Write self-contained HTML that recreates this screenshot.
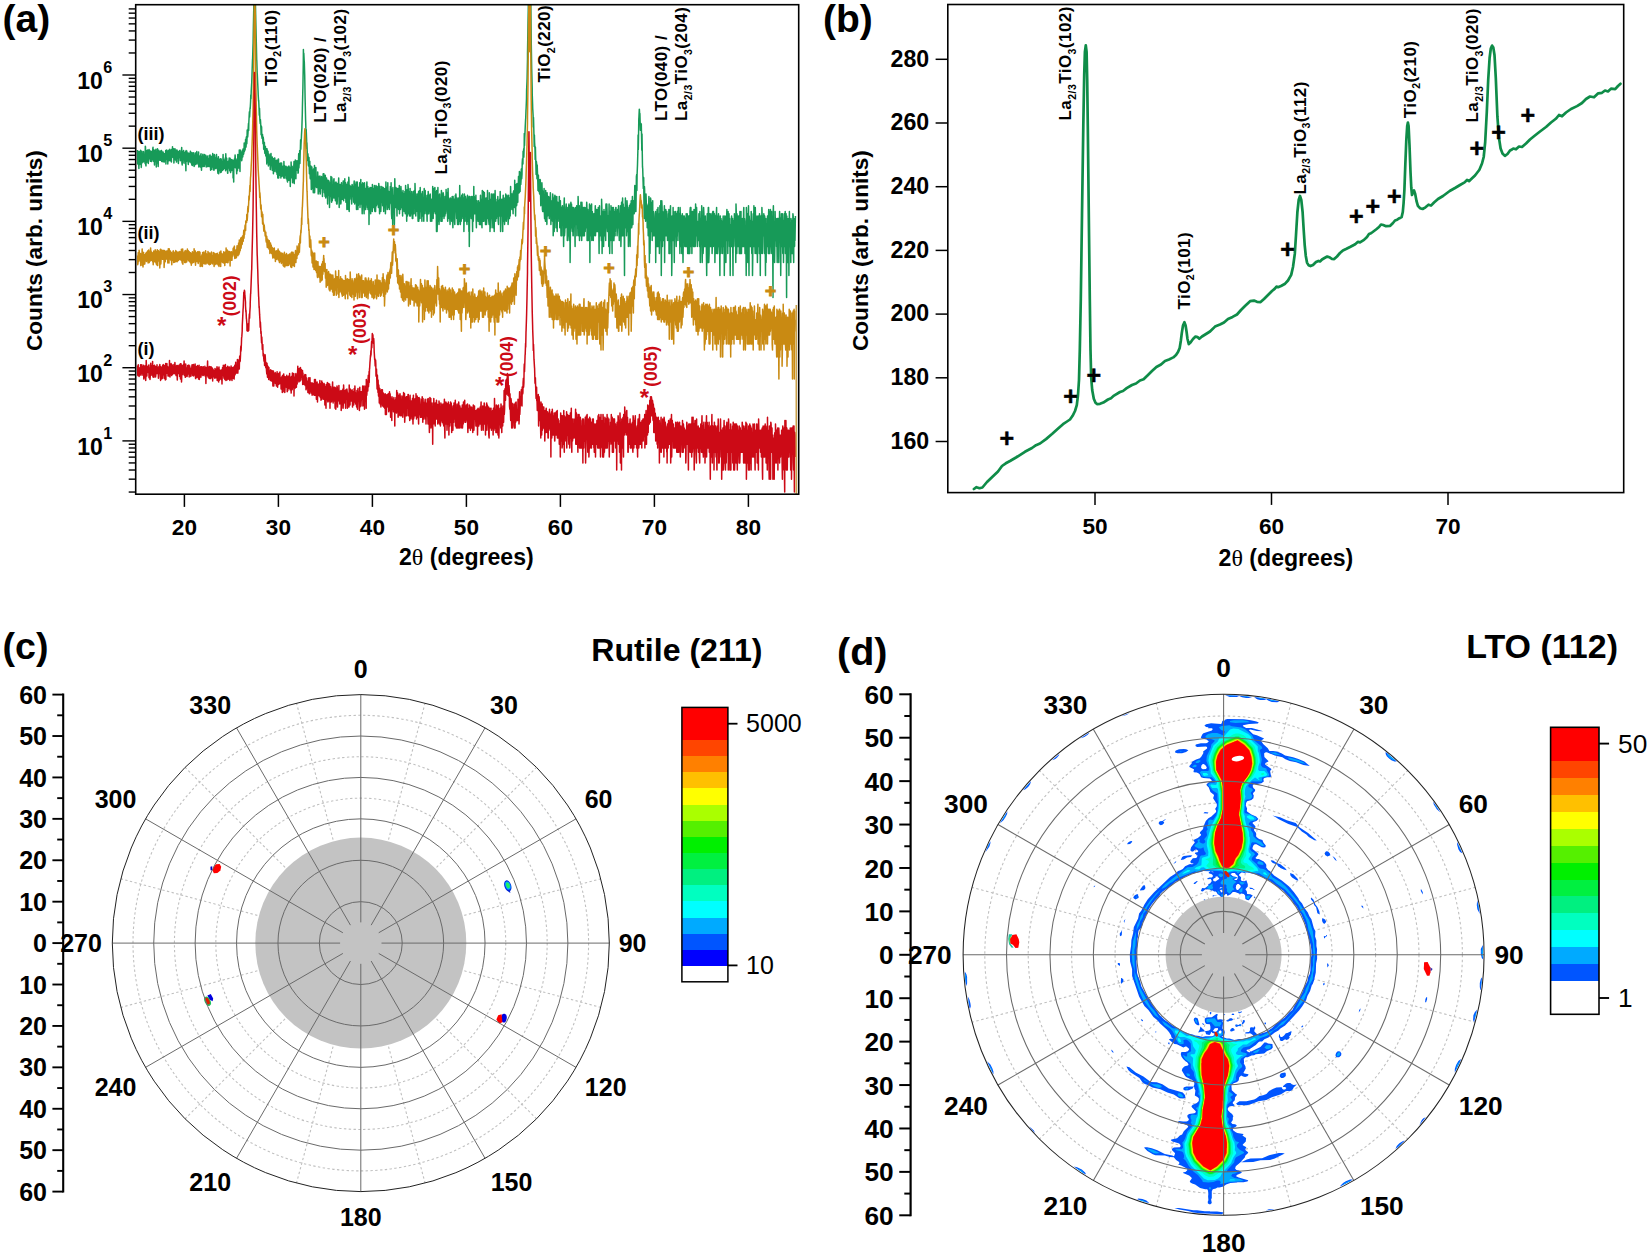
<!DOCTYPE html>
<html lang="en"><head><meta charset="utf-8"><title>XRD figure</title>
<style>
html,body{margin:0;padding:0;background:#fff;}
svg{display:block;font-family:"Liberation Sans", Arial, Helvetica, sans-serif;}
</style></head><body>
<svg width="1650" height="1256" viewBox="0 0 1650 1256">
<rect width="1650" height="1256" fill="#fff"/>
<clipPath id="clipA"><rect x="135.7" y="4.7" width="663.0" height="489.5"/></clipPath>
<g clip-path="url(#clipA)" fill="none" stroke-width="1.5" stroke-linejoin="round">
<path d="M137.5,149.9 137.7,163.9 138,161.6 138.2,153.5 138.5,151.8 138.7,163 138.9,168.5 139.1,151.5 139.3,152.8 139.7,164.4 139.8,151.8 140.2,159.9 140.4,163.9 140.6,150.2 140.8,153.8 141,161.2 141.3,167.4 141.5,155.2 141.8,151.2 142,163 142.2,161.2 142.4,153.5 142.7,154.5 142.9,159.5 143.2,162.1 143.4,151.5 143.6,152.1 143.8,157.9 144.1,161.6 144.3,154.2 144.6,156 144.8,160.7 145.1,163.4 145.3,146.2 145.5,147 145.7,164.9 146,165.9 146.2,150.2 146.5,151.2 146.7,162.5 146.8,153.8 147.2,159.9 147.4,158.7 147.6,149.9 147.9,154.5 148.1,156.7 148.3,163.4 148.6,157.1 148.7,157.1 149.1,149.6 149.2,150.5 149.6,158.7 149.8,158.7 150,152.5 150.2,150.9 150.4,161.2 150.7,159.5 150.9,151.2 151.2,151.8 151.4,157.1 151.6,161.6 151.8,151.5 152.1,154.5 152.3,159.5 152.6,158.3 152.8,148.4 153,147.3 153.2,159.5 153.5,161.2 153.7,149.6 154,151.5 154.2,158.7 154.5,164.9 154.7,150.5 154.9,153.8 155.1,159.9 155.4,161.6 155.6,151.8 155.9,149.3 156.1,160.7 156.3,166.9 156.5,151.5 156.8,154.2 157,163 157.3,162.1 157.5,148.7 157.7,153.8 157.9,162.1 158.2,166.4 158.4,153.1 158.7,150.2 158.9,159.9 159.2,159.5 159.4,151.2 159.6,154.9 159.8,160.3 160,156.3 160.4,150.9 160.6,155.6 160.8,160.3 161,157.5 161.2,151.2 161.5,150.5 161.7,161.6 162,158.3 162.2,151.8 162.4,153.5 162.6,161.2 162.9,161.6 163.1,152.1 163.4,154.2 163.6,157.9 163.8,153.5 164.1,159.5 164.2,162.1 164.6,156.3 164.8,153.8 165,157.5 165.3,160.7 165.5,153.5 165.7,150.5 165.9,163.9 166.2,156.7 166.4,152.5 166.7,149.9 166.9,158.7 167.1,159.1 167.3,151.5 167.6,152.1 167.8,163.9 168.1,156 168.3,150.5 168.6,155.2 168.8,159.5 169,160.7 169.2,149.9 169.4,156.3 169.8,149.3 170,152.1 170.2,154.5 170.4,160.7 170.6,151.5 170.9,150.2 171.1,152.8 171.4,162.1 171.6,149.6 171.8,152.8 172,155.6 172.3,157.1 172.5,146.7 172.8,154.2 173,157.5 173.3,156.3 173.5,150.9 173.7,148.7 173.9,163 174.2,158.3 174.4,153.5 174.6,157.5 175,148.7 175.1,149.9 175.3,159.1 175.6,159.9 175.8,150.9 176.1,150.2 176.3,159.5 176.5,162.1 176.7,153.1 177,149.9 177.2,157.5 177.5,158.3 177.7,153.5 178,151.2 178.2,161.2 178.4,163.4 178.6,153.1 178.9,152.1 179.1,157.5 179.3,156.3 179.7,150.5 179.8,150.9 180,156.3 180.3,160.7 180.5,155.2 180.8,153.8 181,159.1 181.2,160.3 181.4,151.5 181.7,147.6 181.9,163 182.2,164.9 182.4,151.2 182.7,151.5 182.9,161.6 183.1,163 183.3,153.1 183.6,150.5 183.8,157.9 184.1,157.9 184.3,152.5 184.5,155.6 184.7,160.7 185,163.4 185.2,154.5 185.5,151.5 185.7,163.9 185.9,170.8 186.1,150.5 186.4,151.5 186.6,161.2 186.8,150.9 187.2,160.7 187.4,160.7 187.6,153.5 187.8,153.1 188,161.6 188.3,164.4 188.5,153.5 188.8,153.1 189,158.7 189.2,161.6 189.4,153.8 189.7,156 189.9,162.1 190.2,158.7 190.4,151.2 190.6,154.5 190.8,161.2 191.1,163 191.3,152.5 191.6,154.5 191.8,164.9 192.1,159.9 192.3,154.9 192.4,165.4 192.8,152.8 193,156.3 193.2,164.4 193.5,162.5 193.7,152.8 193.9,154.9 194.1,166.4 194.4,165.9 194.6,155.6 194.9,155.2 195.1,160.3 195.3,164.4 195.5,153.1 195.8,153.1 196,162.1 196.3,163.9 196.5,153.5 196.8,151.5 197,158.3 197.2,163 197.4,156.7 197.7,155.2 197.9,162.5 198.2,164.4 198.4,154.9 198.6,152.1 198.8,166.9 199.1,159.9 199.3,156 199.5,163.4 199.9,156 200,158.7 200.3,166.9 200.5,163.9 200.7,155.2 201,153.8 201.2,164.9 201.5,170.2 201.7,157.9 201.9,157.5 202.1,163.4 202.4,166.4 202.6,156 202.9,154.2 203.1,166.4 203.3,166.4 203.5,156 203.8,156.7 204,165.9 204.3,166.4 204.5,154.5 204.7,157.5 204.9,163.4 205.2,163.9 205.4,158.3 205.7,155.2 205.9,164.4 206.2,166.9 206.4,158.3 206.6,158.7 206.8,163 207.1,166.4 207.3,156 207.6,159.9 207.8,166.4 208,165.9 208.2,159.9 208.4,159.1 208.8,165.9 209,166.4 209.2,155.6 209.4,157.9 209.6,166.4 209.9,165.9 210.1,154.9 210.4,158.7 210.6,170.2 210.8,156.7 211.1,164.4 211.3,169.6 211.5,157.9 211.8,156.3 212,166.9 212.3,163 212.5,159.5 212.7,153.5 212.9,165.4 213.2,169.6 213.4,156.3 213.7,156.3 213.9,170.2 214.1,169.6 214.3,154.5 214.6,159.9 214.8,167.9 215.1,168.5 215.3,158.3 215.6,160.7 215.8,168.5 216,167.4 216.2,155.2 216.5,154.5 216.7,167.9 217,167.9 217.2,159.5 217.4,158.7 217.6,169.6 217.9,173.2 218.1,158.7 218.4,156.7 218.6,173.8 218.8,173.2 219,159.5 219.2,159.5 219.6,169 219.8,170.2 220,161.2 220.3,158.7 220.5,172 220.7,172.6 220.9,161.6 221.2,159.1 221.4,172 221.7,169.6 221.9,161.2 222.1,161.6 222.3,167.9 222.6,170.2 222.8,163 223.1,154.5 223.3,168.5 223.5,169.6 223.7,162.5 224,159.9 224.2,168.5 224.5,167.9 224.7,162.5 224.9,167.9 225.2,157.9 225.4,159.9 225.6,170.8 225.8,153.8 226.2,169.6 226.3,163.9 226.7,158.3 226.8,164.4 227,169.6 227.2,163.4 227.6,173.2 227.8,173.2 228,161.6 228.2,161.6 228.4,166.9 228.7,167.9 228.9,162.1 229.2,157.9 229.4,165.4 229.7,170.8 229.9,163.4 230.1,158.3 230.3,169.6 230.6,172.6 230.8,159.5 231.1,159.5 231.3,170.8 231.5,164.4 231.7,160.3 232,159.9 232.2,167.4 232.5,170.2 232.7,163.4 232.9,160.3 233.1,178 233.3,163.9 233.7,181.9 233.8,167.9 234.2,163 234.4,159.1 234.6,167.4 234.7,162.5 235.1,154.9 235.3,157.5 235.5,167.4 235.8,167.9 236,159.9 236.2,160.3 236.4,166.9 236.7,173.8 236.9,160.3 237.2,158.7 237.4,170.8 237.6,166.4 237.8,154.5 238.1,154.9 238.3,165.4 238.6,167.9 238.8,154.5 239,165.4 239.3,149.9 239.5,156.3 239.7,163.4 240,171.4 240.2,149.9 240.5,154.5 240.7,158.7 240.9,157.1 241.1,152.1 241.3,153.8 241.7,160.7 241.9,159.5 242.1,153.5 242.3,150.2 242.5,157.1 242.8,156.7 243,149 243.3,149 243.5,154.2 243.8,153.1 244,149.9 244.2,143.1 244.4,151.5 244.6,149.3 245,143.8 245.1,149.9 245.5,142.1 245.6,139.2 245.8,147.3 246.1,146.2 246.3,137.2 246.6,136.4 246.8,143.8 247,139.4 247.2,130 247.5,131.3 247.7,137 248,133 248.2,128.2 248.5,123.4 248.7,130.6 248.8,123.2 249.2,115.2 249.4,111.8 249.6,116.9 249.9,111 250.1,107.6 250.2,108.7 250.6,101.5 250.8,95 251,98.8 251.2,91.9 251.6,84.5 251.7,83.3 252,74.7 252.1,71.4 252.5,59.7 252.6,59 253,45.4 253.1,43.2 253.4,25.5 253.5,21.2 253.9,1.7 255.4,1.7 255.8,21.4 255.9,25.8 256.3,42.1 256.4,46.3 256.7,59.7 256.8,60.8 257.2,73.2 257.3,74.2 257.7,83.2 257.8,85.3 258.1,91.8 258.2,94.7 258.6,101.3 258.7,100.2 259.1,109.3 259.3,115.1 259.5,108.3 259.7,114.3 259.9,120 260.2,123.5 260.4,119.6 260.6,122.2 261,130.6 261.1,134.7 261.3,126 261.6,127.1 261.8,136.4 262.1,138.3 262.3,135.3 262.5,134.5 262.8,140.5 263,143.8 263.2,137 263.5,139.6 263.7,149.3 264,147.3 264.2,143.1 264.4,142.4 264.6,150.5 264.9,153.5 265.1,147 265.4,146.5 265.6,151.2 265.8,156 266,148.4 266.3,151.2 266.5,156.3 266.8,163.9 267,148.7 267.3,152.5 267.5,160.7 267.6,158.7 268,151.2 268.2,155.6 268.4,165.9 268.7,164.9 268.9,159.9 269.1,154.2 269.3,163 269.6,162.1 269.8,156 270.1,159.5 270.3,169.6 270.5,165.9 270.7,155.2 271,153.5 271.2,163.9 271.5,165.4 271.7,160.7 272,164.9 272.2,170.2 272.3,157.1 272.7,163.9 272.8,159.1 273.2,165.4 273.4,173.8 273.6,158.7 273.8,159.5 274,167.4 274.3,171.4 274.5,157.9 274.8,157.9 275,168.5 275.2,166.9 275.4,160.7 275.7,160.7 275.9,171.4 276.2,172 276.4,160.3 276.7,163.4 276.9,172 277.1,174.5 277.3,160.3 277.6,163 277.8,178 278.1,172 278.3,159.1 278.5,159.1 278.7,178 279,169 279.2,163.4 279.5,165.4 279.7,171.4 279.9,175.2 280.1,163.4 280.4,163 280.6,172.6 280.9,178 281.1,164.4 281.3,176.6 281.6,163 281.8,169 282,175.9 282.3,175.9 282.5,167.9 282.7,173.2 283.1,166.9 283.2,165.9 283.4,175.9 283.7,178 283.9,161.6 284.1,167.9 284.5,175.2 284.6,178 284.8,165.9 285.1,168.5 285.3,174.5 285.6,175.2 285.8,166.9 286.1,166.4 286.3,178.7 286.5,174.5 286.7,169 287,167.4 287.2,180.3 287.5,181.9 287.7,170.2 287.9,166.9 288.1,176.6 288.4,180.3 288.6,172.6 288.9,165.9 289.1,180.3 289.3,173.2 289.6,166.9 289.7,170.8 290.1,179.5 290.3,186.4 290.5,167.9 290.8,167.4 291,178 291.1,162.1 291.5,171.4 291.7,172 291.9,166.9 292.2,166.4 292.4,175.2 292.6,182.8 292.8,168.5 293.1,169 293.3,181.1 293.6,180.3 293.8,165.9 294,161.6 294.2,183.6 294.5,175.9 294.7,169.6 294.9,173.8 295.3,159.9 295.5,163.4 295.7,173.8 295.9,178.7 296.1,167.9 296.4,163.4 296.6,169 296.8,160.7 297.2,170.2 297.2,169 297.6,163 297.8,160.7 298,173.2 298.3,172.6 298.5,160.3 298.7,153.8 298.9,167.9 299.1,164.4 299.5,156 299.7,150.5 299.9,163.4 300.2,153.1 300.4,148.4 300.6,139.8 300.8,149.3 301,144.1 301.4,137.2 301.5,134.9 301.9,127.9 301.9,127 302.3,114.1 302.4,107.9 302.8,91 302.9,87.9 303.3,62.6 303.4,49.6 303.6,59.4 303.8,53.2 304.2,61 304.3,61.8 304.7,74.8 304.8,80.2 305.1,98.4 305.2,102.1 305.6,119.7 305.7,122.2 306.1,136.2 306.2,129.6 306.6,139.6 306.7,148.7 306.9,142.8 307.2,150.5 307.4,155.6 307.7,160.7 307.9,153.8 308.1,157.1 308.3,164.9 308.5,165.9 308.9,159.5 309,157.5 309.4,173.8 309.6,172.6 309.8,161.2 310,168.5 310.2,178 310.4,178.7 310.8,169 310.9,165.9 311.3,189.4 311.4,179.5 311.6,170.8 311.9,166.9 312.1,188.4 312.4,183.6 312.6,173.8 312.8,170.2 313,187.4 313.3,192.8 313.5,169 313.8,174.5 314,186.4 314.3,179.5 314.5,165.4 314.6,192.8 315,182.8 315.2,174.5 315.4,178.7 315.7,186.4 315.9,167.4 316.1,176.6 316.3,184.5 316.5,187.4 316.9,179.5 317.1,177.3 317.3,187.4 317.5,184.5 317.7,172 318,181.9 318.2,194 318.5,187.4 318.7,176.6 319,178 319.2,191.6 319.4,186.4 319.6,177.3 319.9,175.9 320.1,194 320.4,192.8 320.6,178 320.8,179.5 321,188.4 321.3,186.4 321.5,176.6 321.8,179.5 322,183.6 322.2,181.9 322.5,196.5 322.7,185.5 322.9,180.3 323.2,173.8 323.4,189.4 323.7,189.4 323.9,173.8 324.1,181.9 324.3,192.8 324.5,183.6 324.9,192.8 325.1,196.5 325.3,175.2 325.4,179.5 325.8,197.9 326,194 326.2,179.5 326.5,178 326.7,196.5 326.9,191.6 327.1,181.9 327.4,180.3 327.6,204 327.9,190.5 328.1,180.3 328.4,182.8 328.6,195.2 328.8,194 329,181.1 329.3,185.5 329.5,207.5 329.8,191.6 330,183.6 330.2,182.8 330.4,196.5 330.7,194 330.9,176.6 331.2,187.4 331.4,199.3 331.6,202.3 331.8,177.3 332.1,181.1 332.3,200.8 332.6,195.2 332.8,187.4 333.1,185.5 333.3,197.9 333.5,196.5 333.7,180.3 334,178.7 334.2,192.8 334.5,197.9 334.7,184.5 334.9,183.6 335.1,195.2 335.4,200.8 335.6,182.8 335.9,181.9 336.1,194 336.3,182.8 336.6,204 336.7,190.5 337.1,204 337.3,200.8 337.5,183.6 337.8,186.4 338,192.8 338.2,196.5 338.4,186.4 338.7,178 338.9,194 339.2,207.5 339.4,185.5 339.6,184.5 339.8,200.8 340.1,195.2 340.3,185.5 340.6,184.5 340.8,204 341,202.3 341.2,187.4 341.5,182.8 341.7,199.3 342,194 342.2,186.4 342.5,185.5 342.7,199.3 342.8,197.9 343.2,181.1 343.4,181.1 343.6,200.8 343.8,186.4 344.2,195.2 344.3,197.9 344.5,184.5 344.8,178.7 345,195.2 345.2,197.9 345.6,182.8 345.7,184.5 345.9,202.3 346.1,192.8 346.5,184.5 346.7,186.4 346.9,209.4 347.1,205.7 347.4,187.4 347.5,195.2 347.9,181.9 348.1,189.4 348.3,209.4 348.6,200.8 348.8,177.3 349,180.3 349.2,211.5 349.4,202.3 349.8,187.4 350,185.5 350.2,195.2 350.4,195.2 350.6,188.4 350.9,187.4 351.1,199.3 351.3,186.4 351.7,204 351.9,199.3 352.1,184.5 352.3,185.5 352.5,196.5 352.8,196.5 353,186.4 353.2,189.4 353.6,199.3 353.7,202.3 353.9,185.5 354.2,181.1 354.4,200.8 354.7,204 354.9,192.8 355.1,184.5 355.3,197.9 355.6,202.3 355.8,189.4 356.1,181.9 356.3,202.3 356.5,209.4 356.8,189.4 356.9,199.3 357.3,181.9 357.5,191.6 357.7,202.3 357.9,209.4 358.3,187.4 358.3,205.7 358.7,187.4 358.9,187.4 359.1,204 359.3,195.2 359.7,182.8 359.8,184.5 360,207.5 360.3,197.9 360.5,186.4 360.8,179.5 361,204 361.3,197.9 361.5,187.4 361.7,184.5 361.9,202.3 362.2,213.7 362.4,191.6 362.7,182.8 362.9,205.7 363.1,196.5 363.3,183.6 363.6,191.6 363.8,207.5 364.1,213.7 364.3,189.4 364.5,182.8 364.7,192.8 365,209.4 365.2,188.4 365.5,188.4 365.7,209.4 365.9,190.5 366.2,199.3 366.3,195.2 366.7,185.5 366.9,181.9 367.1,202.3 367.4,207.5 367.6,186.4 367.8,186.4 368,209.4 368.3,205.7 368.5,191.6 368.8,188.4 369,224.4 369.2,205.7 369.4,188.4 369.6,207.5 370,187.4 370.2,188.4 370.4,200.8 370.7,213.7 370.9,187.4 371.1,189.4 371.3,196.5 371.6,197.9 371.8,190.5 372.1,191.6 372.3,211.5 372.4,184.5 372.8,207.5 373,207.5 373.2,188.4 373.5,191.6 373.7,207.5 373.9,207.5 374.1,194 374.4,185.5 374.6,209.4 374.9,211.5 375.1,187.4 375.4,187.4 375.6,211.5 375.8,202.3 376,185.5 376.3,195.2 376.5,205.7 376.8,202.3 377,194 377.2,186.4 377.4,202.3 377.7,204 377.9,189.4 378.2,192.8 378.4,207.5 378.6,199.3 378.8,183.6 379,188.4 379.4,205.7 379.6,213.7 379.8,186.4 380.1,186.4 380.3,207.5 380.4,194 380.8,211.5 381,205.7 381.2,191.6 381.5,189.4 381.7,195.2 381.8,186.4 382.2,202.3 382.3,191.6 382.7,205.7 382.8,200.8 383.2,187.4 383.3,189.4 383.5,202.3 383.7,211.5 384.1,196.5 384.3,188.4 384.5,207.5 384.8,205.7 385,192.8 385.2,188.4 385.4,213.7 385.7,205.7 385.9,181.9 386.2,195.2 386.4,204 386.6,202.3 386.8,187.4 387.1,192.8 387.3,209.4 387.6,204 387.8,182.8 388,192.8 388.2,207.5 388.4,205.7 388.8,191.6 388.9,192.8 389.3,209.4 389.5,204 389.7,194 389.8,204 390.2,190.5 390.4,186.4 390.6,196.5 390.9,200.8 391.1,182.8 391.3,199.3 391.5,213.7 391.8,218.6 392,189.4 392.3,195.2 392.5,213.7 392.7,224.4 392.9,187.4 393.1,195.2 393.5,205.7 393.7,205.7 393.9,199.3 394.1,195.2 394.4,224.4 394.6,205.7 394.8,178.7 395,192.8 395.4,207.5 395.6,207.5 395.8,194 396,187.4 396.2,204 396.4,192.8 396.8,205.7 397,216 397.2,188.4 397.4,194 397.6,204 397.9,200.8 398.1,188.4 398.4,199.3 398.6,209.4 398.9,207.5 399.1,195.2 399.3,185.5 399.5,213.7 399.8,195.2 400,188.4 400.3,196.5 400.5,209.4 400.7,207.5 400.9,186.4 401.2,191.6 401.4,207.5 401.6,194 402,205.7 402.1,192.8 402.4,205.7 402.6,216 402.8,192.8 403,190.5 403.4,205.7 403.5,209.4 403.8,197.9 404,194 404.2,211.5 404.4,194 404.8,200.8 404.9,191.6 405.3,213.7 405.4,207.5 405.6,185.5 405.9,192.8 406.1,200.8 406.3,191.6 406.7,221.3 406.8,209.4 407,192.8 407.3,189.4 407.5,216 407.8,204 408,184.5 408.3,189.4 408.5,213.7 408.7,207.5 408.9,191.6 409.2,195.2 409.4,209.4 409.7,216 409.9,194 410.1,188.4 410.3,207.5 410.5,216 410.9,199.3 411.1,194 411.3,207.5 411.5,213.7 411.7,191.6 411.9,196.5 412.3,218.6 412.4,195.2 412.8,218.6 413,207.5 413.2,196.5 413.4,191.6 413.6,207.5 413.9,213.7 414.1,192.8 414.4,190.5 414.6,207.5 414.8,207.5 415,183.6 415.3,194 415.5,213.7 415.8,216 416,196.5 416.2,200.8 416.5,211.5 416.7,202.3 416.9,194 417.1,205.7 417.5,195.2 417.7,194 417.9,213.7 418.1,221.3 418.3,196.5 418.6,191.6 418.8,221.3 419.1,211.5 419.3,192.8 419.5,190.5 419.7,218.6 420,218.6 420.2,187.4 420.4,197.9 420.8,209.4 420.9,211.5 421.1,194 421.3,197.9 421.7,213.7 421.9,221.3 422.1,194 422.4,191.6 422.6,216 422.7,205.7 423.1,197.9 423.3,200.8 423.5,209.4 423.8,221.3 424,196.5 424.2,188.4 424.4,213.7 424.7,205.7 424.9,194 425.2,190.5 425.4,209.4 425.6,195.2 425.9,204 426.1,213.7 426.3,197.9 426.6,199.3 426.8,209.4 427.1,221.3 427.3,195.2 427.5,196.5 427.7,211.5 428,213.7 428.2,191.6 428.5,200.8 428.7,209.4 428.8,213.7 429.2,196.5 429.4,195.2 429.6,209.4 429.8,211.5 430.2,194 430.3,195.2 430.5,221.3 430.7,213.7 431.1,199.3 431.3,199.3 431.5,213.7 431.8,221.3 432,199.3 432.1,211.5 432.5,205.7 432.7,186.4 432.9,204 433.2,218.6 433.4,189.4 433.5,213.7 433.9,188.4 434.1,199.3 434.3,211.5 434.5,207.5 434.9,187.4 435,202.3 435.2,211.5 435.5,213.7 435.7,199.3 436,191.6 436.2,207.5 436.5,231.4 436.7,190.5 436.9,194 437.1,231.4 437.4,218.6 437.6,199.3 437.9,187.4 438.1,213.7 438.3,221.3 438.5,196.5 438.8,195.2 439,224.4 439.3,218.6 439.5,195.2 439.7,194 440,209.4 440.2,216 440.4,197.9 440.7,202.3 440.9,221.3 441.2,218.6 441.4,190.5 441.6,192.8 441.8,218.6 442.1,221.3 442.3,196.5 442.6,194 442.8,207.5 443,216 443.2,192.8 443.5,195.2 443.7,209.4 444,218.6 444.2,199.3 444.4,200.8 444.6,207.5 444.9,216 445.1,196.5 445.4,199.3 445.6,213.7 445.9,211.5 446.1,189.4 446.3,196.5 446.5,207.5 446.8,209.4 447,192.8 447.3,197.9 447.5,216 447.7,221.3 447.9,192.8 448.1,188.4 448.5,213.7 448.7,205.7 448.9,197.9 449.1,218.6 449.4,199.3 449.6,199.3 449.8,218.6 450.1,224.4 450.3,204 450.6,197.9 450.8,213.7 451,216 451.2,199.3 451.5,199.3 451.7,221.3 452,218.6 452.2,196.5 452.4,200.8 452.6,221.3 452.9,227.7 453.1,196.5 453.4,205.7 453.6,218.6 453.8,211.5 454,202.3 454.3,199.3 454.5,221.3 454.8,224.4 455,209.4 455.3,195.2 455.5,211.5 455.7,209.4 455.9,194 456.2,199.3 456.4,209.4 456.7,218.6 456.9,204 457.1,197.9 457.3,218.6 457.6,224.4 457.8,202.3 458.1,199.3 458.3,218.6 458.5,224.4 458.7,197.9 459,209.4 459.2,221.3 459.5,213.7 459.7,185.5 460,202.3 460.2,221.3 460.4,224.4 460.6,197.9 460.9,197.9 461.1,221.3 461.4,218.6 461.6,196.5 461.8,195.2 462,216 462.2,216 462.6,194 462.8,202.3 463,218.6 463.2,211.5 463.4,197.9 463.7,197.9 463.9,231.4 464.2,213.7 464.4,194 464.6,197.9 464.9,213.7 465.1,221.3 465.3,197.9 465.5,196.5 465.9,202.3 466.1,213.7 466.3,199.3 466.5,202.3 466.7,221.3 467,224.4 467.2,199.3 467.5,195.2 467.7,218.6 467.9,221.3 468.1,204 468.3,197.9 468.7,209.4 468.9,231.4 469.1,196.5 469.3,246.4 469.6,216 469.8,196.5 470,216 470.2,209.4 470.6,202.3 470.8,199.3 471,209.4 471.2,218.6 471.4,196.5 471.6,213.7 472,204 472.2,197.9 472.4,218.6 472.6,231.4 472.8,196.5 473.1,200.8 473.3,221.3 473.6,209.4 473.8,186.4 474,213.7 474.3,196.5 474.4,197.9 474.8,213.7 474.9,204 475.3,213.7 475.5,209.4 475.7,202.3 475.9,195.2 476.1,218.6 476.4,227.7 476.6,200.8 476.9,200.8 477.1,218.6 477.3,213.7 477.6,204 477.8,207.5 478,221.3 478.3,221.3 478.5,200.8 478.7,213.7 479,205.7 479.2,202.3 479.4,224.4 479.7,224.4 479.9,202.3 480.1,221.3 480.5,195.2 480.6,199.3 480.8,224.4 481.1,211.5 481.3,200.8 481.6,199.3 481.8,224.4 482,227.7 482.3,190.5 482.4,205.7 482.8,221.3 482.9,209.4 483.3,195.2 483.5,191.6 483.7,213.7 483.9,221.3 484.1,195.2 484.4,192.8 484.6,213.7 484.9,216 485.1,197.9 485.3,207.5 485.5,224.4 485.8,218.6 486,200.8 486.3,197.9 486.5,224.4 486.7,221.3 486.9,200.8 487.1,213.7 487.5,190.5 487.6,218.6 488,204 488.1,211.5 488.4,200.8 488.6,202.3 488.8,221.3 489.1,224.4 489.3,192.8 489.6,200.8 489.8,209.4 490,231.4 490.2,199.3 490.5,202.3 490.7,218.6 490.9,227.7 491.3,202.3 491.4,194 491.6,211.5 491.9,218.6 492.1,194 492.4,196.5 492.6,218.6 492.9,227.7 493.1,197.9 493.3,196.5 493.5,218.6 493.7,194 494.1,213.7 494.2,231.4 494.6,200.8 494.7,200.8 494.9,213.7 495.1,190.5 495.5,211.5 495.7,221.3 495.9,199.3 496.1,204 496.3,213.7 496.5,218.6 496.9,202.3 497,202.3 497.4,216 497.6,213.7 497.8,196.5 498,204 498.2,221.3 498.5,224.4 498.7,200.8 499,209.4 499.2,216 499.4,213.7 499.6,199.3 499.8,216 500.2,191.6 500.4,207.5 500.6,231.4 500.8,216 501,199.3 501.3,200.8 501.5,211.5 501.8,216 502,199.3 502.3,202.3 502.5,224.4 502.7,231.4 502.9,205.7 503.2,195.2 503.4,221.3 503.6,209.4 504,197.9 504.1,197.9 504.3,218.6 504.6,224.4 504.8,204 505,200.8 505.4,218.6 505.5,213.7 505.7,194 506,205.7 506.2,221.3 506.5,218.6 506.7,202.3 507,195.2 507.2,213.7 507.4,209.4 507.6,196.5 507.9,197.9 508.1,224.4 508.4,218.6 508.6,195.2 508.7,218.6 509.1,197.9 509.3,200.8 509.5,218.6 509.7,197.9 510.1,216 510.2,216 510.4,204 510.6,186.4 511,204 511.2,207.5 511.4,196.5 511.7,194 511.9,209.4 512.1,207.5 512.3,194 512.6,197.9 512.8,202.3 513.1,213.7 513.3,192.8 513.5,191.6 513.7,204 513.9,190.5 514.3,204 514.5,207.5 514.7,180.3 514.9,204 515.2,195.2 515.4,191.6 515.6,216 515.9,197.9 516.1,184.5 516.4,192.8 516.6,205.7 516.8,204 517,183.6 517.3,185.5 517.5,202.3 517.8,202.3 518,183.6 518.1,194 518.5,176.6 518.7,178 518.9,191.6 519.2,192.8 519.4,171.4 519.6,176.6 519.8,189.4 520.1,191.6 520.3,172.6 520.6,178 520.8,184.5 521.1,179.5 521.3,169 521.5,172 521.7,178.7 522,174.5 522.2,163.4 522.5,158.7 522.7,163.4 522.9,163.9 523.1,151.2 523.3,155.6 523.7,148.7 523.8,157.1 524.2,145.9 524.3,133.6 524.5,145.6 524.7,138.5 525.1,130.1 525.2,127.6 525.6,119.3 525.7,118.7 526,110.1 526.1,108.7 526.5,98.5 526.6,90.3 527,81.3 527.1,78.3 527.5,59.1 527.5,53.9 527.9,30.2 528,23.6 528.4,1.7 530.8,1.7 531.2,39.1 531.3,45.6 531.7,69.1 531.8,73 532.2,88.3 532.2,93 532.6,104.5 532.7,108.2 533.1,115.3 533.3,127.1 533.5,117.4 533.7,125.3 534,136.4 534.2,146.5 534.4,134.9 534.6,142.6 535,149 535.2,159.5 535.4,147 535.6,155.6 535.8,161.6 536.1,174.5 536.3,161.2 536.6,163.4 536.8,173.2 537,178.7 537.2,164.9 537.4,170.8 537.8,181.1 538,190.5 538.2,176.6 538.4,175.2 538.6,183.6 538.9,191.6 539.1,179.5 539.4,181.9 539.6,194 539.9,189.4 540.1,179.5 540.3,180.3 540.5,191.6 540.8,205.7 541,189.4 541.3,186.4 541.5,194 541.7,200.8 541.9,182.8 542.2,190.5 542.4,209.4 542.7,211.5 542.9,192.8 543.1,191.6 543.3,199.3 543.6,211.5 543.8,196.5 544.1,188.4 544.3,211.5 544.6,218.6 544.8,195.2 544.9,195.2 545.3,218.6 545.5,221.3 545.7,190.5 545.9,216 546.3,192.8 546.4,197.9 546.6,216 546.9,224.4 547.1,192.8 547.4,199.3 547.6,216 547.8,213.7 548,197.9 548.2,202.3 548.6,213.7 548.7,196.5 549.1,216 549.3,218.6 549.5,197.9 549.7,199.3 549.9,213.7 550.2,213.7 550.4,192.8 550.7,202.3 550.9,224.4 551.1,213.7 551.3,204 551.6,202.3 551.8,216 552,200.8 552.4,213.7 552.5,221.3 552.7,194 553,197.9 553.2,235.7 553.5,224.4 553.7,207.5 554,197.9 554.2,231.4 554.4,221.3 554.6,197.9 554.9,195.2 555.1,218.6 555.4,218.6 555.6,196.5 555.8,196.5 556,227.7 556.3,221.3 556.5,205.7 556.8,196.5 557,224.4 557.2,231.4 557.4,207.5 557.7,202.3 557.9,218.6 558.2,218.6 558.4,207.5 558.7,202.3 558.9,221.3 559.1,218.6 559.3,196.5 559.6,209.4 559.8,227.7 560,224.4 560.4,200.8 560.5,211.5 560.7,218.6 561,235.7 561.2,209.4 561.5,207.5 561.7,227.7 561.9,235.7 562.1,207.5 562.4,205.7 562.6,218.6 562.9,221.3 563.1,207.5 563.4,209.4 563.6,246.4 563.8,224.4 564,205.7 564.3,197.9 564.5,235.7 564.8,231.4 565,211.5 565.2,209.4 565.4,224.4 565.7,227.7 565.9,207.5 566.2,204 566.4,218.6 566.6,224.4 566.8,213.7 567.1,209.4 567.3,240.6 567.6,235.7 567.8,207.5 568.1,216 568.3,235.7 568.5,224.4 568.7,205.7 569,204 569.2,240.6 569.5,235.7 569.7,205.7 569.9,205.7 570.1,262.6 570.4,231.4 570.6,205.7 570.9,202.3 571.1,227.7 571.3,216 571.5,204 571.8,211.5 572,227.7 572.3,231.4 572.5,207.5 572.8,218.6 573,235.7 573.2,235.7 573.4,207.5 573.7,209.4 573.9,224.4 574.2,224.4 574.4,209.4 574.6,211.5 574.8,227.7 575.1,246.4 575.3,207.5 575.5,209.4 575.9,221.3 576,213.7 576.3,224.4 576.5,224.4 576.7,205.7 576.9,235.7 577.3,209.4 577.5,213.7 577.7,227.7 577.9,224.4 578.1,196.5 578.4,207.5 578.6,235.7 578.9,231.4 579.1,205.7 579.3,205.7 579.5,240.6 579.8,218.6 580,209.4 580.2,211.5 580.6,235.7 580.7,231.4 580.9,202.3 581.2,207.5 581.4,218.6 581.7,240.6 581.9,202.3 582.2,209.4 582.4,235.7 582.6,235.7 582.8,207.5 583,216 583.4,235.7 583.5,207.5 583.9,231.4 584,224.4 584.2,207.5 584.4,235.7 584.8,207.5 585,209.4 585.2,231.4 585.4,221.3 585.6,211.5 585.8,227.7 586.2,207.5 586.3,218.6 586.7,202.3 586.9,205.7 587.1,240.6 587.3,235.7 587.5,213.7 587.8,209.4 588,231.4 588.3,240.6 588.5,213.7 588.6,216 589,224.4 589.1,221.3 589.5,204 589.7,213.7 589.9,262.6 590.1,221.3 590.3,205.7 590.6,209.4 590.8,227.7 591.1,235.7 591.3,205.7 591.6,204 591.8,240.6 591.9,231.4 592.3,211.5 592.5,213.7 592.7,231.4 593,221.3 593.2,216 593.3,240.6 593.7,216 593.9,213.7 594.1,235.7 594.3,213.7 594.7,224.4 594.8,227.7 595,216 595.3,205.7 595.5,235.7 595.8,227.7 596,213.7 596.2,231.4 596.5,209.4 596.7,209.4 596.9,231.4 597.2,227.7 597.4,213.7 597.7,209.4 597.9,231.4 598.1,227.7 598.3,207.5 598.6,209.4 598.8,227.7 599.1,253.5 599.3,211.5 599.5,205.7 599.7,235.7 600,231.4 600.2,216 600.5,216 600.7,235.7 600.9,216 601.2,235.7 601.4,240.6 601.6,199.3 601.9,209.4 602.1,253.5 602.4,231.4 602.6,213.7 602.7,211.5 603.1,235.7 603.2,216 603.6,246.4 603.8,224.4 604,209.4 604.2,221.3 604.4,235.7 604.7,227.7 604.9,218.6 605.2,211.5 605.4,231.4 605.7,240.6 605.9,205.7 606,204 606.4,227.7 606.6,224.4 606.8,204 607.1,211.5 607.3,227.7 607.5,231.4 607.7,218.6 608,216 608.2,227.7 608.4,221.3 608.8,246.4 608.9,213.7 609.1,204 609.3,224.4 609.7,253.5 609.9,235.7 610.1,211.5 610.4,213.7 610.6,240.6 610.8,227.7 611,205.7 611.3,211.5 611.5,227.7 611.7,207.5 612.1,253.5 612.1,240.6 612.5,216 612.7,207.5 612.9,231.4 613.2,240.6 613.4,207.5 613.6,213.7 613.9,240.6 614.1,235.7 614.3,216 614.6,211.5 614.8,221.3 615.1,235.7 615.3,209.4 615.4,231.4 615.8,207.5 616,207.5 616.2,227.7 616.5,221.3 616.7,211.5 616.9,216 617.1,235.7 617.4,227.7 617.6,209.4 617.9,211.5 618.1,227.7 618.3,224.4 618.5,205.7 618.8,205.7 619,231.4 619.3,240.6 619.5,218.6 619.8,213.7 620,227.7 620.2,227.7 620.4,213.7 620.7,205.7 620.9,246.4 621.2,231.4 621.4,209.4 621.6,202.3 621.8,224.4 622.1,235.7 622.3,209.4 622.6,197.9 622.8,235.7 623,218.6 623.2,204 623.4,235.7 623.8,211.5 624,207.5 624.2,224.4 624.5,275.5 624.7,207.5 624.8,221.3 625.2,209.4 625.4,197.9 625.6,227.7 625.9,227.7 626.1,207.5 626.3,205.7 626.5,235.7 626.8,227.7 627,200.8 627.3,207.5 627.5,231.4 627.7,231.4 627.9,213.7 628.2,209.4 628.4,246.4 628.7,227.7 628.9,207.5 629.1,221.3 629.4,205.7 629.6,213.7 629.8,227.7 630.1,246.4 630.3,204 630.6,204 630.8,227.7 631,224.4 631.2,200.8 631.5,202.3 631.7,227.7 632,224.4 632.2,205.7 632.4,196.5 632.6,213.7 632.9,224.4 633.1,202.3 633.3,213.7 633.7,200.8 633.9,204 634.1,213.7 634.2,213.7 634.6,194 634.8,185.5 635,211.5 635.3,202.3 635.5,189.4 635.7,185.5 635.9,211.5 636.2,191.6 636.4,176.6 636.7,174.5 636.9,190.5 637.1,174.5 637.3,169.6 637.5,164.9 637.9,149.9 638.1,135.1 638.3,149.6 638.5,138.7 638.8,118.7 638.9,117.7 639.3,109.2 639.4,109.5 639.8,118 639.9,113.4 640.3,127.6 640.4,130.3 640.6,125.3 640.9,123.5 641.1,129.3 641.3,124 641.7,143.3 641.8,150.2 642,133.9 642.3,154.5 642.5,166.9 642.7,168.5 643.1,181.9 643.3,188.4 643.5,177.3 643.7,178 643.9,197.9 644.2,218.6 644.4,186.4 644.6,189.4 645,207.5 645,199.3 645.4,209.4 645.6,221.3 645.8,202.3 646,194 646.4,205.7 646.5,218.6 646.7,204 647,205.7 647.2,227.7 647.5,227.7 647.7,209.4 648,205.7 648.2,235.7 648.4,231.4 648.6,209.4 648.9,196.5 649.1,227.7 649.4,262.6 649.6,207.5 649.8,207.5 650,253.5 650.3,235.7 650.5,197.9 650.8,199.3 651,231.4 651.2,231.4 651.4,202.3 651.6,209.4 652,224.4 652.2,240.6 652.4,211.5 652.7,200.8 652.9,235.7 653.1,231.4 653.3,211.5 653.6,216 653.8,235.7 654.1,235.7 654.3,218.6 654.5,218.6 654.7,235.7 655,227.7 655.2,213.7 655.5,211.5 655.7,262.6 655.9,235.7 656.1,216 656.4,213.7 656.6,240.6 656.9,246.4 657.1,209.4 657.4,209.4 657.6,240.6 657.8,246.4 658,207.5 658.3,227.7 658.5,240.6 658.8,246.4 659,221.3 659.2,213.7 659.4,253.5 659.7,231.4 659.9,205.7 660.2,205.7 660.4,240.6 660.6,240.6 660.8,200.8 661.1,218.6 661.3,275.5 661.6,235.7 661.8,200.8 662.1,207.5 662.3,246.4 662.5,246.4 662.7,211.5 663,216 663.2,240.6 663.4,218.6 663.8,240.6 663.9,227.7 664.1,218.6 664.4,205.7 664.6,262.6 664.8,235.7 665.2,224.4 665.3,224.4 665.6,213.7 665.8,209.4 666,235.7 666.3,231.4 666.5,213.7 666.8,211.5 667,235.7 667.1,218.6 667.5,240.6 667.7,231.4 667.9,218.6 668.1,231.4 668.5,213.7 668.5,235.7 668.9,209.4 669,253.5 669.4,221.3 669.6,221.3 669.8,246.4 670,253.5 670.2,213.7 670.5,205.7 670.7,231.4 671,240.6 671.2,216 671.5,218.6 671.7,275.5 671.9,262.6 672.1,216 672.4,216 672.6,240.6 672.9,235.7 673.1,207.5 673.2,240.6 673.6,221.3 673.8,211.5 674,235.7 674.3,262.6 674.5,221.3 674.7,216 674.9,235.7 675.2,231.4 675.4,211.5 675.7,216 675.9,235.7 676.2,246.4 676.4,216 676.6,213.7 676.8,235.7 677,235.7 677.4,211.5 677.5,235.7 677.9,224.4 677.9,240.6 678.3,207.5 678.5,216 678.7,231.4 678.9,231.4 679.3,213.7 679.4,213.7 679.6,231.4 679.9,253.5 680.1,207.5 680.4,218.6 680.6,246.4 680.9,235.7 681.1,221.3 681.3,216 681.5,231.4 681.8,253.5 682,218.6 682.3,213.7 682.5,246.4 682.6,227.7 683,262.6 683.2,246.4 683.4,218.6 683.7,216 683.9,240.6 684.1,235.7 684.3,216 684.6,221.3 684.8,246.4 685.1,246.4 685.3,218.6 685.5,221.3 685.8,246.4 686,231.4 686.2,213.7 686.5,224.4 686.7,246.4 687,246.4 687.2,213.7 687.3,216 687.7,253.5 687.9,240.6 688.1,216 688.4,216 688.6,253.5 688.8,227.7 689.1,216 689.3,235.7 689.5,253.5 689.8,253.5 690,211.5 690.3,207.5 690.5,231.4 690.7,246.4 690.9,207.5 691.1,231.4 691.5,211.5 691.7,216 691.9,253.5 692.1,235.7 692.3,211.5 692.6,211.5 692.8,240.6 693.1,240.6 693.3,216 693.5,246.4 693.8,218.6 694,209.4 694.2,235.7 694.5,246.4 694.7,218.6 695,209.4 695.2,246.4 695.4,240.6 695.6,204 695.9,218.6 696.1,235.7 696.4,227.7 696.6,207.5 696.8,218.6 697,231.4 697.3,246.4 697.5,221.3 697.7,224.4 698.1,240.6 698.2,224.4 698.5,235.7 698.7,240.6 698.9,213.7 699.1,224.4 699.5,246.4 699.7,227.7 699.9,211.5 700.1,218.6 700.3,262.6 700.6,246.4 700.8,224.4 701.1,218.6 701.3,235.7 701.5,240.6 701.7,205.7 702,211.5 702.2,262.6 702.5,246.4 702.7,216 702.9,216 703.1,253.5 703.4,246.4 703.6,207.5 703.9,213.7 704.1,240.6 704.3,231.4 704.6,246.4 704.8,235.7 705,218.6 705.3,216 705.5,246.4 705.8,246.4 706,221.3 706.2,224.4 706.4,253.5 706.7,275.5 706.9,227.7 707.2,213.7 707.4,262.6 707.6,224.4 707.9,262.6 708.1,221.3 708.3,207.5 708.6,207.5 708.8,262.6 709.1,253.5 709.3,224.4 709.5,213.7 709.7,246.4 709.9,221.3 710.3,240.6 710.5,246.4 710.7,218.6 710.9,213.7 711.1,246.4 711.4,240.6 711.6,216 711.9,216 712.1,253.5 712.3,246.4 712.5,213.7 712.8,211.5 713,231.4 713.3,246.4 713.5,211.5 713.8,231.4 714,240.6 714.2,240.6 714.4,213.7 714.7,221.3 714.9,262.6 715.2,235.7 715.4,216 715.6,221.3 715.8,253.5 716.1,224.4 716.3,216 716.6,207.5 716.8,240.6 717,253.5 717.2,216 717.5,224.4 717.7,253.5 718,246.4 718.2,218.6 718.5,213.7 718.7,240.6 718.9,246.4 719.1,224.4 719.3,221.3 719.7,253.5 719.9,275.5 720.1,216 720.3,216 720.5,240.6 720.8,253.5 721,218.6 721.3,224.4 721.5,240.6 721.7,246.4 721.9,221.3 722.1,224.4 722.5,253.5 722.7,231.4 722.9,221.3 723.2,216 723.4,246.4 723.6,246.4 723.8,224.4 724.1,224.4 724.3,275.5 724.6,240.6 724.8,216 724.9,216 725.3,246.4 725.4,221.3 725.8,231.4 725.9,262.6 726.3,216 726.4,227.7 726.7,216 726.9,209.4 727.1,240.6 727.3,231.4 727.7,213.7 727.8,253.5 728.1,211.5 728.3,224.4 728.5,231.4 728.8,240.6 729,213.7 729.3,224.4 729.5,246.4 729.6,218.6 730,246.4 730.2,275.5 730.4,224.4 730.7,227.7 730.9,246.4 731.1,246.4 731.4,218.6 731.6,216 731.8,246.4 732.1,246.4 732.3,224.4 732.6,218.6 732.8,253.5 733,275.5 733.2,224.4 733.5,221.3 733.7,240.6 733.9,246.4 734.3,224.4 734.4,213.7 734.6,235.7 734.9,235.7 735.1,216 735.4,221.3 735.6,240.6 735.8,262.6 736,204 736.3,213.7 736.5,240.6 736.8,253.5 737,213.7 737.3,224.4 737.5,246.4 737.7,240.6 737.9,224.4 738.2,216 738.4,246.4 738.7,240.6 738.9,224.4 739.1,216 739.3,253.5 739.5,246.4 739.9,211.5 740,218.6 740.4,253.5 740.5,240.6 740.7,218.6 741,211.5 741.2,246.4 741.5,253.5 741.7,218.6 742,227.7 742.2,246.4 742.4,235.7 742.6,218.6 742.9,218.6 743.1,246.4 743.4,231.4 743.6,211.5 743.8,207.5 744,246.4 744.3,235.7 744.5,218.6 744.8,221.3 745,253.5 745.2,246.4 745.4,231.4 745.7,227.7 745.9,240.6 746.2,275.5 746.4,207.5 746.7,218.6 746.9,253.5 747.1,235.7 747.3,213.7 747.6,221.3 747.8,262.6 748.1,253.5 748.3,218.6 748.5,205.7 748.7,235.7 749,275.5 749.2,216 749.5,221.3 749.7,235.7 749.9,246.4 750.1,235.7 750.3,221.3 750.7,246.4 750.8,240.6 751.2,211.5 751.3,216 751.6,246.4 751.8,253.5 752,221.3 752.3,227.7 752.5,275.5 752.8,253.5 753,224.4 753.2,213.7 753.4,246.4 753.7,235.7 753.9,205.7 754.1,246.4 754.5,221.3 754.6,216 754.8,240.6 755.1,253.5 755.3,207.5 755.6,224.4 755.8,246.4 756,227.7 756.3,253.5 756.5,253.5 756.7,224.4 757,216 757.2,240.6 757.4,262.6 757.8,218.6 757.8,246.4 758.2,227.7 758.4,216 758.6,246.4 758.8,216 759.2,240.6 759.3,253.5 759.5,213.7 759.7,221.3 760.1,240.6 760.3,275.5 760.5,224.4 760.8,216 761,253.5 761.1,221.3 761.5,235.7 761.7,246.4 761.9,207.5 762.2,216 762.4,253.5 762.6,235.7 762.8,218.6 763.1,216 763.3,235.7 763.6,235.7 763.8,213.7 764,216 764.3,246.4 764.5,253.5 764.7,216 764.9,224.4 765.3,253.5 765.5,275.5 765.7,221.3 765.9,218.6 766.1,262.6 766.4,240.6 766.6,224.4 766.9,224.4 767.1,246.4 767.3,246.4 767.5,216 767.8,216 768,240.6 768.3,253.5 768.5,218.6 768.7,209.4 769,253.5 769.2,246.4 769.4,211.5 769.7,221.3 769.9,253.5 770.2,246.4 770.4,209.4 770.6,218.6 770.8,246.4 771.1,246.4 771.3,216 771.6,211.5 771.8,253.5 772,240.6 772.2,221.3 772.5,216 772.7,246.4 773,297.5 773.2,211.5 773.4,205.7 773.6,246.4 773.8,240.6 774.2,221.3 774.4,224.4 774.6,262.6 774.9,240.6 775.1,211.5 775.3,221.3 775.5,240.6 775.8,235.7 776,218.6 776.3,224.4 776.5,246.4 776.6,224.4 777,246.4 777.2,262.6 777.4,218.6 777.7,218.6 777.9,240.6 778.1,253.5 778.3,227.7 778.6,218.6 778.8,262.6 779.1,240.6 779.3,227.7 779.6,211.5 779.8,240.6 780,235.7 780.2,218.6 780.5,218.6 780.7,275.5 781,246.4 781.2,221.3 781.4,213.7 781.6,246.4 781.9,240.6 782.1,224.4 782.4,213.7 782.6,235.7 782.8,253.5 783,224.4 783.3,221.3 783.5,262.6 783.8,231.4 784,221.3 784.3,213.7 784.5,240.6 784.7,246.4 784.9,227.7 785.2,211.5 785.4,253.5 785.7,246.4 785.9,227.7 786.1,213.7 786.3,240.6 786.6,297.5 786.8,216 787,246.4 787.4,218.6 787.5,262.6 787.8,231.4 788,221.3 788.2,262.6 788.5,235.7 788.7,218.6 788.9,275.5 789.2,224.4 789.4,211.5 789.6,246.4 789.9,240.6 790.1,224.4 790.4,227.7 790.6,246.4 790.8,262.6 791,218.6 791.3,221.3 791.5,253.5 791.8,253.5 792,221.3 792.2,224.4 792.4,253.5 792.7,240.6 792.9,213.7 793.2,216 793.4,253.5 793.7,262.6 793.9,218.6 794.1,224.4 794.3,240.6 794.6,246.4 794.8,224.4 795,240.6 795.4,216" stroke="#179a58"/>
<path d="M137.5,255.4 137.7,264.7 138,263.4 138.2,252.9 138.5,252.6 138.7,261.4 138.9,259.5 139.1,250.3 139.4,253.2 139.6,259.9 139.9,258.1 140.1,253.5 140.4,253.5 140.6,261.4 140.8,265.6 141,256 141.3,254.1 141.5,257.7 141.8,260.3 142,253.2 142.2,248.9 142.4,265.6 142.6,252 143,267 143.2,262.6 143.4,254.4 143.6,252.6 143.8,264.3 144.1,263.4 144.3,254.4 144.6,256.4 144.8,263.9 145.1,258.1 145.3,255.7 145.4,260.6 145.8,253.5 146,252.9 146.2,259.2 146.5,261.4 146.7,252.3 146.9,252.6 147.1,258.1 147.4,259.9 147.6,251.7 147.9,250.8 148.1,263 148.3,259.5 148.5,254.4 148.7,250 149.1,256.7 149.2,262.6 149.6,252.6 149.8,252.6 150,259.5 150.2,261 150.4,250.8 150.6,247.9 151,258.1 151.1,251.1 151.5,260.3 151.6,259.2 151.8,252.3 152.1,253.8 152.3,258.8 152.6,261.8 152.8,252.9 153,255.7 153.2,264.7 153.5,257.4 153.7,251.1 154,251.4 154.2,261.8 154.5,261.8 154.7,252.9 154.8,261 155.2,249.7 155.4,252.9 155.6,257.7 155.9,263 156.1,252.3 156.3,251.7 156.5,264.7 156.8,257.7 157,251.4 157.3,249.7 157.5,262.2 157.7,265.6 157.9,250.8 158.1,261.8 158.5,250.8 158.7,254.1 158.9,259.9 159.2,259.5 159.4,252.3 159.6,254.7 159.8,267.9 160.1,261 160.3,249.7 160.6,249.2 160.8,263.9 161,261.4 161.2,253.5 161.5,252.3 161.7,258.8 161.9,250 162.3,256 162.4,259.2 162.6,253.8 162.9,250.8 163.1,259.2 163.4,258.1 163.6,253.8 163.9,250.3 164.1,267.5 164.3,263.4 164.5,253.2 164.7,250.8 165.1,258.8 165.3,261.8 165.5,251.4 165.7,252.9 165.9,258.4 166.2,258.1 166.4,252.6 166.7,251.1 166.9,259.2 167.1,259.2 167.4,252.6 167.6,250.8 167.8,263 168.1,261 168.3,248.7 168.6,254.4 168.8,261 169,263 169.2,248.7 169.5,252.9 169.7,255 170,257.7 170.2,253.5 170.4,251.1 170.6,259.9 170.8,258.8 171.2,252.6 171.4,252.6 171.6,261.8 171.8,264.7 172,253.5 172.3,254.7 172.5,260.3 172.8,258.4 173,251.4 173.3,250.8 173.5,255.4 173.7,262.6 173.9,254.4 174.2,252.3 174.4,262.2 174.7,259.2 174.9,252.9 175.1,255.4 175.3,261.8 175.6,259.9 175.8,250.6 176.1,252 176.3,261.4 176.5,256.4 176.8,251.7 177,253.2 177.2,261.8 177.5,255.7 177.7,252.6 178,252.6 178.2,259.5 178.4,260.6 178.6,253.5 178.8,257 179.2,251.4 179.4,254.4 179.6,259.5 179.7,252.6 180.1,259.2 180.3,258.8 180.5,252.9 180.8,251.4 181,260.3 181.2,257.7 181.4,249.2 181.7,249.7 181.9,261 182.2,263 182.4,254.4 182.7,248.9 182.9,264.3 183.1,257.4 183.3,254.4 183.5,253.5 183.9,260.3 184.1,259.9 184.3,252 184.5,255.7 184.7,262.6 185,257.7 185.2,250.6 185.5,254.1 185.7,258.1 185.9,262.6 186.1,253.5 186.3,251.1 186.7,261.8 186.9,260.6 187.1,257 187.4,248.9 187.6,258.4 187.8,258.4 188,254.4 188.3,250.8 188.5,260.3 188.8,260.6 189,251.4 189.2,253.2 189.4,261.4 189.7,261.4 189.9,252.6 190.2,252.9 190.4,262.6 190.6,263 190.8,252.9 191.1,253.8 191.3,265.2 191.6,261 191.8,254.4 192.1,253.5 192.3,263 192.4,251.7 192.8,259.2 193,257.7 193.2,253.5 193.5,252.9 193.7,262.6 193.9,258.4 194.1,248.7 194.4,252.6 194.6,258.1 194.9,261 195.1,252.6 195.3,251.1 195.5,265.2 195.8,259.2 196,254.1 196.3,252.9 196.5,258.4 196.8,261.4 197,256 197.2,252.3 197.4,261.8 197.6,251.7 198,257.7 198.2,263.4 198.4,252.3 198.6,252.9 198.8,261.8 199,251.4 199.4,261 199.5,261.4 199.9,254.7 200,252.3 200.2,266.5 200.4,265.2 200.8,257 201,256.4 201.2,266.1 201.4,263.9 201.7,257 201.9,254.7 202.1,258.8 202.4,266.5 202.6,252.6 202.9,254.4 203.1,263.4 203.3,261 203.5,254.1 203.8,252 204,263.4 204.3,260.3 204.5,254.1 204.7,253.8 204.9,263.9 205.2,261 205.4,252.6 205.6,250.8 206,263.9 206.2,260.6 206.4,253.8 206.5,255 206.9,261.4 207,254.7 207.4,263 207.6,259.5 207.8,256.4 208,251.4 208.2,263 208.5,263.9 208.7,252.9 209,253.2 209.2,263.4 209.4,264.7 209.6,255.4 209.9,252.9 210.1,263.9 210.4,264.3 210.6,255 210.9,254.1 211.1,261 211.3,262.2 211.5,252 211.8,256.7 212,263.4 212.3,263.9 212.5,255.7 212.7,257 212.9,262.6 213.2,262.2 213.4,252.6 213.7,253.2 213.9,263.9 214.1,266.5 214.3,253.2 214.6,253.5 214.8,264.7 215.1,264.3 215.3,254.1 215.6,258.1 215.8,263.9 216,259.9 216.2,253.8 216.5,255.4 216.7,261 217,263.9 217.2,256 217.3,253.2 217.7,260.6 217.9,263.9 218.1,254.7 218.3,265.2 218.7,255.4 218.8,258.4 219,266.5 219.3,261.4 219.5,252.6 219.7,262.2 220.1,252.6 220.3,251.7 220.5,261 220.7,266.5 220.9,251.1 221.1,255 221.5,261.8 221.7,258.4 221.9,253.8 222.1,257.4 222.3,261.8 222.6,262.2 222.8,256.7 223.1,254.1 223.3,263 223.5,259.2 223.7,251.7 224,253.5 224.2,260.6 224.4,255.4 224.8,265.6 224.9,259.2 225.2,252.3 225.4,253.5 225.6,262.6 225.9,262.6 226.1,248.1 226.3,260.3 226.7,249.7 226.8,256.7 227,262.2 227.3,262.6 227.5,250.3 227.8,252.6 228,262.6 228.2,260.6 228.4,251.4 228.7,254.4 228.9,259.2 229.2,259.9 229.4,251.4 229.7,252.6 229.9,258.8 230.1,266.1 230.3,253.8 230.6,252 230.8,258.1 231.1,260.3 231.3,255.4 231.5,251.7 231.7,257 232,260.3 232.2,253.2 232.5,252.6 232.7,255.7 232.9,256 233.1,248.7 233.4,247.9 233.6,254.1 233.9,253.8 234.1,247.1 234.4,246.1 234.6,254.1 234.8,258.4 235,250.6 235.3,250 235.5,258.1 235.8,255.7 236,250.6 236.2,250.8 236.4,257.7 236.7,252.9 236.9,247.6 237.1,245.7 237.5,251.7 237.6,251.7 237.8,246.4 238,255.7 238.4,248.1 238.6,243.1 238.8,254.4 239.1,253.5 239.3,240 239.4,252.9 239.8,246.1 240,242.7 240.2,250.8 240.4,244.5 240.8,237.9 240.9,239.4 241.1,248.1 241.4,242.7 241.6,238.2 241.9,237.3 242.1,244.5 242.3,242.9 242.6,236 242.8,236.2 243,241 243.2,241.2 243.6,233 243.8,230.2 244,238.2 244.2,235.2 244.4,232.9 244.6,234.5 245,226.1 245.2,225 245.4,230.2 245.6,230.4 245.8,221.1 246.1,222 246.3,222.6 246.6,222.6 246.8,214.4 247,217.2 247.2,220.5 247.5,216.3 247.7,209.3 248,206.2 248.2,212 248.5,206.2 248.7,202.9 248.9,195.9 249.1,200.1 249.4,196.3 249.6,191.6 249.9,185.4 250.1,191.6 250.3,182.6 250.5,177.7 250.7,176 251.1,169.3 251.2,166.1 251.6,159.4 251.7,156.5 252,146.6 252.1,144.1 252.5,131.8 252.6,128.6 253,112.6 253.1,109.3 253.4,87.2 253.5,81.6 253.9,42.5 254,31.1 254.4,1.7 254.6,1.7 254.8,2.2 254.9,1.7 255.3,15.2 255.4,30.8 255.8,79.4 255.9,85.5 256.3,109.2 256.4,113.2 256.7,129.9 256.8,132.9 257.2,144.7 257.3,146.9 257.7,156.7 257.8,159.3 258.1,166.8 258.2,169.5 258.6,176.3 258.7,177.4 259.1,184.6 259.2,185.5 259.6,192.7 259.7,197.4 259.9,192.7 260.2,197 260.4,201.8 260.7,208.9 260.9,205.9 261.1,205.1 261.4,212 261.6,216.8 261.8,211.9 262,212 262.4,218.6 262.6,223.9 262.8,214.3 263,221.3 263.2,224.5 263.4,222.9 263.8,231.1 264,228.8 264.2,225 264.4,227 264.6,231.8 264.8,230.2 265.2,236 265.4,235.5 265.6,232.9 265.8,232.2 266,240.4 266.3,242.1 266.5,236 266.8,236.8 267,244.5 267.3,247.4 267.5,239 267.7,240.8 267.9,245 268.2,247.4 268.4,240.2 268.7,242.7 268.9,248.9 269.1,248.1 269.3,240.8 269.5,245.7 269.9,253.5 270.1,251.4 270.3,245.2 270.5,242.9 270.7,250.8 271,252.6 271.2,245 271.5,247.9 271.7,253.5 272,253.8 272.2,247.6 272.4,248.4 272.6,256 272.9,258.1 273.1,248.4 273.4,248.9 273.6,257 273.8,254.7 274,249.7 274.3,248.1 274.5,258.1 274.8,257.7 275,252.6 275.2,251.4 275.4,261.4 275.7,259.2 275.9,252.9 276.2,250.8 276.4,257.4 276.7,259.2 276.9,251.4 277.1,251.1 277.3,258.4 277.6,258.1 277.8,252.9 278.1,248.9 278.3,259.9 278.5,258.8 278.7,250.6 279,255.7 279.2,261.4 279.5,262.6 279.7,251.7 279.9,255 280.1,261.4 280.3,260.3 280.7,252.9 280.9,253.5 281.1,259.2 281.4,263.4 281.6,253.5 281.8,252.9 282,260.3 282.3,262.2 282.5,255 282.8,253.8 283,262.6 283.2,265.6 283.4,257 283.7,256.4 283.9,266.5 284.2,262.2 284.4,252.3 284.6,256.4 284.8,267 285,261.8 285.4,255 285.5,255 285.9,261.4 286.1,265.6 286.3,256 286.5,253.5 286.7,263.4 287,265.6 287.2,257 287.4,256 287.8,265.6 287.9,262.6 288.1,254.7 288.4,255.7 288.6,265.2 288.8,255 289.2,263.9 289.3,262.2 289.5,254.1 289.7,261.8 290.1,254.7 290.3,254.7 290.5,264.3 290.8,267 291,252.9 291.2,259.5 291.4,265.2 291.7,267.5 291.9,252 292.2,255 292.4,265.6 292.6,258.1 292.8,252.9 293.1,252.3 293.3,265.6 293.5,261.8 293.9,255 294,254.4 294.2,263.4 294.4,266.5 294.8,255.4 294.9,259.9 295.3,252.6 295.5,250.6 295.7,261.8 295.9,262.6 296.1,253.5 296.4,254.7 296.6,258.4 296.9,258.4 297.1,246.1 297.3,248.4 297.5,255.4 297.8,254.4 298,250.8 298.3,249.5 298.5,254.1 298.7,250.6 298.9,243.8 299.2,245 299.4,252.3 299.7,244.7 299.9,239.2 300.2,235.7 300.4,242.9 300.5,236.6 300.9,230.1 301,232.9 301.4,225.4 301.6,217.9 301.8,224.4 301.9,217.4 302.3,207.1 302.4,207.1 302.8,197.1 302.9,194.6 303.3,182.8 303.4,181.5 303.7,162.9 303.8,159.8 304.2,143.5 304.3,141.5 304.7,131.3 304.9,128.7 305.1,132.3 305.2,132.6 305.6,141 305.7,143 306.1,156.7 306.2,159.6 306.6,176.9 306.6,177.4 307,191.2 307.1,192 307.5,205.9 307.6,207.9 308,219.2 308.1,223.8 308.3,218.7 308.6,223.9 308.8,230.4 309,229.4 309.4,238.8 309.6,246.9 309.8,235.9 310,239 310.2,244.7 310.5,247.6 310.7,239.8 311,246.1 311.2,254.4 311.4,256 311.6,250 311.9,253.8 312.1,263 312.4,261.8 312.6,252.3 312.8,254.7 313,267 313.3,266.5 313.5,253.5 313.8,257.7 314,269.4 314.2,269.4 314.5,260.6 314.7,252.9 314.9,264.3 315.1,262.2 315.5,268.4 315.7,270.4 315.9,263.4 316.1,261 316.3,270.4 316.6,272.6 316.8,261.4 317.1,264.7 317.3,276.1 317.5,277.4 317.7,265.2 318,261.8 318.2,276.1 318.5,275.5 318.7,269.4 319,266.5 319.2,277.4 319.4,273.7 319.6,266.5 319.9,267 320.1,282.3 320.4,274.3 320.6,267 320.8,266.5 321,280.1 321.3,280.8 321.5,268.9 321.8,263.9 322,276.8 322.2,280.1 322.4,266.1 322.7,261.4 322.9,274.3 323.2,266.5 323.4,261 323.7,255.4 323.9,268.4 324,258.4 324.4,270.4 324.6,271.5 324.8,265.2 325.1,263.4 325.3,272.6 325.5,278.1 325.7,269.4 326,272 326.2,287.2 326.5,278.1 326.7,275.5 326.9,269.4 327.1,285.5 327.4,285.5 327.6,276.1 327.9,272.6 328.1,284.7 328.4,284.7 328.6,271.5 328.8,273.2 329,288.1 329.3,290 329.5,280.1 329.8,274.3 330,290.9 330.2,286.3 330.4,274.3 330.7,278.1 330.9,289 331.2,289 331.4,274.9 331.6,280.1 331.8,286.3 332,280.1 332.4,288.1 332.6,291.9 332.8,274.9 333.1,278.1 333.3,282.3 333.5,295.2 333.7,279.4 334,280.8 334.2,295.2 334.5,290.9 334.7,278.7 334.9,282.3 335.1,290 335.4,284.7 335.6,271 335.9,278.7 336.1,285.5 336.3,295.2 336.5,277.4 336.7,276.8 337.1,287.2 337.2,285.5 337.6,276.8 337.8,280.8 338,294.1 338.1,289 338.5,280.1 338.7,270.4 338.9,297.5 339.2,287.2 339.4,279.4 339.6,280.1 339.8,291.9 340.1,291.9 340.3,280.8 340.6,276.8 340.8,288.1 341,289 341.2,281.5 341.5,281.5 341.7,294.1 341.9,278.7 342.3,296.3 342.5,288.1 342.7,283.1 342.9,280.1 343.1,287.2 343.4,295.2 343.6,283.8 343.9,280.8 344.1,294.1 344.3,290 344.5,280.8 344.8,281.5 345,295.2 345.3,298.8 345.5,275.5 345.7,280.1 346,294.1 346.2,291.9 346.4,279.4 346.7,283.8 346.9,293 347.2,290 347.4,278.7 347.6,279.4 347.8,298.8 348.1,284.7 348.3,279.4 348.6,280.1 348.8,290 349,290.9 349.2,283.1 349.5,279.4 349.7,294.1 350,295.2 350.2,272 350.4,277.4 350.6,296.3 350.9,291.9 351.1,280.8 351.4,283.8 351.6,296.3 351.9,297.5 352.1,278.7 352.2,280.8 352.6,294.1 352.7,280.8 353.1,290.9 353.2,283.1 353.6,294.1 353.6,283.1 354,300.1 354.2,291.9 354.4,278.7 354.6,296.3 355,281.5 355.1,285.5 355.4,296.3 355.6,291.9 355.8,279.4 356.1,278.1 356.3,290 356.6,291.9 356.8,274.3 357,278.1 357.2,290.9 357.5,298.8 357.7,278.7 358,281.5 358.2,291.9 358.4,291.9 358.6,273.7 358.9,280.8 359.1,290.9 359.4,297.5 359.6,278.1 359.8,276.1 360,287.2 360.3,287.2 360.5,281.5 360.8,277.4 361,290.9 361.3,297.5 361.5,278.1 361.7,274.9 361.9,290.9 362.2,297.5 362.4,286.3 362.6,280.8 363,293 363.1,290.9 363.3,280.8 363.6,280.8 363.8,290 364.1,293 364.3,282.3 364.5,284.7 364.7,296.3 365,294.1 365.2,278.1 365.5,280.1 365.7,294.1 365.9,278.1 366.2,289 366.4,297.5 366.6,280.1 366.9,283.1 367.1,293 367.4,289 367.6,281.5 367.8,284.7 368,298.8 368.3,291.9 368.5,278.1 368.8,283.1 369,289 369.2,281.5 369.5,290 369.6,281.5 370,293 370.2,290.9 370.4,280.8 370.7,280.8 370.9,294.1 371.1,291.9 371.3,278.7 371.6,283.1 371.8,294.1 372.1,297.5 372.3,284.7 372.5,286.3 372.7,294.1 373,295.2 373.2,281.5 373.5,288.1 373.7,298.8 373.9,295.2 374.2,289 374.4,285.5 374.6,297.5 374.8,291.9 375.2,280.1 375.4,280.1 375.6,294.1 375.8,293 376,284.7 376.3,280.1 376.5,298.8 376.8,296.3 377,274.9 377.2,282.3 377.4,293 377.7,295.2 377.9,282.3 378.2,280.8 378.4,296.3 378.6,295.2 378.8,280.1 379.1,284.7 379.3,289 379.5,293 379.9,281.5 380.1,280.8 380.3,288.1 380.5,296.3 380.7,285.5 381,283.1 381.2,295.2 381.4,283.8 381.8,290 381.8,293 382.2,283.8 382.4,277.4 382.6,290 382.9,286.3 383.1,273.7 383.3,279.4 383.5,296.3 383.7,293 384.1,279.4 384.3,283.8 384.5,305.9 384.8,296.3 385,287.2 385.2,283.1 385.4,291.9 385.7,294.1 385.9,282.3 386.2,280.1 386.4,289 386.6,290 386.8,276.8 387.1,274.9 387.3,291.9 387.6,290 387.8,279.4 388,272.6 388.2,283.8 388.5,289 388.7,274.9 389,274.3 389.2,283.8 389.5,276.1 389.7,271 389.8,278.1 390.2,268.9 390.3,278.1 390.7,264.3 390.9,262.6 391.1,272.6 391.2,264.7 391.6,273.2 391.8,265.6 392,259.5 392.3,252 392.5,265.2 392.7,261.8 393,252.3 393.1,253.2 393.5,244 393.7,239 393.9,250 394.1,248.4 394.4,242.1 394.5,241.8 394.9,248.9 395.1,252.9 395.3,244.5 395.6,249.5 395.8,261 395.9,253.8 396.3,261.8 396.4,258.4 396.8,264.7 397,276.8 397.2,258.8 397.4,264.7 397.7,283.1 397.9,280.1 398.1,271.5 398.4,269.9 398.6,280.1 398.9,284.7 399.1,275.5 399.3,275.5 399.5,289 399.8,289 400,277.4 400.3,281.5 400.5,291.9 400.7,290.9 400.9,275.5 401.2,276.8 401.4,297.5 401.6,291.9 402,283.1 402.1,280.8 402.3,295.2 402.6,300.1 402.8,274.3 403.1,282.3 403.3,300.1 403.5,283.8 403.8,291.9 403.9,301.4 404.3,283.8 404.5,285.5 404.7,298.8 405,290 405.2,288.1 405.4,291.9 405.6,300.1 405.9,295.2 406.1,281.5 406.4,283.8 406.6,294.1 406.8,294.1 407,281.5 407.2,297.5 407.6,288.1 407.7,283.8 408.1,297.5 408.2,282.3 408.5,305.9 408.7,301.4 408.9,282.3 409.2,289 409.4,296.3 409.7,298.8 409.9,287.2 410.1,286.3 410.3,304.3 410.6,294.1 410.8,285.5 411.1,278.7 411.3,298.8 411.5,296.3 411.7,285.5 412,290.9 412.2,300.1 412.5,300.1 412.7,288.1 413,290 413.2,300.1 413.4,296.3 413.6,288.1 413.9,288.1 414.1,305.9 414.4,295.2 414.6,290 414.8,288.1 415,301.4 415.3,300.1 415.5,284.7 415.8,284.7 416,302.8 416.2,296.3 416.4,285.5 416.7,290 416.9,300.1 417.2,305.9 417.4,289 417.7,287.2 417.9,298.8 418.1,298.8 418.3,290 418.6,290 418.8,322.1 419.1,304.3 419.3,293 419.5,291.9 419.7,305.9 420,301.4 420.2,291.9 420.5,279.4 420.7,300.1 420.9,298.8 421.2,285.5 421.4,283.8 421.6,302.8 421.8,302.8 422.2,290.9 422.4,285.5 422.6,322.1 422.8,300.1 423,294.1 423.3,288.1 423.5,309.2 423.8,305.9 424,293 424.2,294.1 424.4,319.6 424.7,300.1 424.9,280.1 425.2,290 425.4,304.3 425.6,311 425.8,287.2 426.1,291.9 426.3,307.5 426.5,297.5 426.9,289 427.1,280.8 427.3,297.5 427.4,285.5 427.8,311 428,298.8 428.2,280.8 428.5,288.1 428.7,301.4 428.9,313 429.1,287.2 429.3,294.1 429.7,309.2 429.9,307.5 430.1,285.5 430.3,289 430.5,311 430.8,305.9 431,287.2 431.3,287.2 431.5,317.2 431.8,298.8 432,288.1 432.2,289 432.4,300.1 432.7,309.2 432.9,294.1 433.2,290.9 433.4,315 433.6,301.4 433.8,290 434.1,288.1 434.3,313 434.6,300.1 434.8,285.5 435,287.2 435.2,302.8 435.5,298.8 435.7,290 436,290.9 436.2,302.8 436.5,305.9 436.7,290 436.9,279.4 437.1,294.1 437.4,280.1 437.6,266.5 437.9,278.1 438.1,294.1 438.3,289 438.5,280.8 438.7,278.1 439.1,300.1 439.2,290 439.6,304.3 439.7,289 440,305.9 440.2,322.1 440.4,295.2 440.7,290.9 440.9,305.9 441.1,297.5 441.4,307.5 441.5,286.3 441.9,304.3 442.1,305.9 442.3,290.9 442.6,285.5 442.8,309.2 443,311 443.2,290.9 443.4,288.1 443.8,304.3 444,307.5 444.2,297.5 444.4,290 444.7,300.1 444.9,309.2 445.1,295.2 445.4,287.2 445.6,302.8 445.9,307.5 446.1,291.9 446.3,293 446.5,313 446.7,305.9 447.1,290 447.3,295.2 447.5,305.9 447.7,309.2 447.9,291.9 448.1,298.8 448.5,311 448.7,304.3 448.9,289 449.1,317.2 449.4,288.1 449.6,290.9 449.8,317.2 450.1,300.1 450.3,293 450.6,290 450.8,307.5 450.9,295.2 451.3,319.6 451.5,309.2 451.7,293 452,294.1 452.2,315 452.3,288.1 452.7,304.3 452.9,302.8 453.1,290.9 453.4,290 453.6,319.6 453.8,291.9 454.1,315 454.2,315 454.6,291.9 454.7,298.8 455.1,309.2 455.3,305.9 455.5,296.3 455.6,295.2 456,309.2 456.2,304.3 456.4,294.1 456.7,296.3 456.9,309.2 457.1,307.5 457.3,296.3 457.6,293 457.8,302.8 458.1,311 458.3,294.1 458.5,291.9 458.7,313 458.9,289 459.3,309.2 459.5,313 459.7,297.5 460,289 460.2,319.6 460.4,311 460.6,290.9 460.9,290.9 461.1,315 461.4,331.3 461.6,290.9 461.8,290.9 462,313 462.3,307.5 462.5,298.8 462.7,307.5 463.1,288.1 463.2,291.9 463.5,305.9 463.6,287.2 464,307.5 464.2,302.8 464.4,278.7 464.7,283.1 464.9,295.2 465.1,301.4 465.3,287.2 465.6,286.3 465.8,319.6 466.1,313 466.3,283.1 466.5,293 466.7,301.4 466.9,305.9 467.3,294.1 467.5,295.2 467.7,313 467.9,311 468.1,293 468.4,297.5 468.6,311 468.9,302.8 469.1,291.9 469.4,297.5 469.6,309.2 469.8,317.2 470,298.8 470.3,296.3 470.5,304.3 470.8,327.9 471,300.1 471.2,291.9 471.4,307.5 471.6,322.1 472,304.3 472.2,295.2 472.4,313 472.6,322.1 472.8,289 473.1,298.8 473.3,315 473.6,317.2 473.8,297.5 474.1,296.3 474.3,311 474.5,322.1 474.7,294.1 475,296.3 475.2,313 475.5,309.2 475.7,297.5 475.8,319.6 476.2,302.8 476.4,300.1 476.6,313 476.9,317.2 477.1,297.5 477.3,302.8 477.5,313 477.7,296.3 478.1,304.3 478.3,322.1 478.5,295.2 478.7,290.9 479,309.2 479.2,319.6 479.4,294.1 479.6,311 480,290 480.2,297.5 480.4,304.3 480.6,311 480.8,291.9 481.1,298.8 481.3,311 481.6,311 481.8,297.5 482,290.9 482.3,309.2 482.5,317.2 482.7,294.1 483,297.5 483.2,315 483.5,317.2 483.7,288.1 483.8,296.3 484.2,311 484.4,309.2 484.6,297.5 484.9,291.9 485.1,315 485.3,311 485.5,296.3 485.8,300.1 486,311 486.3,309.2 486.5,302.8 486.7,297.5 487,305.9 487.2,309.2 487.4,293 487.6,298.8 488,305.9 488.2,317.2 488.4,300.1 488.6,296.3 488.8,305.9 489.1,331.3 489.3,296.3 489.6,295.2 489.8,307.5 490,319.6 490.2,297.5 490.5,300.1 490.7,322.1 490.9,313 491.3,297.5 491.4,300.1 491.6,317.2 491.9,317.2 492.1,296.3 492.4,301.4 492.6,315 492.9,307.5 493.1,296.3 493.2,307.5 493.6,297.5 493.8,301.4 494,317.2 494.3,322.1 494.5,295.2 494.7,295.2 494.9,335 495.1,305.9 495.5,295.2 495.7,290 495.9,313 496.1,317.2 496.3,293 496.6,297.5 496.8,317.2 497.1,322.1 497.3,294.1 497.6,298.8 497.8,322.1 498,309.2 498.2,283.1 498.5,295.2 498.7,322.1 498.9,311 499.3,296.3 499.4,293 499.6,315 499.8,307.5 500.2,297.5 500.4,290.9 500.6,309.2 500.8,307.5 501,293 501.3,295.2 501.5,311 501.8,309.2 502,296.3 502.2,313 502.5,297.5 502.6,317.2 503,293 503.1,294.1 503.5,304.3 503.7,309.2 503.9,291.9 504.1,290.9 504.3,307.5 504.6,311 504.8,293 505.1,296.3 505.3,307.5 505.5,289 505.8,311 506,309.2 506.2,290 506.5,291.9 506.7,305.9 507,313 507.2,286.3 507.3,289 507.7,309.2 507.8,309.2 508.2,293 508.3,300.1 508.7,288.1 508.8,288.1 509,300.1 509.2,290.9 509.6,313 509.8,298.8 510,294.1 510.2,288.1 510.4,302.8 510.7,301.4 510.9,293 511.1,286.3 511.5,304.3 511.7,296.3 511.9,284.7 512.1,283.1 512.3,294.1 512.6,301.4 512.8,287.2 513.1,283.1 513.3,296.3 513.5,290.9 513.7,278.1 514,287.2 514.2,295.2 514.4,304.3 514.8,278.7 514.9,273.7 515.2,289 515.4,293 515.6,277.4 515.9,276.8 516.1,295.2 516.4,281.5 516.6,274.3 516.8,271.5 517,278.1 517.3,280.1 517.5,267 517.7,276.8 518.1,265.6 518.2,267.5 518.4,276.8 518.7,271.5 518.9,264.3 519.2,259.5 519.4,267.9 519.6,269.9 519.9,257 520,261.4 520.4,256 520.6,250.6 520.8,259.5 521.1,252.6 521.3,248.9 521.4,248.9 521.8,241.2 522,239.2 522.2,243.8 522.5,242.1 522.7,237.5 522.8,234.5 523.2,226.2 523.4,222.3 523.6,229.2 523.8,222.9 524.2,215.9 524.3,207.1 524.5,213.9 524.7,205.2 525.1,199.1 525.2,197.8 525.6,189.1 525.7,186.7 526,178.8 526.1,174 526.5,162.6 526.6,159.2 527,146 527.1,141.6 527.5,123 527.5,117.6 527.9,90.3 528,83.8 528.4,38.6 528.5,26.5 528.9,1.7 529,1.7 529.3,24.9 529.4,35.8 529.8,51.7 529.9,45.3 530.3,1.7 530.4,1.7 530.7,42.5 530.8,55.1 531.2,99.4 531.3,106.2 531.7,132 531.8,136.8 532.2,153.6 532.2,157.7 532.6,171.5 532.7,174.1 533.1,182.5 533.2,187.1 533.6,194.5 533.7,196.1 534,204.9 534.1,207.9 534.5,215.7 534.7,219.7 534.9,214.9 535.2,221.4 535.4,227.3 535.6,236.2 535.8,227.4 536.1,231.1 536.3,243.4 536.5,237.7 536.9,244 536.9,242.5 537.3,250.6 537.5,255.4 537.7,245.9 537.9,251.4 538.3,258.8 538.4,260.3 538.6,256.4 538.8,256.4 539.2,264.3 539.4,270.4 539.6,258.8 539.8,268.9 540.1,260.6 540.3,267 540.5,274.9 540.8,274.9 541,267 541.3,269.9 541.5,278.7 541.7,283.8 541.9,269.9 542.2,271.5 542.4,286.3 542.7,286.3 542.9,273.7 543.1,271.5 543.3,277.4 543.6,283.8 543.8,272.6 544,273.2 544.4,261.4 544.6,256 544.8,262.2 544.9,263.9 545.3,270.4 545.5,283.1 545.7,269.9 546,269.9 546.2,278.1 546.4,285.5 546.6,276.1 546.8,282.3 547.2,297.5 547.4,293 547.6,281.5 547.8,283.8 548,305.9 548.3,296.3 548.5,280.8 548.8,288.1 549,297.5 549.3,317.2 549.5,294.1 549.7,296.3 549.9,307.5 550.2,307.5 550.4,287.2 550.7,297.5 550.9,317.2 551,294.1 551.4,307.5 551.6,309.2 551.8,293 552.1,290 552.3,319.6 552.5,307.5 552.7,295.2 552.9,294.1 553.3,311 553.5,327.9 553.7,302.8 554,296.3 554.2,319.6 554.4,309.2 554.6,296.3 554.8,319.6 555.2,301.4 555.4,302.8 555.6,313 555.8,305.9 556,294.1 556.3,297.5 556.5,319.6 556.8,307.5 557,296.3 557.2,305.9 557.4,313 557.6,319.6 558,294.1 558.1,319.6 558.5,305.9 558.7,302.8 558.9,315 559.1,313 559.3,296.3 559.6,305.9 559.8,315 560.1,324.9 560.3,300.1 560.5,304.3 560.7,317.2 561,315 561.2,304.3 561.5,301.4 561.7,313 561.9,331.3 562.1,304.3 562.3,327.9 562.7,301.4 562.9,302.8 563.1,324.9 563.4,322.1 563.6,307.5 563.8,302.8 564,327.9 564.3,322.1 564.5,309.2 564.7,309.2 565.1,335 565.1,322.1 565.5,300.1 565.7,302.8 565.9,322.1 566.1,311 566.5,322.1 566.6,315 566.8,302.8 567.1,302.8 567.3,322.1 567.6,331.3 567.8,298.8 568.1,304.3 568.3,319.6 568.5,327.9 568.7,313 569,311 569.2,322.1 569.5,319.6 569.7,301.4 569.9,302.8 570.1,324.9 570.4,319.6 570.6,311 570.9,294.1 571.1,327.9 571.3,322.1 571.5,305.9 571.8,309.2 572,335 572.3,324.9 572.5,309.2 572.8,309.2 573,331.3 573.2,339.2 573.4,313 573.7,304.3 573.9,331.3 574.2,324.9 574.4,311 574.5,313 574.9,327.9 575.1,324.9 575.3,307.5 575.5,305.9 575.9,327.9 576,339.2 576.2,307.5 576.5,313 576.7,324.9 577,344.1 577.2,309.2 577.5,305.9 577.7,322.1 577.9,335 578.1,307.5 578.4,313 578.6,331.3 578.8,335 579.2,304.3 579.3,304.3 579.5,331.3 579.8,335 580,304.3 580.3,311 580.5,331.3 580.7,335 580.9,309.2 581.2,307.5 581.4,319.6 581.7,322.1 581.9,307.5 582.2,315 582.4,331.3 582.6,331.3 582.8,307.5 583.1,317.2 583.3,322.1 583.6,331.3 583.8,302.8 584,298.8 584.2,335 584.5,327.9 584.7,309.2 584.9,311 585.3,327.9 585.4,324.9 585.6,307.5 585.9,309.2 586.1,327.9 586.4,331.3 586.6,309.2 586.9,307.5 587.1,344.1 587.3,317.2 587.5,309.2 587.8,309.2 588,331.3 588.3,335 588.5,301.4 588.7,305.9 588.9,331.3 589.2,335 589.4,317.2 589.6,331.3 590,319.6 590.1,302.8 590.3,327.9 590.6,327.9 590.8,313 591.1,309.2 591.3,322.1 591.6,335 591.8,309.2 592,305.9 592.2,331.3 592.5,339.2 592.7,307.5 593,307.5 593.2,327.9 593.4,339.2 593.6,315 593.9,305.9 594.1,331.3 594.4,335 594.6,309.2 594.8,313 595,322.1 595.3,327.9 595.5,309.2 595.7,339.2 596.1,309.2 596.3,302.8 596.5,339.2 596.7,339.2 596.9,307.5 597.2,305.9 597.4,331.3 597.7,339.2 597.9,313 598.1,309.2 598.3,322.1 598.6,322.1 598.8,313 599,304.3 599.4,322.1 599.5,322.1 599.8,344.1 600,331.3 600.2,302.8 600.5,305.9 600.7,335 601,349.9 601.2,307.5 601.4,301.4 601.6,324.9 601.9,335 602.1,309.2 602.4,311 602.6,327.9 602.7,307.5 603.1,349.9 603.3,339.2 603.5,302.8 603.8,302.8 604,327.9 604.2,327.9 604.4,301.4 604.7,300.1 604.9,327.9 605.2,327.9 605.4,315 605.7,309.2 605.9,331.3 606.1,324.9 606.3,311 606.6,313 606.8,324.9 607.1,335 607.3,302.8 607.5,305.9 607.7,327.9 607.9,322.1 608.3,302.8 608.4,313 608.8,297.5 608.9,296.3 609.2,287.2 609.4,283.1 609.6,293 609.9,295.2 610.1,278.7 610.4,287.2 610.6,294.1 610.8,297.5 611,280.8 611.3,288.1 611.5,298.8 611.8,305.9 612,290.9 612.2,290.9 612.4,304.3 612.7,311 612.9,295.2 613.2,289 613.4,304.3 613.6,296.3 613.9,285.5 614,283.1 614.4,298.8 614.6,301.4 614.8,284.7 615.1,289 615.3,317.2 615.4,295.2 615.8,302.8 616,307.5 616.2,294.1 616.5,297.5 616.7,315 616.9,327.9 617.1,302.8 617.4,305.9 617.6,322.1 617.9,327.9 618.1,301.4 618.3,300.1 618.5,331.3 618.8,331.3 619,305.9 619.2,322.1 619.6,305.9 619.8,307.5 620,315 620.2,324.9 620.4,307.5 620.7,297.5 620.9,317.2 621.2,324.9 621.4,295.2 621.6,294.1 621.8,331.3 622.1,324.9 622.3,300.1 622.6,302.8 622.8,319.6 623,317.2 623.2,296.3 623.5,309.2 623.7,322.1 624,317.2 624.2,298.8 624.5,304.3 624.7,319.6 624.9,324.9 625.1,313 625.3,304.3 625.7,327.9 625.9,315 626.1,301.4 626.3,302.8 626.5,317.2 626.8,317.2 627,296.3 627.3,298.8 627.5,315 627.7,317.2 627.9,302.8 628.2,300.1 628.4,311 628.7,335 628.9,296.3 629.2,296.3 629.4,311 629.6,313 629.8,296.3 630,293 630.4,309.2 630.5,313 630.9,295.2 631,291.9 631.2,331.3 631.5,313 631.7,288.1 632,293 632.2,305.9 632.4,304.3 632.6,289 632.9,286.3 633.1,300.1 633.4,313 633.6,283.1 633.9,280.1 634.1,291.9 634.3,298.8 634.5,283.8 634.8,276.1 635,285.5 635.2,277.4 635.6,271.5 635.7,268.9 635.9,274.9 636.1,276.8 636.5,268.9 636.7,254.7 636.9,264.7 637.1,265.6 637.3,255 637.6,245.9 637.8,257.7 638,243.1 638.4,233.7 638.6,223.6 638.8,234.2 638.9,221.9 639.3,213.7 639.4,214.2 639.8,205 639.9,201.7 640.3,195.2 640.4,194.8 640.6,197.5 640.9,202.6 641.1,200.3 641.4,203.6 641.6,207.9 641.8,207.8 642,204.8 642.3,207.6 642.5,217 642.7,215.5 643.1,222.8 643.2,228.7 643.5,234.2 643.7,245 643.9,240.2 644.2,244 644.4,259.9 644.7,267.5 644.9,255.4 645.1,255.7 645.3,278.1 645.6,275.5 645.8,263.4 646.1,265.2 646.3,281.5 646.5,286.3 646.7,276.1 647,279.4 647.2,284.7 647.5,290.9 647.7,280.8 648,278.1 648.2,296.3 648.4,297.5 648.6,283.8 648.8,286.3 649.2,297.5 649.3,293 649.7,304.3 649.8,305.9 650,291.9 650.2,287.2 650.6,311 650.8,304.3 651,291.9 651.2,285.5 651.4,309.2 651.6,315 652,294.1 652.2,294.1 652.4,309.2 652.7,307.5 652.9,291.9 653.1,294.1 653.3,311 653.6,307.5 653.8,291.9 654.1,298.8 654.3,309.2 654.5,309.2 654.7,297.5 655,301.4 655.2,309.2 655.5,311 655.7,302.8 655.9,301.4 656.1,311 656.4,315 656.6,297.5 656.8,313 657.2,307.5 657.4,293 657.6,319.6 657.8,319.6 658,297.5 658.3,291.9 658.5,309.2 658.8,319.6 659,302.8 659.2,294.1 659.4,319.6 659.7,317.2 659.9,297.5 660.2,301.4 660.4,313 660.6,317.2 660.8,302.8 661.1,309.2 661.3,322.1 661.6,313 661.8,301.4 662,317.2 662.3,301.4 662.5,298.8 662.7,319.6 663,315 663.2,300.1 663.5,298.8 663.7,315 663.9,322.1 664.1,302.8 664.4,302.8 664.6,322.1 664.8,317.2 665.2,300.1 665.3,301.4 665.5,319.6 665.8,313 666,301.4 666.3,301.4 666.5,324.9 666.8,322.1 667,309.2 667.2,295.2 667.4,322.1 667.7,311 667.9,300.1 668.2,304.3 668.4,324.9 668.6,322.1 668.8,302.8 669.1,307.5 669.3,339.2 669.5,315 669.9,301.4 670,300.1 670.2,317.2 670.4,322.1 670.8,309.2 671,305.9 671.2,317.2 671.5,339.2 671.7,304.3 671.9,300.1 672.1,339.2 672.4,319.6 672.6,304.3 672.9,309.2 673.1,319.6 673.2,311 673.6,302.8 673.7,344.1 674.1,305.9 674.3,302.8 674.5,319.6 674.7,311 674.9,298.8 675.2,305.9 675.4,319.6 675.7,324.9 675.9,301.4 676.2,309.2 676.4,327.9 676.6,322.1 676.8,296.3 677.1,304.3 677.3,331.3 677.6,322.1 677.8,302.8 678,304.3 678.2,331.3 678.5,327.9 678.7,304.3 679,300.1 679.2,315 679.4,322.1 679.6,296.3 679.9,309.2 680.1,319.6 680.4,319.6 680.6,305.9 680.9,301.4 681.1,327.9 681.3,324.9 681.5,302.8 681.8,301.4 682,324.9 682.3,313 682.5,298.8 682.7,297.5 682.9,317.2 683.2,311 683.4,294.1 683.7,291.9 683.9,307.5 684.1,302.8 684.4,297.5 684.6,289 684.8,304.3 685,296.3 685.4,282.3 685.6,279.4 685.8,293 686,305.9 686.2,284.7 686.4,285.5 686.8,307.5 687,296.3 687.2,283.8 687.4,285.5 687.6,294.1 687.9,301.4 688.1,290.9 688.4,288.1 688.6,298.8 688.8,304.3 689.1,289 689.3,283.8 689.5,291.9 689.8,302.8 690,279.4 690.3,285.5 690.5,297.5 690.7,302.8 690.9,287.2 691.2,284.7 691.4,298.8 691.7,317.2 691.9,290 692,289 692.4,301.4 692.6,313 692.8,291.9 693,307.5 693.4,324.9 693.5,315 693.7,298.8 693.9,304.3 694.3,319.6 694.5,317.2 694.7,301.4 695,301.4 695.2,317.2 695.3,315 695.7,324.9 695.8,300.1 696.2,331.3 696.4,327.9 696.6,307.5 696.8,301.4 697,324.9 697.3,331.3 697.5,298.8 697.8,302.8 698,335 698.2,324.9 698.4,311 698.7,298.8 698.9,331.3 699.2,324.9 699.4,307.5 699.7,305.9 699.9,327.9 700.1,327.9 700.3,311 700.5,322.1 700.9,313 701.1,311 701.3,324.9 701.5,327.9 701.7,307.5 702,304.3 702.2,331.3 702.5,324.9 702.7,305.9 702.9,307.5 703.1,324.9 703.4,327.9 703.6,302.8 703.9,315 704.1,324.9 704.4,349.9 704.6,305.9 704.8,311 705,344.1 705.3,339.2 705.5,311 705.8,304.3 706,331.3 706.2,339.2 706.4,315 706.6,335 707,311 707.2,304.3 707.4,331.3 707.6,317.2 707.9,331.3 708.1,324.9 708.3,305.9 708.6,309.2 708.8,327.9 709.1,344.1 709.3,309.2 709.4,304.3 709.8,322.1 710,344.1 710.2,322.1 710.5,307.5 710.7,327.9 710.9,331.3 711.1,309.2 711.4,313 711.6,327.9 711.9,331.3 712.1,317.2 712.3,313 712.5,331.3 712.8,349.9 713,309.2 713.3,317.2 713.5,335 713.8,331.3 714,311 714.2,313 714.4,335 714.6,309.2 715,344.1 715.2,344.1 715.4,309.2 715.5,331.3 715.9,313 716.1,297.5 716.3,331.3 716.6,349.9 716.8,309.2 717,311 717.2,327.9 717.5,335 717.7,317.2 718,307.5 718.2,344.1 718.5,339.2 718.7,315 718.9,307.5 719.1,335 719.4,335 719.6,309.2 719.8,339.2 720.2,315 720.3,309.2 720.5,357 720.8,331.3 721,317.2 721.2,305.9 721.6,331.3 721.7,331.3 721.9,313 722.2,317.2 722.4,357 722.7,357 722.9,313 723.2,307.5 723.4,335 723.6,344.1 723.8,311 724,309.2 724.4,339.2 724.6,339.2 724.8,313 725,315 725.2,335 725.5,327.9 725.7,305.9 726,315 726.2,331.3 726.4,344.1 726.6,307.5 726.9,309.2 727.1,327.9 727.4,327.9 727.6,311 727.9,309.2 728.1,344.1 728.3,344.1 728.5,309.2 728.8,319.6 729,324.9 729.3,339.2 729.5,322.1 729.6,344.1 730,317.2 730.2,313 730.4,327.9 730.7,357 730.9,307.5 731.1,322.1 731.3,335 731.6,344.1 731.8,313 732.1,315 732.3,327.9 732.6,339.2 732.8,324.9 733,313 733.2,331.3 733.4,307.5 733.8,327.9 734,344.1 734.2,307.5 734.4,313 734.6,335 734.9,331.3 735.1,313 735.4,305.9 735.6,335 735.8,335 736,311 736.3,313 736.5,339.2 736.8,335 737,322.1 737.3,319.6 737.5,339.2 737.6,315 738,339.2 738.2,339.2 738.4,311 738.7,307.5 738.9,335 739,339.2 739.4,324.9 739.6,311 739.8,324.9 740.1,344.1 740.3,305.9 740.5,317.2 740.7,339.2 741,331.3 741.2,313 741.5,317.2 741.7,335 741.9,335 742.2,322.1 742.4,309.2 742.6,327.9 742.9,339.2 743.1,313 743.4,307.5 743.6,349.9 743.8,344.1 744,317.2 744.2,317.2 744.6,335 744.8,335 745,307.5 745.2,307.5 745.4,349.9 745.7,331.3 745.9,311 746.2,319.6 746.4,335 746.7,335 746.9,309.2 747.1,313 747.3,344.1 747.5,335 747.9,313 748.1,313 748.3,344.1 748.5,344.1 748.7,309.2 749,317.2 749.2,335 749.5,344.1 749.7,315 749.9,324.9 750.2,302.8 750.4,309.2 750.6,331.3 750.9,344.1 751.1,305.9 751.4,315 751.6,327.9 751.8,344.1 752,307.5 752.2,311 752.6,331.3 752.7,311 753.1,339.2 753.2,349.9 753.4,319.6 753.7,319.6 753.9,335 754.2,324.9 754.4,305.9 754.6,317.2 754.8,331.3 755,322.1 755.4,339.2 755.6,339.2 755.8,324.9 756.1,319.6 756.3,335 756.5,339.2 756.7,313 757,317.2 757.2,335 757.5,335 757.7,311 757.9,304.3 758.1,344.1 758.4,339.2 758.6,313 758.9,319.6 759.1,335 759.3,349.9 759.5,322.1 759.7,307.5 760.1,335 760.3,327.9 760.5,315 760.8,317.2 761,349.9 761.2,327.9 761.4,322.1 761.7,319.6 761.9,331.3 762.1,327.9 762.5,315 762.6,309.2 762.8,344.1 763.1,324.9 763.3,311 763.6,315 763.8,331.3 764,349.9 764.2,315 764.5,304.3 764.7,322.1 765,339.2 765.2,311 765.5,305.9 765.7,335 765.9,344.1 766.1,305.9 766.4,309.2 766.6,331.3 766.9,324.9 767.1,304.3 767.3,313 767.5,344.1 767.7,327.9 768.1,309.2 768.2,309.2 768.6,324.9 768.7,335 768.9,313 769.2,309.2 769.4,335 769.7,335 769.9,317.2 770.2,309.2 770.4,331.3 770.6,327.9 770.8,311 771.1,313 771.3,327.9 771.6,324.9 771.8,313 772,317.2 772.2,344.1 772.5,349.9 772.7,319.6 773,309.2 773.2,339.2 773.4,339.2 773.6,307.5 773.8,324.9 774.2,339.2 774.3,305.9 774.7,335 774.9,344.1 775.1,317.2 775.3,324.9 775.5,344.1 775.8,335 776,317.2 776.3,322.1 776.5,349.9 776.7,357 776.9,309.2 777.2,313 777.4,327.9 777.7,349.9 777.9,311 778.1,357 778.4,327.9 778.5,335 778.9,379.1 779.1,344.1 779.3,309.2 779.6,309.2 779.8,357 780,339.2 780.2,313 780.4,349.9 780.8,311 781,315 781.2,344.1 781.4,344.1 781.6,317.2 781.9,322.1 782.1,366.2 782.4,349.9 782.6,313 782.8,317.2 783.1,339.2 783.2,304.3 783.6,339.2 783.8,344.1 784,324.9 784.3,313 784.5,324.9 784.6,344.1 785,324.9 785.2,322.1 785.4,344.1 785.7,349.9 785.9,315 786.1,315 786.3,349.9 786.6,344.1 786.8,317.2 787,366.2 787.4,327.9 787.5,317.2 787.8,349.9 788,357 788.2,319.6 788.5,317.2 788.7,339.2 789,339.2 789.2,309.2 789.4,317.2 789.6,349.9 789.9,339.2 790.1,317.2 790.4,311 790.6,339.2 790.8,344.1 791,322.1 791.3,319.6 791.5,331.3 791.8,349.9 792,313 792.2,331.3 792.5,379.1 792.6,331.3 793,317.2 793.2,311 793.4,344.1 793.7,344.1 793.9,324.9 794.1,309.2 794.3,379.1 794.6,335 794.8,311 795,331.3 795.4,319.6" stroke="#c98a12"/>
<path d="M137.5,365.6 137.7,373.6 137.9,375.6 138.3,364.7 138.4,373.6 138.8,368.4 138.9,367.7 139.1,376.4 139.4,374 139.6,368 139.9,369 140.1,374.8 140.4,373.6 140.6,364.7 140.8,364.7 141,375.2 141.3,372.5 141.5,365.9 141.8,364.7 142,373.6 142.2,372.1 142.4,366.2 142.7,372.1 142.9,375.2 143.2,371.8 143.4,366.8 143.6,365.3 143.8,379.1 144.1,372.5 144.3,366.5 144.6,366.2 144.8,377.7 145.1,374 145.3,365.9 145.5,366.5 145.7,380.4 146,373.3 146.2,360.4 146.5,366.8 146.7,374.4 146.9,376 147.1,368 147.4,366.5 147.6,371.1 147.9,372.1 148.1,366.5 148.3,372.5 148.6,365.6 148.8,365 149,377.7 149.3,374 149.5,367.7 149.8,368.7 150,379.5 150.2,376.9 150.4,368.7 150.7,363.3 150.9,374.8 151.2,375.2 151.4,366.5 151.6,365.9 151.8,373.3 152.1,373.3 152.3,367.1 152.6,361.4 152.8,375.6 153,376.9 153.2,365.6 153.5,366.8 153.7,375.2 154,377.3 154.2,366.8 154.5,365.3 154.7,374 154.9,371.8 155.1,367.4 155.4,366.5 155.6,376.9 155.9,374 156.1,366.8 156.3,367.1 156.5,373.6 156.8,372.5 157,364.7 157.3,369.7 157.5,373.6 157.7,373.3 157.9,368 158.2,368 158.4,378.2 158.7,372.9 158.9,366.5 159.2,367.4 159.4,373.3 159.6,372.5 159.8,364.4 160.1,368 160.3,376.4 160.6,380.4 160.8,366.8 161,371.8 161.2,379.1 161.5,372.1 161.7,367.4 162,370.4 162.2,378.6 162.4,373.6 162.6,365.6 162.8,374.8 163.2,364.4 163.4,365 163.6,372.9 163.8,368.7 164.1,378.2 164.3,371.4 164.5,365.6 164.8,367.1 165,376.9 165.3,380 165.5,368.4 165.7,363.6 165.9,379.5 166.1,364.4 166.5,371.8 166.7,373.3 166.9,363.6 167.1,368.4 167.3,371.1 167.6,372.5 167.8,366.8 168,376 168.4,368.7 168.6,368 168.8,376 168.9,373.6 169.3,367.7 169.5,360.6 169.7,371.8 170,376.9 170.2,366.8 170.4,365.6 170.6,372.9 170.9,373.6 171.1,363.6 171.4,365 171.6,375.6 171.8,372.9 172,365 172.3,365 172.5,374.4 172.8,371.4 173,366.5 173.3,367.4 173.5,372.5 173.7,373.6 173.9,364.4 174.2,368.7 174.4,372.1 174.7,373.6 174.9,362.5 175.1,365 175.3,374 175.5,365.9 175.9,373.3 176.1,375.6 176.3,366.8 176.5,375.2 176.8,365.6 176.9,370.7 177.3,380 177.5,370.4 177.7,365.6 178,366.2 178.2,371.8 178.4,373.6 178.6,366.5 178.8,373.6 179.2,365 179.4,366.2 179.6,376.4 179.8,376.4 180,366.8 180.3,363.8 180.5,379.1 180.8,374.8 181,363.8 181.2,368.4 181.5,381.9 181.7,377.7 181.9,365.6 182.2,367.1 182.4,372.1 182.7,374.4 182.9,368.4 183.1,365 183.3,372.5 183.6,372.5 183.8,367.1 184.1,361.1 184.3,375.2 184.5,372.1 184.7,367.1 185,364.4 185.2,377.3 185.5,377.3 185.7,364.1 185.9,369.7 186.1,373.3 186.4,376 186.6,371.4 186.9,367.7 187.1,376.4 187.4,373.6 187.6,365.6 187.8,366.5 188,372.9 188.3,374 188.5,367.4 188.8,365 189,371.4 189.2,376.9 189.4,366.8 189.7,365.9 189.9,374.8 190.2,372.5 190.4,368 190.6,368.4 190.8,376.4 191.1,375.2 191.3,369.7 191.5,372.9 191.9,365.9 192.1,364.7 192.3,373.6 192.4,368 192.8,375.6 193,375.6 193.2,369.4 193.5,364.4 193.7,376 193.9,372.9 194.1,368.4 194.4,365.9 194.6,372.9 194.9,374.8 195.1,364.1 195.3,368 195.5,378.2 195.8,378.6 196,367.4 196.2,366.8 196.6,376 196.7,371.1 197,377.3 197.2,377.3 197.4,365.6 197.7,366.2 197.9,373.3 198.1,367.7 198.5,376.9 198.5,379.1 198.9,369.7 199.1,365.3 199.3,379.5 199.6,376 199.8,367.4 200,367.7 200.2,375.6 200.5,376 200.7,366.8 200.9,377.3 201.3,371.8 201.4,366.8 201.7,374.8 201.9,373.6 202.1,367.1 202.4,367.4 202.6,374.4 202.9,375.6 203.1,370 203.3,366.8 203.5,375.2 203.8,373.6 204,369.7 204.3,368.4 204.5,374.4 204.7,373.6 204.9,366.2 205.1,376 205.5,368 205.7,369.4 205.9,383.4 206.2,371.4 206.4,367.4 206.6,368 206.8,375.6 207.1,375.6 207.3,370 207.6,360.9 207.8,371.4 208,376.9 208.2,367.1 208.4,368 208.8,375.2 209,378.2 209.2,368.7 209.4,366.5 209.6,378.6 209.9,374.4 210.1,366.8 210.4,369.7 210.6,378.6 210.9,378.2 211.1,366.8 211.3,368.7 211.5,376 211.8,377.3 212,367.7 212.3,369 212.5,376 212.7,380.9 212.9,369 213.2,369.7 213.4,376.9 213.6,370.4 214,376.4 214.1,374.8 214.3,370.4 214.6,373.3 214.8,378.2 215,368.4 215.4,377.7 215.5,375.6 215.8,369.4 216,372.9 216.2,377.7 216.5,377.3 216.7,370.7 217,366.8 217.2,380.4 217.4,379.1 217.6,368 217.9,371.1 218.1,380.4 218.3,370 218.7,381.9 218.8,374 219,367.1 219.2,380.4 219.6,372.9 219.8,370 220,378.2 220.3,376.9 220.5,370.4 220.7,370.7 220.9,379.5 221.2,377.7 221.4,372.1 221.6,370 222,384 222.1,379.5 222.3,370.7 222.6,367.4 222.8,375.2 223.1,374 223.3,365.3 223.5,370.7 223.7,375.6 224,378.2 224.2,368.7 224.5,365.6 224.7,378.6 224.9,379.5 225.2,373.6 225.4,364.4 225.6,378.2 225.9,380.4 226.1,367.4 226.3,378.2 226.7,371.1 226.8,367.4 227,380 227.3,377.3 227.5,369.4 227.7,366.2 228.1,379.1 228.2,377.7 228.4,367.1 228.6,371.4 229,376.9 229.2,379.5 229.4,367.1 229.7,368.4 229.9,380.4 230.1,376.4 230.3,368.4 230.5,379.1 230.9,372.1 231.1,365.9 231.3,376.4 231.4,369 231.8,376.4 232,380.4 232.2,370 232.4,367.4 232.8,375.6 232.9,376.4 233.1,369.7 233.3,378.2 233.7,367.1 233.9,371.4 234.1,379.1 234.4,373.6 234.6,367.7 234.8,365.3 235,374.8 235.3,373.6 235.5,369 235.7,362.2 236.1,371.8 236.2,373.3 236.4,366.2 236.7,365.3 236.9,370.4 237.2,371.4 237.4,359.4 237.6,366.5 237.8,373.3 238.1,369 238.3,361.4 238.5,367.7 238.9,360.9 239.1,359.4 239.3,369 239.5,360.6 239.7,356.4 240,355.7 240.2,361.4 240.5,355.3 240.7,347.8 240.9,346 241.1,350.9 241.4,343.7 241.6,337.7 241.8,336.9 242.2,331 242.3,325 242.6,319.4 242.7,317.2 243.1,308.9 243.2,308.2 243.6,298.4 243.8,292.2 244,297.4 244.2,293 244.4,290.3 244.7,291.5 244.9,296 245.1,297 245.5,302 245.5,305.5 245.9,312.2 246,310.4 246.4,318.7 246.5,318.9 246.9,324.5 247,330.7 247.2,324.1 247.5,326.6 247.7,329.4 248,331.3 248.2,325.2 248.5,323.4 248.7,330.4 248.9,324.2 249.1,318.9 249.4,313.9 249.6,318.1 249.8,312.4 250.2,306.4 250.2,303.6 250.6,293.5 250.7,293.6 251.1,284 251.2,281.1 251.6,270.7 251.7,269.9 252,255.9 252.1,252.1 252.5,236.4 252.6,232.3 253,212 253.1,206.8 253.4,178.9 253.5,172.2 253.9,129.7 254,119.3 254.4,72.8 254.5,72.5 254.9,94.9 254.9,92.8 255.3,112.2 255.4,122.9 255.8,169.5 255.9,176.7 256.3,206.7 256.4,212 256.7,233.2 256.8,237.2 257.2,255.2 257.3,256.5 257.7,269.1 257.8,271.7 258.1,283.3 258.2,284.7 258.6,296.3 258.7,296.8 259.1,307.6 259.2,306.3 259.6,314.1 259.6,314.4 260,321 260.2,327.2 260.4,322 260.7,327.9 260.9,333.4 261.1,331.5 261.4,339.4 261.6,343 261.8,337 262.1,343 262.3,349.4 262.6,349 262.8,344.4 263,351.6 263.2,355.9 263.4,353.4 263.8,358.7 264,361.1 264.2,355 264.4,356.4 264.6,365.6 264.9,362.2 265.1,354.8 265.4,359.1 265.6,365 265.8,367.7 266,362.2 266.3,365.9 266.5,370.7 266.8,374 267,363.3 267.2,367.7 267.5,377.3 267.7,375.2 267.9,366.2 268.2,369 268.4,373.6 268.7,379.5 268.9,367.4 269.1,371.4 269.3,376.9 269.6,376.4 269.8,371.4 270.1,370.7 270.3,380.4 270.5,380.4 270.7,369.7 271,371.8 271.2,377.3 271.5,380.9 271.7,371.1 272,372.1 272.2,379.5 272.3,370.7 272.7,377.7 272.9,386.1 273.1,372.5 273.4,371.1 273.6,380 273.8,386.1 274,373.3 274.3,376 274.5,380.9 274.8,380.9 275,374.4 275.2,372.5 275.4,383.4 275.7,379.1 275.9,375.2 276.2,374 276.4,386.1 276.7,381.9 276.9,376.4 277.1,371.8 277.3,380.9 277.6,387.3 277.8,376 278.1,374 278.3,382.4 278.5,384.5 278.7,374.8 279,373.3 279.2,384 279.5,383.4 279.7,372.9 279.9,372.1 280.1,383.4 280.4,383.4 280.6,377.7 280.9,380.4 281.1,389.1 281.4,384.5 281.6,376.9 281.7,377.3 282.1,384.5 282.3,392.4 282.5,375.6 282.8,378.6 283,386.7 283.2,383.4 283.4,375.6 283.7,374 283.9,391.7 284.2,385.6 284.4,378.2 284.6,376.4 284.8,392.4 285.1,386.7 285.3,379.5 285.6,376.9 285.8,386.1 286.1,384.5 286.3,376.4 286.4,387.3 286.8,375.2 287,378.6 287.2,391.7 287.5,391 287.7,377.7 287.8,390.4 288.2,379.1 288.4,376.4 288.6,388.5 288.9,385 289.1,375.6 289.3,387.9 289.6,373.6 289.7,380.4 290.1,389.7 290.3,384 290.5,378.6 290.8,377.3 291,390.4 291.2,393.1 291.4,376.4 291.7,379.5 291.9,389.1 292.2,389.7 292.4,372.9 292.5,382.4 292.9,374.4 293.1,379.1 293.3,385 293.6,387.9 293.8,373.6 294,396.1 294.3,376.9 294.5,376.9 294.7,384 295,386.7 295.2,380 295.4,387.9 295.7,374 295.9,373.6 296.1,383.4 296.4,387.3 296.6,375.2 296.8,376 297.2,384 297.2,379.1 297.6,372.1 297.8,366.2 298,377.3 298.3,380.4 298.5,373.3 298.7,368.7 298.9,381.9 299.2,374.8 299.4,368.4 299.7,369.7 299.9,380 300.2,380.9 300.4,367.4 300.6,368.7 300.8,377.3 301.1,376.9 301.3,369.4 301.6,372.1 301.8,376.9 302,380 302.2,375.2 302.5,370.4 302.7,384.5 302.9,372.9 303.3,380.9 303.4,380 303.6,376 303.9,380.4 304.1,384.5 304.4,384.5 304.6,377.3 304.9,374.4 305.1,384 305.3,385.6 305.5,379.1 305.8,374.8 306,389.7 306.3,388.5 306.5,377.7 306.7,378.2 306.9,382.4 307.2,386.7 307.4,381.9 307.7,382.9 307.9,392.4 308.1,380.9 308.4,388.5 308.6,392.4 308.8,377.7 309.1,384.5 309.3,393.8 309.6,393.8 309.8,379.1 310,377.7 310.2,391.7 310.5,389.1 310.7,384.5 311,382.9 311.2,389.1 311.4,393.1 311.6,382.9 311.9,385 312.1,395.3 312.4,394.5 312.6,382.9 312.8,384.5 313,391.7 313.3,394.5 313.5,385 313.8,383.4 314,393.8 314.3,395.3 314.5,379.5 314.7,381.4 314.9,395.3 315.2,392.4 315.4,379.5 315.7,385 315.9,395.3 316,383.4 316.4,399.3 316.6,391.7 316.8,384 317.1,381.9 317.3,396.1 317.5,402 317.7,384 318,385 318.2,394.5 318.4,395.3 318.8,385 319,384 319.2,396.1 319.4,395.3 319.6,385.6 319.9,380.4 320.1,395.3 320.4,397.6 320.6,383.4 320.8,386.1 321,400.2 321.2,396.1 321.6,386.1 321.8,380.9 322,399.3 322.2,393.1 322.4,382.4 322.7,387.3 322.9,394.5 323.2,396.1 323.4,384.5 323.6,399.3 323.9,384 324.1,383.4 324.3,398.5 324.5,384.5 324.9,404.9 325.1,391.7 325.3,386.7 325.5,386.7 325.7,400.2 326,408.2 326.2,389.1 326.4,384.5 326.8,390.4 326.9,393.8 327.1,389.1 327.4,382.4 327.6,400.2 327.9,402 328.1,385 328.4,383.4 328.6,396.1 328.8,396.1 329,388.5 329.2,401.1 329.6,384 329.8,385.6 330,408.2 330.1,395.3 330.5,390.4 330.7,386.7 330.9,395.3 331.2,402 331.4,389.1 331.6,389.7 331.8,401.1 332.1,396.1 332.3,389.1 332.6,381.9 332.8,394.5 333.1,403 333.3,389.7 333.4,399.3 333.8,390.4 334,387.3 334.2,401.1 334.4,400.2 334.8,387.3 334.9,387.9 335.1,408.2 335.4,399.3 335.6,387.9 335.8,409.3 336.2,394.5 336.3,387.9 336.5,397.6 336.8,397.6 337,386.1 337.3,387.9 337.5,407.1 337.8,400.2 338,394.5 338.2,391.7 338.4,397.6 338.7,396.8 338.9,385.6 339.1,401.1 339.5,392.4 339.6,391 339.8,403.9 340.1,401.1 340.3,391.7 340.5,399.3 340.9,391 341,390.4 341.2,410.5 341.5,407.1 341.7,393.1 342,391 342.2,393.8 342.4,403.9 342.7,391.7 342.9,389.1 343.1,408.2 343.4,402 343.6,385 343.9,391 344.1,403 344.3,399.3 344.5,390.4 344.8,391.7 345,399.3 345.2,392.4 345.6,408.2 345.7,402 345.9,389.7 346.2,391 346.4,396.1 346.7,399.3 346.9,389.1 347.2,391.7 347.4,408.2 347.6,406 347.8,393.1 348,404.9 348.4,396.1 348.6,395.3 348.8,401.1 349,407.1 349.2,385 349.5,392.4 349.7,401.1 350,404.9 350.2,389.1 350.4,392.4 350.7,401.1 350.9,397.6 351.1,392.4 351.3,390.4 351.7,401.1 351.9,401.1 352.1,389.7 352.3,391.7 352.5,407.1 352.8,400.2 353,391.7 353.3,393.1 353.5,402 353.7,404.9 353.9,395.3 354.2,388.5 354.4,401.1 354.7,402 354.9,386.1 355.1,391.7 355.3,396.1 355.6,403.9 355.8,393.8 356,393.1 356.4,399.3 356.6,407.1 356.8,394.5 357,390.4 357.2,406 357.5,409.3 357.7,393.8 358,388.5 358.2,399.3 358.4,401.1 358.6,391.7 358.9,393.1 359.1,401.1 359.4,410.5 359.6,395.3 359.8,387.3 360,407.1 360.2,400.2 360.6,394.5 360.8,391.7 361,406 361.3,399.3 361.5,393.1 361.6,391.7 362,397.6 362.1,399.3 362.5,391 362.7,386.1 362.9,406 363.1,403 363.3,393.1 363.5,404.9 363.9,389.1 364.1,386.1 364.3,402 364.5,409.3 364.7,393.8 365,391.7 365.2,399.3 365.5,401.1 365.7,386.1 366,387.3 366.2,408.2 366.3,379.5 366.7,395.3 366.9,393.8 367.1,381.4 367.4,383.4 367.6,388.5 367.8,391 368,380.9 368.3,375.2 368.5,386.7 368.7,384 369.1,371.4 369.2,382.4 369.5,368.4 369.6,369 370,361.9 370.1,361.1 370.5,355.3 370.6,357 370.9,350.7 371,355.3 371.4,345.7 371.6,341.5 371.8,347.8 372.1,339.4 372.3,333.6 372.5,335.2 372.7,337.8 372.9,334.7 373.3,343 373.5,343.2 373.7,338.6 373.9,341.2 374.2,352 374.3,353.2 374.7,359.9 374.8,358.2 375.2,365.9 375.4,366.2 375.6,360.1 375.8,363.8 376,376 376.3,376.4 376.5,369 376.7,376.9 377.1,389.1 377.2,388.5 377.4,375.2 377.6,383.4 378,392.4 378.1,380 378.5,395.3 378.6,396.1 378.8,385 379.1,390.4 379.3,403 379.6,401.1 379.8,388.5 380,391 380.3,403.9 380.5,404.9 380.7,391 380.9,407.1 381.3,392.4 381.5,389.7 381.7,402 381.8,403.9 382.2,391.7 382.4,389.7 382.6,406 382.9,404.9 383.1,393.1 383.3,393.1 383.5,403 383.8,407.1 384,394.5 384.3,395.3 384.5,407.1 384.8,408.2 385,393.8 385.2,393.8 385.4,414.4 385.7,414.4 385.9,394.5 386.2,395.3 386.4,414.4 386.6,406 386.8,400.2 387.1,396.8 387.3,407.1 387.5,394.5 387.9,403.9 388,403 388.2,393.8 388.5,400.2 388.7,411.8 389,409.3 389.2,395.3 389.5,391.7 389.7,410.5 389.9,408.2 390.1,393.8 390.4,399.3 390.6,417.3 390.9,406 391.1,398.5 391.3,401.1 391.5,413.1 391.8,420.5 392,396.8 392.3,401.1 392.5,409.3 392.7,409.3 392.9,400.2 393.1,399.3 393.5,411.8 393.7,410.5 393.9,397.6 394.1,408.2 394.4,400.2 394.6,401.1 394.8,426 395,400.2 395.4,409.3 395.6,411.8 395.8,400.2 396,397.6 396.2,411.8 396.5,413.1 396.7,390.4 397,394.5 397.2,410.5 397.4,409.3 397.6,393.1 397.9,395.3 398.1,417.3 398.3,396.8 398.7,403.9 398.9,415.8 399.1,395.3 399.3,398.5 399.5,414.4 399.8,403.9 400,393.8 400.3,397.6 400.5,415.8 400.7,410.5 400.9,399.3 401.2,402 401.4,407.1 401.7,415.8 401.9,396.1 402.1,414.4 402.4,399.3 402.6,401.1 402.8,417.3 403.1,413.1 403.3,401.1 403.6,392.4 403.8,407.1 404,411.8 404.2,402 404.5,393.8 404.7,422.2 405,415.8 405.2,401.1 405.4,397.6 405.6,411.8 405.9,415.8 406.1,398.5 406.4,396.8 406.6,411.8 406.8,415.8 407,396.8 407.3,403 407.5,407.1 407.8,408.2 408,394.5 408.3,394.5 408.5,415.8 408.7,414.4 408.9,401.1 409.2,402 409.4,410.5 409.7,420.5 409.9,397.6 410.1,395.3 410.3,418.9 410.5,402 410.9,414.4 411.1,411.8 411.3,401.1 411.5,403 411.7,415.8 412,418.9 412.2,403 412.5,398.5 412.7,414.4 413,424 413.2,404.9 413.4,395.3 413.6,418.9 413.9,417.3 414.1,400.2 414.4,399.3 414.6,415.8 414.8,414.4 415,400.2 415.3,398.5 415.5,414.4 415.8,415.8 416,393.8 416.2,406 416.5,418.9 416.7,410.5 416.9,396.8 417.2,396.1 417.4,413.1 417.7,417.3 417.9,397.6 418.1,399.3 418.3,413.1 418.6,424 418.8,403 419.1,397.6 419.3,413.1 419.5,409.3 419.7,398.5 420,403 420.2,414.4 420.5,417.3 420.7,404.9 420.9,408.2 421.1,417.3 421.4,417.3 421.6,399.3 421.8,413.1 422.2,396.8 422.3,404.9 422.6,410.5 422.8,422.2 423,398.5 423.2,402 423.6,414.4 423.8,418.9 424,404.9 424.2,403 424.4,415.8 424.7,414.4 424.9,402 425.2,399.3 425.4,418.9 425.6,418.9 425.8,408.2 426,424 426.4,408.2 426.6,403 426.8,415.8 427.1,415.8 427.3,399.3 427.5,399.3 427.7,413.1 428,424 428.2,398.5 428.4,420.5 428.8,403 428.9,406 429.1,418.9 429.4,432.6 429.6,407.1 429.9,397.6 430.1,420.5 430.3,424 430.5,403.9 430.8,398.5 431,428 431.2,424 431.6,409.3 431.8,408.2 432,415.8 432.1,403 432.5,417.3 432.7,444.2 432.9,407.1 433.2,408.2 433.4,424 433.6,413.1 433.8,398.5 434.1,407.1 434.3,420.5 434.6,424 434.8,404.9 435,404.9 435.2,426 435.4,403 435.8,415.8 436,418.9 436.2,407.1 436.5,400.2 436.7,417.3 436.9,418.9 437.1,403.9 437.4,406 437.6,414.4 437.8,424 438.2,404.9 438.3,408.2 438.5,422.2 438.8,420.5 439,401.1 439.3,403.9 439.5,424 439.7,415.8 439.9,411.8 440.2,407.1 440.4,426 440.7,418.9 440.9,403 441.2,404.9 441.4,420.5 441.6,420.5 441.8,406 442.1,404.9 442.3,422.2 442.6,420.5 442.8,408.2 443,403.9 443.2,424 443.4,411.8 443.8,426 444,417.3 444.2,406 444.4,399.3 444.6,426 444.9,437.9 445.1,414.4 445.3,414.4 445.7,409.3 445.9,402 446.1,424 446.3,420.5 446.5,403 446.8,413.1 447,430.2 447.3,422.2 447.5,403.9 447.7,406 447.9,424 448.2,418.9 448.4,402 448.7,408.2 448.9,435.1 449.1,422.2 449.3,407.1 449.6,404.9 449.8,426 450.1,420.5 450.3,411.8 450.6,402 450.8,418.9 451,422.2 451.2,403 451.5,407.1 451.7,432.6 452,420.5 452.2,408.2 452.4,409.3 452.6,424 452.9,430.2 453.1,406 453.4,407.1 453.6,420.5 453.8,422.2 454,403 454.3,408.2 454.5,418.9 454.7,413.1 455.1,404.9 455.3,400.2 455.5,426 455.6,426 456,409.3 456.2,410.5 456.4,428 456.7,418.9 456.9,404.9 457.1,403.9 457.3,418.9 457.6,428 457.8,407.1 458.1,406 458.3,428 458.5,422.2 458.7,402 459,407.1 459.2,422.2 459.5,428 459.7,407.1 459.9,406 460.2,417.3 460.4,420.5 460.6,408.2 460.9,408.2 461.1,428 461.3,410.5 461.7,424 461.8,426 462,411.8 462.3,404.9 462.5,428 462.8,422.2 463,407.1 463.2,424 463.5,402 463.6,404.9 464,414.4 464.2,420.5 464.4,406 464.7,400.2 464.9,422.2 465.1,422.2 465.3,407.1 465.6,410.5 465.8,422.2 466.1,420.5 466.3,404.9 466.4,408.2 466.8,415.8 466.9,418.9 467.3,406 467.5,403.9 467.7,426 467.9,432.6 468.1,417.3 468.4,410.5 468.6,426 468.8,408.2 469.2,428 469.3,404.9 469.6,417.3 469.8,426 470,406 470.3,409.3 470.5,430.2 470.7,408.2 471.1,418.9 471.2,428 471.4,408.2 471.7,407.1 471.9,428 472.2,417.3 472.4,409.3 472.6,413.1 472.8,432.6 473.1,418.9 473.3,404.9 473.5,410.5 473.9,430.2 474.1,424 474.3,410.5 474.5,406 474.7,418.9 475,418.9 475.2,410.5 475.4,411.8 475.8,422.2 475.9,426 476.1,410.5 476.4,410.5 476.6,417.3 476.9,426 477.1,410.5 477.3,409.3 477.5,435.1 477.7,424 478.1,408.2 478.3,411.8 478.5,420.5 478.8,426 479,410.5 479.2,409.3 479.4,422.2 479.7,424 479.9,409.3 480.2,407.1 480.4,422.2 480.6,424 480.8,408.2 481.1,402 481.3,424 481.5,430.2 481.9,411.8 482,411.8 482.2,424 482.5,424 482.7,406 483,413.1 483.2,430.2 483.4,422.2 483.7,406 483.8,422.2 484.2,403 484.4,403.9 484.6,424 484.8,424 485.2,410.5 485.3,407.1 485.5,435.1 485.7,409.3 486.1,418.9 486.3,420.5 486.5,409.3 486.7,403 486.9,430.2 487.2,424 487.4,404.9 487.6,415.8 488,407.1 488.1,422.2 488.4,413.1 488.6,407.1 488.8,435.1 489.1,437.9 489.3,410.5 489.6,413.1 489.8,417.3 489.9,408.2 490.3,420.5 490.5,428 490.7,409.3 491,408.2 491.2,426 491.4,430.2 491.7,411.8 491.8,417.3 492.2,428 492.4,428 492.6,410.5 492.8,414.4 493.1,435.1 493.3,426 493.5,408.2 493.8,411.8 494,430.2 494.3,426 494.5,398.5 494.7,410.5 494.9,420.5 495.2,428 495.4,410.5 495.7,409.3 495.9,432.6 496.1,422.2 496.3,404.9 496.6,414.4 496.8,426 497.1,432.6 497.3,411.8 497.6,406 497.8,418.9 498,435.1 498.2,413.1 498.5,404.9 498.7,432.6 498.9,437.9 499.3,418.9 499.4,411.8 499.6,418.9 499.9,415.8 500.1,408.2 500.4,409.3 500.6,422.2 500.8,428 501,403.9 501.3,408.2 501.5,426 501.8,432.6 502,409.3 502.3,408.2 502.5,422.2 502.7,426 502.9,406 503.2,407.1 503.4,410.5 503.6,422.2 504,403 504.1,390.4 504.3,414.4 504.6,409.3 504.8,391.7 505.1,388.5 505.3,399.3 505.5,400.2 505.7,384 506,380 506.2,394.5 506.5,390.4 506.7,379.1 506.9,389.1 507.2,380 507.4,373.6 507.6,391.7 507.9,395.3 508.1,376.4 508.3,385 508.7,394.5 508.8,396.1 509,385.6 509.3,389.7 509.5,406 509.8,409.3 510,393.8 510.2,404.9 510.4,411.8 510.7,420.5 510.9,398.5 511.2,400.2 511.4,413.1 511.7,428 511.9,403 512.1,404.9 512.3,428 512.6,426 512.8,403.9 513.1,403.9 513.3,417.3 513.5,422.2 513.7,410.5 513.9,411.8 514.3,428 514.5,424 514.7,403.9 514.9,406 515.1,428 515.3,403 515.7,422.2 515.9,420.5 516.1,402 516.3,407.1 516.6,415.8 516.8,420.5 517,410.5 517.3,411.8 517.5,420.5 517.8,418.9 518,399.3 518.2,402 518.4,413.1 518.6,406 519,424 519.2,420.5 519.4,399.3 519.6,391.7 519.8,414.4 520,410.5 520.4,400.2 520.6,396.8 520.8,404.9 521.1,403.9 521.3,389.7 521.5,395.3 521.7,403 522,406 522.2,387.3 522.5,386.7 522.7,393.8 522.9,392.4 523.1,382.4 523.4,378.2 523.6,387.3 523.9,382.9 524.1,368.7 524.3,364.1 524.5,371.8 524.7,366.8 525.1,354.8 525.2,354.6 525.6,343.2 525.7,347.3 526,332 526.1,330.3 526.5,318 526.6,314.5 527,297.4 527.1,292.1 527.5,272.4 527.5,266.9 527.9,239.4 528,232.8 528.4,189.1 528.5,178.7 528.9,131.7 529,131.8 529.3,176.8 529.4,186.3 529.8,201.2 529.9,195.8 530.3,154.4 530.4,152.6 530.7,195.7 530.8,205.9 531.2,248.3 531.3,256 531.7,282.5 531.8,288.5 532.2,308.9 532.2,310.4 532.6,325 532.7,330 533.1,340.2 533.3,350.5 533.5,344.3 533.7,350.1 534,359.9 534.1,360.6 534.5,367.4 534.6,368.4 535,382.9 535.2,383.4 535.4,377.7 535.5,381.4 535.9,393.8 536.1,398.5 536.3,388.5 536.6,387.3 536.8,401.1 536.9,396.1 537.3,410.5 537.5,407.1 537.7,401.1 537.9,408.2 538.3,394.5 538.4,401.1 538.6,426 538.9,408.2 539.1,396.8 539.4,402 539.6,420.5 539.9,414.4 540.1,403.9 540.3,407.1 540.5,422.2 540.8,437.9 541,402 541.3,410.5 541.5,426 541.7,435.1 541.9,406 542.2,403.9 542.4,430.2 542.7,428 542.9,417.3 543.1,407.1 543.3,422.2 543.6,428 543.8,407.1 544,424 544.4,410.5 544.6,420.5 544.8,440.9 545,430.2 545.2,410.5 545.5,417.3 545.7,432.6 546,432.6 546.2,408.2 546.4,413.1 546.6,426 546.8,411.8 547.2,432.6 547.4,432.6 547.6,411.8 547.8,417.3 548,437.9 548.3,437.9 548.5,417.3 548.8,413.1 549,430.2 549.3,428 549.5,409.3 549.7,417.3 549.9,428 550.2,428 550.4,414.4 550.7,418.9 550.9,457.1 551,430.2 551.4,413.1 551.6,411.8 551.8,437.9 552.1,430.2 552.3,409.3 552.5,414.4 552.7,432.6 553,435.1 553.2,415.8 553.5,422.2 553.7,435.1 554,432.6 554.2,413.1 554.3,424 554.7,440.9 554.8,440.9 555.2,418.9 555.4,413.1 555.6,435.1 555.8,432.6 556,417.3 556.3,411.8 556.5,432.6 556.8,435.1 557,418.9 557.2,410.5 557.4,437.9 557.7,437.9 557.9,420.5 558.2,418.9 558.4,437.9 558.7,437.9 558.9,424 559.1,424 559.3,444.2 559.5,437.9 559.9,428 560.1,420.5 560.3,457.1 560.5,430.2 560.7,413.1 561,418.9 561.2,440.9 561.5,430.2 561.7,418.9 561.9,415.8 562.1,448 562.4,444.2 562.6,422.2 562.9,415.8 563.1,430.2 563.4,444.2 563.6,418.9 563.8,410.5 564,440.9 564.3,452.2 564.5,415.8 564.8,417.3 565,428 565.2,440.9 565.4,420.5 565.7,417.3 565.9,432.6 566.2,432.6 566.4,420.5 566.6,411.8 566.8,448 567,437.9 567.4,424 567.6,414.4 567.8,428 568.1,435.1 568.3,417.3 568.5,415.8 568.7,440.9 568.9,444.2 569.3,415.8 569.5,424 569.7,448 569.9,444.2 570.1,418.9 570.4,413.1 570.6,437.9 570.9,435.1 571.1,424 571.3,408.2 571.5,437.9 571.8,452.2 572,424 572.3,418.9 572.5,440.9 572.8,437.9 573,424 573.2,424 573.4,437.9 573.7,437.9 573.9,418.9 574.1,424 574.5,435.1 574.5,435.1 574.9,420.5 575,437.9 575.4,420.5 575.6,409.3 575.8,444.2 576,422.2 576.3,444.2 576.4,413.1 576.8,437.9 577,444.2 577.2,418.9 577.5,417.3 577.7,444.2 577.9,452.2 578.1,414.4 578.4,418.9 578.6,440.9 578.9,444.2 579.1,414.4 579.3,424 579.5,448 579.8,437.9 580,432.6 580.3,417.3 580.5,448 580.7,420.5 581,440.9 581.2,448 581.4,430.2 581.7,426 581.9,448 582.2,437.9 582.4,418.9 582.5,424 582.9,462.9 583,437.9 583.4,418.9 583.6,420.5 583.8,448 584,435.1 584.2,426 584.4,440.9 584.8,426 584.9,437.9 585.3,417.3 585.4,418.9 585.6,462.9 585.9,448 586.1,424 586.4,415.8 586.6,432.6 586.9,435.1 587.1,414.4 587.3,424 587.5,440.9 587.8,452.2 588,422.2 588.2,440.9 588.6,420.5 588.7,418.9 588.9,457.1 589.2,448 589.4,422.2 589.7,417.3 589.9,448 590.1,444.2 590.3,424 590.5,418.9 590.9,437.9 591.1,448 591.3,428 591.5,448 591.8,422.2 592,430.2 592.2,444.2 592.5,440.9 592.7,418.9 593,418.9 593.2,444.2 593.3,418.9 593.7,440.9 593.9,448 594.1,424 594.3,452.2 594.7,424 594.8,452.2 595.1,432.6 595.3,437.9 595.5,457.1 595.8,435.1 596,424 596.2,428 596.5,435.1 596.7,444.2 596.9,420.5 597.2,426 597.4,440.9 597.7,448 597.9,424 598.1,415.8 598.3,440.9 598.6,448 598.8,414.4 599.1,422.2 599.3,448 599.5,417.3 599.8,437.9 599.9,424 600.3,432.6 600.5,457.1 600.7,424 601,414.4 601.2,437.9 601.4,444.2 601.6,420.5 601.9,426 602.1,448 602.3,432.6 602.7,457.1 602.8,437.9 603,414.4 603.3,418.9 603.5,457.1 603.8,452.2 604,424 604.2,426 604.4,452.2 604.7,444.2 604.9,417.3 605.2,418.9 605.4,440.9 605.7,448 605.9,420.5 606.1,418.9 606.3,435.1 606.5,448 606.9,432.6 607.1,414.4 607.3,448 607.5,440.9 607.7,417.3 608,430.2 608.2,437.9 608.5,440.9 608.7,424 608.9,418.9 609.1,444.2 609.3,457.1 609.7,428 609.9,426 610.1,444.2 610.4,437.9 610.6,422.2 610.7,437.9 611.1,426 611.3,414.4 611.5,432.6 611.8,444.2 612,424 612.2,417.3 612.4,452.2 612.6,432.6 613,420.5 613.2,418.9 613.4,452.2 613.6,444.2 613.8,418.9 614.1,418.9 614.3,437.9 614.5,418.9 614.9,440.9 615,437.9 615.3,428 615.5,424 615.7,448 616,444.2 616.2,428 616.5,428 616.7,470 616.9,435.1 617.1,422.2 617.4,422.2 617.6,432.6 617.9,440.9 618.1,415.8 618.3,417.3 618.5,444.2 618.8,437.9 619,420.5 619.3,420.5 619.5,452.2 619.8,437.9 620,413.1 620.2,420.5 620.4,462.9 620.7,437.9 620.9,424 621.1,422.2 621.5,470 621.6,440.9 621.8,418.9 622.1,428 622.3,440.9 622.6,448 622.8,420.5 623,417.3 623.2,444.2 623.5,457.1 623.7,414.4 624,420.5 624.2,435.1 624.5,435.1 624.7,407.1 624.9,411.8 625.1,432.6 625.4,422.2 625.6,417.3 625.9,417.3 626.1,424 626.3,435.1 626.5,411.8 626.8,410.5 627,430.2 627.3,432.6 627.5,417.3 627.7,420.5 627.9,452.2 628.2,452.2 628.4,426 628.7,424 628.9,440.9 629.1,424 629.4,444.2 629.6,444.2 629.8,426 630.1,418.9 630.3,448 630.6,448 630.8,424 631,424 631.2,448 631.5,437.9 631.7,424 631.9,432.6 632.3,424 632.4,422.2 632.6,448 632.9,452.2 633.1,415.8 633.4,418.9 633.6,440.9 633.9,448 634.1,420.5 634.3,428 634.5,440.9 634.8,444.2 635,422.2 635.3,415.8 635.5,437.9 635.7,444.2 635.9,428 636.2,430.2 636.4,437.9 636.6,448 637,428 637.1,426 637.3,440.9 637.6,457.1 637.8,426 638.1,418.9 638.3,435.1 638.5,426 638.8,448 639,444.2 639.2,420.5 639.5,414.4 639.7,444.2 640,444.2 640.2,422.2 640.4,430.2 640.6,444.2 640.9,444.2 641.1,422.2 641.4,422.2 641.6,437.9 641.8,448 642,420.5 642.2,428 642.6,440.9 642.8,440.9 643,418.9 643.2,440.9 643.5,428 643.7,418.9 643.9,435.1 644.2,435.1 644.4,426 644.7,414.4 644.9,448 645,424 645.4,444.2 645.6,435.1 645.8,417.3 646.1,410.5 646.3,432.6 646.5,444.2 646.7,417.3 647,414.4 647.2,435.1 647.5,435.1 647.7,404.9 648,413.1 648.2,432.6 648.3,422.2 648.7,410.5 648.8,406 649.2,422.2 649.4,424 649.6,409.3 649.8,400.2 650,422.2 650.3,422.2 650.5,396.8 650.8,398.5 651,411.8 651.2,415.8 651.4,396.8 651.7,399.3 651.9,415.8 652.2,413.1 652.4,400.2 652.7,402 652.9,418.9 653.1,420.5 653.3,403.9 653.6,408.2 653.8,432.6 654.1,420.5 654.3,408.2 654.5,409.3 654.7,428 655,432.6 655.2,413.1 655.5,415.8 655.7,440.9 655.9,424 656.2,437.9 656.3,432.6 656.7,417.3 656.9,420.5 657.1,444.2 657.4,444.2 657.6,424 657.7,448 658.1,422.2 658.3,417.3 658.5,440.9 658.8,437.9 659,422.2 659.2,420.5 659.4,462.9 659.6,426 660,452.2 660.1,424 660.5,440.9 660.6,440.9 660.8,422.2 661.1,417.3 661.3,452.2 661.6,437.9 661.8,428 662.1,430.2 662.3,448 662.5,444.2 662.7,418.9 663,426 663.2,448 663.4,428 663.8,448 663.9,457.1 664.1,417.3 664.4,420.5 664.6,435.1 664.9,448 665.1,430.2 665.3,422.2 665.6,448 665.8,444.2 666,428 666.3,428 666.5,440.9 666.8,452.2 667,426 667.1,462.9 667.5,424 667.7,426 667.9,444.2 668.2,448 668.4,426 668.6,420.5 668.8,440.9 669.1,444.2 669.3,422.2 669.6,428 669.8,444.2 670,435.1 670.2,418.9 670.5,424 670.7,462.9 671,448 671.2,426 671.5,414.4 671.7,457.1 671.9,444.2 672.1,426 672.3,420.5 672.7,440.9 672.9,437.9 673.1,430.2 673.3,424 673.5,448 673.8,448 674,432.6 674.3,428 674.5,440.9 674.7,448 674.9,430.2 675.1,448 675.5,426 675.7,422.2 675.9,437.9 676.2,448 676.4,426 676.6,424 676.8,452.2 677.1,440.9 677.3,422.2 677.5,422.2 677.9,452.2 677.9,422.2 678.3,444.2 678.5,452.2 678.7,424 678.9,428 679.3,448 679.4,448 679.6,422.2 679.8,452.2 680.2,426 680.3,457.1 680.7,428 680.9,426 681.1,440.9 681.2,428 681.6,444.2 681.7,428 682.1,452.2 682.3,440.9 682.5,420.5 682.7,430.2 682.9,452.2 683.2,452.2 683.4,424 683.7,428 683.9,444.2 684.1,448 684.3,428 684.6,430.2 684.8,444.2 685.1,440.9 685.3,430.2 685.5,430.2 685.8,462.9 686,457.1 686.2,430.2 686.4,437.9 686.8,422.2 687,424 687.2,444.2 687.4,444.2 687.6,426 687.9,426 688.1,444.2 688.4,470 688.6,430.2 688.8,424 689,437.9 689.3,448 689.5,428 689.8,424 690,452.2 690.2,430.2 690.5,440.9 690.7,452.2 690.9,424 691.2,424 691.4,444.2 691.7,457.1 691.9,424 692,417.3 692.4,452.2 692.6,448 692.8,430.2 693.1,417.3 693.3,448 693.5,448 693.7,426 694,424 694.2,470 694.5,452.2 694.7,426 695,420.5 695.2,444.2 695.4,448 695.6,428 695.9,420.5 696.1,452.2 696.4,462.9 696.6,418.9 696.7,428 697.1,448 697.3,448 697.5,435.1 697.7,448 698.1,435.1 698.2,426 698.4,452.2 698.7,435.1 698.9,428 699.2,430.2 699.4,457.1 699.7,462.9 699.9,432.6 700.1,428 700.3,448 700.6,448 700.8,424 701.1,428 701.3,448 701.5,452.2 701.7,426 702,415.8 702.2,452.2 702.5,452.2 702.7,428 702.9,426 703.1,452.2 703.4,457.1 703.6,428 703.9,422.2 704.1,448 704.3,448 704.6,432.6 704.8,430.2 705,462.9 705.3,448 705.5,430.2 705.8,422.2 706,444.2 706.1,435.1 706.5,415.8 706.6,457.1 707,437.9 707.2,422.2 707.4,444.2 707.6,448 707.8,435.1 708.1,426 708.3,444.2 708.5,448 708.9,430.2 709.1,422.2 709.3,452.2 709.5,444.2 709.7,428 709.9,430.2 710.3,479.2 710.5,440.9 710.7,426 710.9,430.2 711.1,457.1 711.4,440.9 711.6,430.2 711.9,414.4 712.1,440.9 712.3,462.9 712.5,432.6 712.8,426 713,452.2 713.2,444.2 713.6,430.2 713.8,426 714,470 714.2,440.9 714.4,422.2 714.7,432.6 714.9,452.2 715.2,448 715.4,426 715.6,426 715.8,448 716.1,457.1 716.3,428 716.5,432.6 716.9,470 717,470 717.2,428 717.4,426 717.8,452.2 718,440.9 718.2,418.9 718.5,428 718.7,462.9 718.8,435.1 719.2,462.9 719.4,452.2 719.6,432.6 719.8,432.6 720.2,448 720.3,448 720.5,418.9 720.8,432.6 721,457.1 721.3,444.2 721.5,430.2 721.7,479.2 722,435.1 722.2,437.9 722.4,470 722.7,440.9 722.9,428 723.2,435.1 723.4,470 723.6,457.1 723.8,430.2 724.1,420.5 724.3,462.9 724.6,448 724.8,428 725,426 725.2,462.9 725.5,470 725.7,430.2 726,435.1 726.2,462.9 726.4,452.2 726.6,428 726.9,422.2 727.1,452.2 727.4,448 727.6,428 727.9,426 728.1,444.2 728.3,470 728.5,418.9 728.8,424 729,462.9 729.2,448 729.6,430.2 729.7,432.6 729.9,470 730.2,462.9 730.4,437.9 730.7,424 730.9,470 731.1,444.2 731.3,432.6 731.5,430.2 731.9,448 732.1,452.2 732.3,435.1 732.6,426 732.8,462.9 733,457.1 733.2,422.2 733.5,444.2 733.7,470 734,457.1 734.2,424 734.4,432.6 734.6,470 734.9,457.1 735.1,430.2 735.3,424 735.7,452.2 735.8,435.1 736.1,462.9 736.3,444.2 736.5,424 736.8,435.1 737,444.2 737.3,470 737.5,426 737.7,430.2 737.9,448 738.2,448 738.4,432.6 738.7,430.2 738.9,457.1 739.1,462.9 739.3,426 739.6,428 739.8,462.9 740.1,452.2 740.3,428 740.5,440.9 740.7,452.2 741,452.2 741.2,435.1 741.5,430.2 741.7,452.2 742,444.2 742.2,422.2 742.4,424 742.6,452.2 742.9,452.2 743.1,426 743.4,426 743.6,462.9 743.7,428 744.1,440.9 744.2,432.6 744.6,452.2 744.8,462.9 745,432.6 745.2,426 745.4,462.9 745.7,457.1 745.9,422.2 746.2,424 746.4,479.2 746.7,452.2 746.9,424 747.1,430.2 747.3,462.9 747.6,457.1 747.8,432.6 748.1,430.2 748.3,462.9 748.5,470 748.7,426 749,432.6 749.2,448 749.4,470 749.8,424 749.9,428 750.2,448 750.4,462.9 750.6,426 750.9,432.6 751.1,470 751.3,428 751.6,440.9 751.8,452.2 752,444.2 752.3,437.9 752.5,457.1 752.8,444.2 753,424 753.2,437.9 753.4,448 753.7,457.1 753.9,440.9 754.1,457.1 754.5,424 754.6,430.2 754.8,452.2 755.1,470 755.3,432.6 755.5,448 755.9,430.2 756.1,435.1 756.3,452.2 756.5,448 756.7,424 757,424 757.2,462.9 757.5,462.9 757.7,426 757.9,435.1 758.1,452.2 758.4,470 758.6,418.9 758.9,430.2 759.1,444.2 759.3,448 759.6,430.2 759.7,440.9 760.1,430.2 760.3,437.9 760.5,452.2 760.8,448 761,430.2 761.2,432.6 761.4,457.1 761.7,435.1 761.9,430.2 762.2,428 762.4,470 762.6,479.2 762.8,432.6 763.1,426 763.3,452.2 763.5,437.9 763.9,457.1 764,457.1 764.2,428 764.5,426 764.7,457.1 765,448 765.2,424 765.4,444.2 765.7,435.1 765.9,437.9 766.1,462.9 766.4,448 766.6,430.2 766.9,426 767.1,452.2 767.3,470 767.5,417.3 767.7,452.2 768.1,430.2 768.2,452.2 768.6,435.1 768.7,432.6 768.9,462.9 769.2,479.2 769.4,426 769.7,437.9 769.9,462.9 770.1,435.1 770.4,452.2 770.6,479.2 770.8,422.2 771.1,424 771.3,448 771.6,452.2 771.8,432.6 772,428 772.2,452.2 772.5,452.2 772.7,435.1 772.9,479.2 773.3,448 773.4,437.9 773.7,448 773.8,452.2 774.2,479.2 774.4,457.1 774.6,435.1 774.9,432.6 775.1,462.9 775.3,448 775.5,424 775.8,437.9 776,457.1 776.3,462.9 776.5,430.2 776.7,435.1 776.9,457.1 777.2,457.1 777.4,432.6 777.7,428 777.9,470 778.1,435.1 778.4,448 778.6,452.2 778.8,428 779.1,435.1 779.3,452.2 779.6,462.9 779.8,435.1 779.9,444.2 780.3,457.1 780.5,457.1 780.7,440.9 780.9,435.1 781.3,444.2 781.4,452.2 781.6,430.2 781.9,435.1 782.1,462.9 782.4,479.2 782.6,430.2 782.8,426 783,470 783.3,457.1 783.5,432.6 783.7,462.9 784.1,428 784.3,435.1 784.5,479.2 784.7,492.1 784.9,420.5 785.2,435.1 785.4,457.1 785.7,462.9 785.9,420.5 786.1,437.9 786.3,470 786.6,457.1 786.8,428 787.1,440.9 787.3,470 787.5,452.2 787.7,444.2 788,430.2 788.2,457.1 788.5,457.1 788.7,430.2 788.9,457.1 789.2,444.2 789.4,432.6 789.6,452.2 789.9,448 790.1,432.6 790.3,428 790.7,470 790.8,452.2 791,430.2 791.3,428 791.5,479.2 791.8,457.1 792,440.9 792.2,428 792.4,452.2 792.7,452.2 792.9,430.2 793.2,426 793.4,462.9 793.6,470 793.9,435.1 794,426 794.4,492.1 794.5,448 794.9,432.6 795.1,435.1 795.3,457.1" stroke="#cc0a16"/>
</g>
<line x1="796.3" y1="305" x2="796.3" y2="494.2" stroke="#c9a04a" stroke-width="1.6"/>
<rect x="135.7" y="4.7" width="663" height="489.5" fill="none" stroke="#000" stroke-width="1.6"/>
<line x1="184.4" y1="494.2" x2="184.4" y2="506.9" stroke="#000" stroke-width="1.5"/>
<text x="184.4" y="535" font-size="22.6" font-weight="bold" text-anchor="middle" fill="#000">20</text>
<line x1="278.4" y1="494.2" x2="278.4" y2="506.9" stroke="#000" stroke-width="1.5"/>
<text x="278.4" y="535" font-size="22.6" font-weight="bold" text-anchor="middle" fill="#000">30</text>
<line x1="372.4" y1="494.2" x2="372.4" y2="506.9" stroke="#000" stroke-width="1.5"/>
<text x="372.4" y="535" font-size="22.6" font-weight="bold" text-anchor="middle" fill="#000">40</text>
<line x1="466.4" y1="494.2" x2="466.4" y2="506.9" stroke="#000" stroke-width="1.5"/>
<text x="466.4" y="535" font-size="22.6" font-weight="bold" text-anchor="middle" fill="#000">50</text>
<line x1="560.4" y1="494.2" x2="560.4" y2="506.9" stroke="#000" stroke-width="1.5"/>
<text x="560.4" y="535" font-size="22.6" font-weight="bold" text-anchor="middle" fill="#000">60</text>
<line x1="654.4" y1="494.2" x2="654.4" y2="506.9" stroke="#000" stroke-width="1.5"/>
<text x="654.4" y="535" font-size="22.6" font-weight="bold" text-anchor="middle" fill="#000">70</text>
<line x1="748.4" y1="494.2" x2="748.4" y2="506.9" stroke="#000" stroke-width="1.5"/>
<text x="748.4" y="535" font-size="22.6" font-weight="bold" text-anchor="middle" fill="#000">80</text>
<line x1="128.7" y1="492.05" x2="135.7" y2="492.05" stroke="#000" stroke-width="1.4"/>
<line x1="128.7" y1="479.16" x2="135.7" y2="479.16" stroke="#000" stroke-width="1.4"/>
<line x1="128.7" y1="470.02" x2="135.7" y2="470.02" stroke="#000" stroke-width="1.4"/>
<line x1="128.7" y1="462.93" x2="135.7" y2="462.93" stroke="#000" stroke-width="1.4"/>
<line x1="128.7" y1="457.13" x2="135.7" y2="457.13" stroke="#000" stroke-width="1.4"/>
<line x1="128.7" y1="452.24" x2="135.7" y2="452.24" stroke="#000" stroke-width="1.4"/>
<line x1="128.7" y1="447.99" x2="135.7" y2="447.99" stroke="#000" stroke-width="1.4"/>
<line x1="128.7" y1="444.25" x2="135.7" y2="444.25" stroke="#000" stroke-width="1.4"/>
<line x1="122.4" y1="440.9" x2="135.7" y2="440.9" stroke="#000" stroke-width="1.4"/>
<line x1="128.7" y1="418.87" x2="135.7" y2="418.87" stroke="#000" stroke-width="1.4"/>
<line x1="128.7" y1="405.98" x2="135.7" y2="405.98" stroke="#000" stroke-width="1.4"/>
<line x1="128.7" y1="396.84" x2="135.7" y2="396.84" stroke="#000" stroke-width="1.4"/>
<line x1="128.7" y1="389.75" x2="135.7" y2="389.75" stroke="#000" stroke-width="1.4"/>
<line x1="128.7" y1="383.95" x2="135.7" y2="383.95" stroke="#000" stroke-width="1.4"/>
<line x1="128.7" y1="379.06" x2="135.7" y2="379.06" stroke="#000" stroke-width="1.4"/>
<line x1="128.7" y1="374.81" x2="135.7" y2="374.81" stroke="#000" stroke-width="1.4"/>
<line x1="128.7" y1="371.07" x2="135.7" y2="371.07" stroke="#000" stroke-width="1.4"/>
<text x="77.2" y="454.8" font-size="23" font-weight="bold">10<tspan font-size="16.2" dy="-16" dx="0.4">1</tspan></text>
<line x1="122.4" y1="367.72" x2="135.7" y2="367.72" stroke="#000" stroke-width="1.4"/>
<line x1="128.7" y1="345.69" x2="135.7" y2="345.69" stroke="#000" stroke-width="1.4"/>
<line x1="128.7" y1="332.8" x2="135.7" y2="332.8" stroke="#000" stroke-width="1.4"/>
<line x1="128.7" y1="323.66" x2="135.7" y2="323.66" stroke="#000" stroke-width="1.4"/>
<line x1="128.7" y1="316.57" x2="135.7" y2="316.57" stroke="#000" stroke-width="1.4"/>
<line x1="128.7" y1="310.77" x2="135.7" y2="310.77" stroke="#000" stroke-width="1.4"/>
<line x1="128.7" y1="305.88" x2="135.7" y2="305.88" stroke="#000" stroke-width="1.4"/>
<line x1="128.7" y1="301.63" x2="135.7" y2="301.63" stroke="#000" stroke-width="1.4"/>
<line x1="128.7" y1="297.89" x2="135.7" y2="297.89" stroke="#000" stroke-width="1.4"/>
<text x="77.2" y="381.62" font-size="23" font-weight="bold">10<tspan font-size="16.2" dy="-16" dx="0.4">2</tspan></text>
<line x1="122.4" y1="294.54" x2="135.7" y2="294.54" stroke="#000" stroke-width="1.4"/>
<line x1="128.7" y1="272.51" x2="135.7" y2="272.51" stroke="#000" stroke-width="1.4"/>
<line x1="128.7" y1="259.62" x2="135.7" y2="259.62" stroke="#000" stroke-width="1.4"/>
<line x1="128.7" y1="250.48" x2="135.7" y2="250.48" stroke="#000" stroke-width="1.4"/>
<line x1="128.7" y1="243.39" x2="135.7" y2="243.39" stroke="#000" stroke-width="1.4"/>
<line x1="128.7" y1="237.59" x2="135.7" y2="237.59" stroke="#000" stroke-width="1.4"/>
<line x1="128.7" y1="232.7" x2="135.7" y2="232.7" stroke="#000" stroke-width="1.4"/>
<line x1="128.7" y1="228.45" x2="135.7" y2="228.45" stroke="#000" stroke-width="1.4"/>
<line x1="128.7" y1="224.71" x2="135.7" y2="224.71" stroke="#000" stroke-width="1.4"/>
<text x="77.2" y="308.44" font-size="23" font-weight="bold">10<tspan font-size="16.2" dy="-16" dx="0.4">3</tspan></text>
<line x1="122.4" y1="221.36" x2="135.7" y2="221.36" stroke="#000" stroke-width="1.4"/>
<line x1="128.7" y1="199.33" x2="135.7" y2="199.33" stroke="#000" stroke-width="1.4"/>
<line x1="128.7" y1="186.44" x2="135.7" y2="186.44" stroke="#000" stroke-width="1.4"/>
<line x1="128.7" y1="177.3" x2="135.7" y2="177.3" stroke="#000" stroke-width="1.4"/>
<line x1="128.7" y1="170.21" x2="135.7" y2="170.21" stroke="#000" stroke-width="1.4"/>
<line x1="128.7" y1="164.41" x2="135.7" y2="164.41" stroke="#000" stroke-width="1.4"/>
<line x1="128.7" y1="159.52" x2="135.7" y2="159.52" stroke="#000" stroke-width="1.4"/>
<line x1="128.7" y1="155.27" x2="135.7" y2="155.27" stroke="#000" stroke-width="1.4"/>
<line x1="128.7" y1="151.53" x2="135.7" y2="151.53" stroke="#000" stroke-width="1.4"/>
<text x="77.2" y="235.26" font-size="23" font-weight="bold">10<tspan font-size="16.2" dy="-16" dx="0.4">4</tspan></text>
<line x1="122.4" y1="148.18" x2="135.7" y2="148.18" stroke="#000" stroke-width="1.4"/>
<line x1="128.7" y1="126.15" x2="135.7" y2="126.15" stroke="#000" stroke-width="1.4"/>
<line x1="128.7" y1="113.26" x2="135.7" y2="113.26" stroke="#000" stroke-width="1.4"/>
<line x1="128.7" y1="104.12" x2="135.7" y2="104.12" stroke="#000" stroke-width="1.4"/>
<line x1="128.7" y1="97.03" x2="135.7" y2="97.03" stroke="#000" stroke-width="1.4"/>
<line x1="128.7" y1="91.23" x2="135.7" y2="91.23" stroke="#000" stroke-width="1.4"/>
<line x1="128.7" y1="86.34" x2="135.7" y2="86.34" stroke="#000" stroke-width="1.4"/>
<line x1="128.7" y1="82.09" x2="135.7" y2="82.09" stroke="#000" stroke-width="1.4"/>
<line x1="128.7" y1="78.35" x2="135.7" y2="78.35" stroke="#000" stroke-width="1.4"/>
<text x="77.2" y="162.08" font-size="23" font-weight="bold">10<tspan font-size="16.2" dy="-16" dx="0.4">5</tspan></text>
<line x1="122.4" y1="75" x2="135.7" y2="75" stroke="#000" stroke-width="1.4"/>
<line x1="128.7" y1="52.97" x2="135.7" y2="52.97" stroke="#000" stroke-width="1.4"/>
<line x1="128.7" y1="40.08" x2="135.7" y2="40.08" stroke="#000" stroke-width="1.4"/>
<line x1="128.7" y1="30.94" x2="135.7" y2="30.94" stroke="#000" stroke-width="1.4"/>
<line x1="128.7" y1="23.85" x2="135.7" y2="23.85" stroke="#000" stroke-width="1.4"/>
<line x1="128.7" y1="18.05" x2="135.7" y2="18.05" stroke="#000" stroke-width="1.4"/>
<line x1="128.7" y1="13.16" x2="135.7" y2="13.16" stroke="#000" stroke-width="1.4"/>
<line x1="128.7" y1="8.91" x2="135.7" y2="8.91" stroke="#000" stroke-width="1.4"/>
<text x="77.2" y="88.9" font-size="23" font-weight="bold">10<tspan font-size="16.2" dy="-16" dx="0.4">6</tspan></text>
<text x="41.5" y="351" font-size="22.6" font-weight="bold" text-anchor="start" fill="#000" transform="rotate(-90 41.5 351)">Counts (arb. units)</text>
<text x="399" y="564.6" font-size="23.1" font-weight="bold">2<tspan font-family="'Liberation Serif', serif" font-weight="normal" font-size="24">θ</tspan> (degrees)</text>
<text x="2.5" y="32.4" font-size="39" font-weight="bold" text-anchor="start" fill="#000">(a)</text>
<text x="137.6" y="139.8" font-size="18" font-weight="bold" text-anchor="start" fill="#000">(iii)</text>
<text x="137.6" y="239.3" font-size="18" font-weight="bold" text-anchor="start" fill="#000">(ii)</text>
<text x="137.6" y="354.8" font-size="18" font-weight="bold" text-anchor="start" fill="#000">(i)</text>
<text x="276.7" y="86" font-size="17" font-weight="bold" text-anchor="start" fill="#000" transform="rotate(-90 276.7 86)" letter-spacing="0.45">TiO<tspan font-size="10.5" dy="4.6">2</tspan><tspan dy="-4.6">(110)</tspan></text>
<text x="325.9" y="122.8" font-size="17" font-weight="bold" text-anchor="start" fill="#000" transform="rotate(-90 325.9 122.8)" letter-spacing="0.45">LTO(020) /</text>
<text x="346.1" y="122.8" font-size="17" font-weight="bold" text-anchor="start" fill="#000" transform="rotate(-90 346.1 122.8)" letter-spacing="0.45">La<tspan font-size="10.5" dy="4.6">2/3</tspan><tspan dy="-4.6">TiO</tspan><tspan font-size="10.5" dy="4.6">3</tspan><tspan dy="-4.6">(102)</tspan></text>
<text x="446.5" y="174.5" font-size="17" font-weight="bold" text-anchor="start" fill="#000" transform="rotate(-90 446.5 174.5)" letter-spacing="0.45">La<tspan font-size="10.5" dy="4.6">2/3</tspan><tspan dy="-4.6">TiO</tspan><tspan font-size="10.5" dy="4.6">3</tspan><tspan dy="-4.6">(020)</tspan></text>
<text x="550.3" y="82.5" font-size="17" font-weight="bold" text-anchor="start" fill="#000" transform="rotate(-90 550.3 82.5)" letter-spacing="0.45">TiO<tspan font-size="10.5" dy="4.6">2</tspan><tspan dy="-4.6">(220)</tspan></text>
<text x="666.8" y="121" font-size="17" font-weight="bold" text-anchor="start" fill="#000" transform="rotate(-90 666.8 121)" letter-spacing="0.45">LTO(040) /</text>
<text x="687" y="121" font-size="17" font-weight="bold" text-anchor="start" fill="#000" transform="rotate(-90 687 121)" letter-spacing="0.45">La<tspan font-size="10.5" dy="4.6">2/3</tspan><tspan dy="-4.6">TiO</tspan><tspan font-size="10.5" dy="4.6">3</tspan><tspan dy="-4.6">(204)</tspan></text>
<text x="236.2" y="316.3" font-size="17.5" font-weight="bold" text-anchor="start" fill="#cc0a16" transform="rotate(-90 236.2 316.3)">(002)</text>
<text x="217" y="334" font-size="24" font-weight="bold" text-anchor="start" fill="#cc0a16">*</text>
<text x="365.7" y="343.8" font-size="17.5" font-weight="bold" text-anchor="start" fill="#cc0a16" transform="rotate(-90 365.7 343.8)">(003)</text>
<text x="348" y="363" font-size="24" font-weight="bold" text-anchor="start" fill="#cc0a16">*</text>
<text x="513.5" y="377.1" font-size="17.5" font-weight="bold" text-anchor="start" fill="#cc0a16" transform="rotate(-90 513.5 377.1)">(004)</text>
<text x="495" y="393.7" font-size="24" font-weight="bold" text-anchor="start" fill="#cc0a16">*</text>
<text x="657" y="386.8" font-size="17.5" font-weight="bold" text-anchor="start" fill="#cc0a16" transform="rotate(-90 657 386.8)">(005)</text>
<text x="639.7" y="405.8" font-size="24" font-weight="bold" text-anchor="start" fill="#cc0a16">*</text>
<text x="324" y="248.1" font-size="19" font-weight="bold" text-anchor="middle" fill="#c98a12" stroke="#c98a12" stroke-width="1.0">+</text>
<text x="393.5" y="235.6" font-size="19" font-weight="bold" text-anchor="middle" fill="#c98a12" stroke="#c98a12" stroke-width="1.0">+</text>
<text x="464.5" y="275.1" font-size="19" font-weight="bold" text-anchor="middle" fill="#c98a12" stroke="#c98a12" stroke-width="1.0">+</text>
<text x="545.5" y="256.6" font-size="19" font-weight="bold" text-anchor="middle" fill="#c98a12" stroke="#c98a12" stroke-width="1.0">+</text>
<text x="609" y="273.6" font-size="19" font-weight="bold" text-anchor="middle" fill="#c98a12" stroke="#c98a12" stroke-width="1.0">+</text>
<text x="688.5" y="278.1" font-size="19" font-weight="bold" text-anchor="middle" fill="#c98a12" stroke="#c98a12" stroke-width="1.0">+</text>
<text x="770.5" y="296.6" font-size="19" font-weight="bold" text-anchor="middle" fill="#c98a12" stroke="#c98a12" stroke-width="1.0">+</text>
<path d="M973.9,489 976.5,487.2 979.5,488.2 982.4,487.5 987,482 993,476.2 998,471.5 1002,466 1005.8,463.3 1010,461 1016,457.5 1024.9,451.8 1032,448 1036,445.2 1040,443.5 1046,439.1 1052,434 1057,429.5 1063,424.2 1067,421.5 1070,419.5 1072.6,415.8 1075,411 1076.8,405.2 1078,395 1079,380 1079.8,350 1080.8,299 1082,215 1083.3,126 1084.2,75 1084.9,52 1085.8,45.3 1086.6,52 1087.2,80 1087.8,126 1088.8,215 1089.8,299 1090.5,350 1091.2,378 1092.2,390 1093.8,398.8 1095.5,402.8 1097,404.1 1100,403.8 1103.3,402.6 1108,399.5 1111,398.2 1114,395.6 1120,392 1123,391 1126.7,388.2 1132,385 1136,383.5 1140,380.5 1143.6,379.3 1148,375 1152,371 1156.4,367 1161,364.5 1165,361 1169,359.5 1173.3,357.4 1176,355 1178,352 1179.7,347.9 1180.8,341 1181.8,333 1183,325.5 1184.4,322.2 1185.6,325.5 1186.6,332 1187.5,339 1188.8,344.1 1190.5,342.5 1193,339 1195.5,336.5 1197.5,337.1 1199.3,338.8 1202,336.5 1206,334 1210,331.5 1215,326.6 1220,324.5 1224,322.5 1228,319 1232.6,316.9 1237,314.5 1241,310 1245,306 1250.1,301.2 1254,300.6 1257,301.8 1260.6,302.1 1264,299 1268,295 1272,291 1274.6,288.9 1276.5,286.6 1278.1,287.2 1281,286 1285.1,283.7 1288,280.5 1291.2,274.9 1293,267 1294.8,253.9 1296,235 1297.4,212 1298.7,200 1300,196 1301.3,200 1302.6,212 1303.7,230 1304.7,245.1 1305.8,256 1307,262.6 1308.5,265.2 1310.5,266.1 1313,265 1316,262 1318.4,260.9 1320,261.5 1322,259.5 1324.5,258 1327.2,256.5 1330,257.6 1332,259 1334.2,259.1 1337,256.5 1340,253 1342.9,250.4 1346,249 1350,247 1355.2,244.2 1358,241.8 1360,242.4 1364,239.9 1367,237 1369,234 1371,233.2 1372.7,232 1376,229.5 1379,227 1381,224.5 1383.2,225 1386,226.2 1390.2,225.8 1393,223 1395,220.5 1397.2,219.7 1399.5,218.2 1401.6,217.1 1402.8,212 1403.6,203 1404.4,190 1405.3,165 1406.3,140 1407.2,126 1407.9,122.6 1408.6,126 1409.5,145 1410.5,172 1411.3,188 1412,195 1412.8,193 1414,190.5 1415.2,194 1416.5,201 1417.9,205.8 1420,208.2 1422.6,209 1425.5,207.3 1428.5,204.7 1431,205.6 1434,202.5 1438,199 1443,196 1449.7,191 1455,188 1460,185 1464.6,182.4 1467,180 1469,181.2 1471,179.3 1475,175.5 1479.4,169.7 1482,163.5 1483.7,157 1485.2,142 1486.8,112 1488.2,80 1489.6,58 1490.8,48.5 1492.1,45.6 1493.3,47.5 1494.5,55 1495.8,78 1497.4,116.7 1499,138 1500.6,148.5 1502.5,153.5 1504.9,155.9 1507.5,154 1510,150.5 1512,149.5 1513.3,148.5 1516,149.3 1519,146.5 1522,147 1526,143.5 1530,139.5 1534.6,135.8 1540,131.5 1546,127 1551,122.5 1555.8,118.8 1559,115 1562,116.3 1566,112.5 1571,109 1577,106.1 1582,103 1586,99 1590,96.5 1594,97.3 1598.2,93.3 1602,92.8 1605,90.5 1608,91.5 1611,88.6 1615.2,89.1 1618,86 1620.5,83.8" fill="none" stroke="#0f8c48" stroke-width="2.7" stroke-linejoin="round" stroke-linecap="round"/>
<rect x="947.8" y="4.5" width="675.9" height="488.1" fill="none" stroke="#000" stroke-width="1.6"/>
<line x1="1095" y1="492.6" x2="1095" y2="504.9" stroke="#000" stroke-width="1.5"/>
<text x="1095" y="534.2" font-size="22.6" font-weight="bold" text-anchor="middle" fill="#000">50</text>
<line x1="1271.5" y1="492.6" x2="1271.5" y2="504.9" stroke="#000" stroke-width="1.5"/>
<text x="1271.5" y="534.2" font-size="22.6" font-weight="bold" text-anchor="middle" fill="#000">60</text>
<line x1="1448" y1="492.6" x2="1448" y2="504.9" stroke="#000" stroke-width="1.5"/>
<text x="1448" y="534.2" font-size="22.6" font-weight="bold" text-anchor="middle" fill="#000">70</text>
<line x1="935.6" y1="441.5" x2="947.8" y2="441.5" stroke="#000" stroke-width="1.5"/>
<text x="929.2" y="448.8" font-size="23.2" font-weight="bold" text-anchor="end" fill="#000">160</text>
<line x1="935.6" y1="377.8" x2="947.8" y2="377.8" stroke="#000" stroke-width="1.5"/>
<text x="929.2" y="385.1" font-size="23.2" font-weight="bold" text-anchor="end" fill="#000">180</text>
<line x1="935.6" y1="314.1" x2="947.8" y2="314.1" stroke="#000" stroke-width="1.5"/>
<text x="929.2" y="321.4" font-size="23.2" font-weight="bold" text-anchor="end" fill="#000">200</text>
<line x1="935.6" y1="250.4" x2="947.8" y2="250.4" stroke="#000" stroke-width="1.5"/>
<text x="929.2" y="257.7" font-size="23.2" font-weight="bold" text-anchor="end" fill="#000">220</text>
<line x1="935.6" y1="186.7" x2="947.8" y2="186.7" stroke="#000" stroke-width="1.5"/>
<text x="929.2" y="194" font-size="23.2" font-weight="bold" text-anchor="end" fill="#000">240</text>
<line x1="935.6" y1="123" x2="947.8" y2="123" stroke="#000" stroke-width="1.5"/>
<text x="929.2" y="130.3" font-size="23.2" font-weight="bold" text-anchor="end" fill="#000">260</text>
<line x1="935.6" y1="59.3" x2="947.8" y2="59.3" stroke="#000" stroke-width="1.5"/>
<text x="929.2" y="66.6" font-size="23.2" font-weight="bold" text-anchor="end" fill="#000">280</text>
<text x="867.5" y="351" font-size="22.6" font-weight="bold" text-anchor="start" fill="#000" transform="rotate(-90 867.5 351)">Counts (arb. units)</text>
<text x="1218.6" y="565.8" font-size="23.1" font-weight="bold">2<tspan font-family="'Liberation Serif', serif" font-weight="normal" font-size="24">θ</tspan> (degrees)</text>
<text x="823" y="32.4" font-size="39" font-weight="bold" text-anchor="start" fill="#000">(b)</text>
<text x="1071" y="120.5" font-size="17" font-weight="bold" text-anchor="start" fill="#000" transform="rotate(-90 1071 120.5)" letter-spacing="0.45">La<tspan font-size="10.5" dy="4.6">2/3</tspan><tspan dy="-4.6">TiO</tspan><tspan font-size="10.5" dy="4.6">3</tspan><tspan dy="-4.6">(102)</tspan></text>
<text x="1189.5" y="309.5" font-size="17" font-weight="bold" text-anchor="start" fill="#000" transform="rotate(-90 1189.5 309.5)" letter-spacing="0.45">TiO<tspan font-size="10.5" dy="4.6">2</tspan><tspan dy="-4.6">(101)</tspan></text>
<text x="1305.9" y="194.5" font-size="17" font-weight="bold" text-anchor="start" fill="#000" transform="rotate(-90 1305.9 194.5)" letter-spacing="0.45">La<tspan font-size="10.5" dy="4.6">2/3</tspan><tspan dy="-4.6">TiO</tspan><tspan font-size="10.5" dy="4.6">3</tspan><tspan dy="-4.6">(112)</tspan></text>
<text x="1415.8" y="118.2" font-size="17" font-weight="bold" text-anchor="start" fill="#000" transform="rotate(-90 1415.8 118.2)" letter-spacing="0.45">TiO<tspan font-size="10.5" dy="4.6">2</tspan><tspan dy="-4.6">(210)</tspan></text>
<text x="1478.3" y="122.5" font-size="17" font-weight="bold" text-anchor="start" fill="#000" transform="rotate(-90 1478.3 122.5)" letter-spacing="0.45">La<tspan font-size="10.5" dy="4.6">2/3</tspan><tspan dy="-4.6">TiO</tspan><tspan font-size="10.5" dy="4.6">3</tspan><tspan dy="-4.6">(020)</tspan></text>
<text x="1006.8" y="446.8" font-size="25" font-weight="bold" text-anchor="middle" stroke="#000" stroke-width="0.5">+</text>
<text x="1070.5" y="404.5" font-size="25" font-weight="bold" text-anchor="middle" stroke="#000" stroke-width="0.5">+</text>
<text x="1093.8" y="384.2" font-size="25" font-weight="bold" text-anchor="middle" stroke="#000" stroke-width="0.5">+</text>
<text x="1287.6" y="258.3" font-size="25" font-weight="bold" text-anchor="middle" stroke="#000" stroke-width="0.5">+</text>
<text x="1356.2" y="224.9" font-size="25" font-weight="bold" text-anchor="middle" stroke="#000" stroke-width="0.5">+</text>
<text x="1372.7" y="214.5" font-size="25" font-weight="bold" text-anchor="middle" stroke="#000" stroke-width="0.5">+</text>
<text x="1394.3" y="204.8" font-size="25" font-weight="bold" text-anchor="middle" stroke="#000" stroke-width="0.5">+</text>
<text x="1476.9" y="157.4" font-size="25" font-weight="bold" text-anchor="middle" stroke="#000" stroke-width="0.5">+</text>
<text x="1498.5" y="140.9" font-size="25" font-weight="bold" text-anchor="middle" stroke="#000" stroke-width="0.5">+</text>
<text x="1527.8" y="123.5" font-size="25" font-weight="bold" text-anchor="middle" stroke="#000" stroke-width="0.5">+</text>
<g fill="none" stroke="#c0c0c0" stroke-width="1.1" stroke-dasharray="2.4 2.4"><circle cx="360.8" cy="943.1" r="20.71"/><circle cx="360.8" cy="943.1" r="62.12"/><circle cx="360.8" cy="943.1" r="103.54"/><circle cx="360.8" cy="943.1" r="144.96"/><circle cx="360.8" cy="943.1" r="186.38"/><circle cx="360.8" cy="943.1" r="227.79"/><line x1="366.16" y1="923.1" x2="425.12" y2="703.07"/><line x1="375.44" y1="928.46" x2="536.52" y2="767.38"/><line x1="380.8" y1="937.74" x2="600.83" y2="878.78"/><line x1="380.8" y1="948.46" x2="600.83" y2="1007.42"/><line x1="375.44" y1="957.74" x2="536.52" y2="1118.82"/><line x1="366.16" y1="963.1" x2="425.12" y2="1183.13"/><line x1="355.44" y1="963.1" x2="296.48" y2="1183.13"/><line x1="346.16" y1="957.74" x2="185.08" y2="1118.82"/><line x1="340.8" y1="948.46" x2="120.77" y2="1007.42"/><line x1="340.8" y1="937.74" x2="120.77" y2="878.78"/><line x1="346.16" y1="928.46" x2="185.08" y2="767.38"/><line x1="355.44" y1="923.1" x2="296.48" y2="703.07"/></g>
<circle cx="360.8" cy="943.1" r="105.5" fill="#c3c3c3"/>
<polygon points="210.4,866.8 212.2,866.2 212.4,870.6 210.6,870.2" fill="#0000c8"/>
<polygon points="213.2,867.2 216.0,864.2 219.6,864.0 221.2,866.8 220.4,870.4 217.4,873.0 213.8,873.2 212.6,870.6" fill="#ff0000"/>
<ellipse cx="507.8" cy="885.9" rx="3.4" ry="5.8" fill="#0030e0" transform="rotate(-18 507.8 885.9)"/>
<polygon points="508.6,889 510.6,892.6 509.4,892.4 507.2,890" fill="#0020d0"/>
<ellipse cx="507.9" cy="885.6" rx="2.5" ry="4.2" fill="#00b0ff" transform="rotate(-18 507.9 885.6)"/>
<ellipse cx="507.9" cy="885.4" rx="1.7" ry="3.0" fill="#20f060" transform="rotate(-18 507.9 885.4)"/>
<polygon points="207.4,995.4 210.8,994 213.2,998.6 212.6,1001.2 209.4,999.6" fill="#0000e0"/>
<ellipse cx="207.6" cy="1001.2" rx="2.9" ry="4.9" fill="#20c060" transform="rotate(-25 207.6 1001.2)"/>
<ellipse cx="207.5" cy="1001" rx="1.9" ry="3.6" fill="#e02000" transform="rotate(-25 207.5 1001)"/>
<ellipse cx="503.8" cy="1018.2" rx="2.9" ry="4.4" fill="#0000e0" transform="rotate(10 503.8 1018.2)"/>
<polygon points="496.4,1019.4 498.2,1015.2 501.6,1014.2 502.4,1022.2 499.2,1023.4 497.6,1021.6" fill="#ff0000"/>
<g fill="none" stroke="#6a6a6a" stroke-width="1"><circle cx="360.8" cy="943.1" r="41.42"/><circle cx="360.8" cy="943.1" r="82.83"/><circle cx="360.8" cy="943.1" r="124.25"/><circle cx="360.8" cy="943.1" r="165.67"/><circle cx="360.8" cy="943.1" r="207.08"/><line x1="360.8" y1="922.39" x2="360.8" y2="694.6"/><line x1="371.15" y1="925.17" x2="485.05" y2="727.89"/><line x1="378.73" y1="932.75" x2="576.01" y2="818.85"/><line x1="381.51" y1="943.1" x2="609.3" y2="943.1"/><line x1="378.73" y1="953.45" x2="576.01" y2="1067.35"/><line x1="371.15" y1="961.03" x2="485.05" y2="1158.31"/><line x1="360.8" y1="963.81" x2="360.8" y2="1191.6"/><line x1="350.45" y1="961.03" x2="236.55" y2="1158.31"/><line x1="342.87" y1="953.45" x2="145.59" y2="1067.35"/><line x1="340.09" y1="943.1" x2="112.3" y2="943.1"/><line x1="342.87" y1="932.75" x2="145.59" y2="818.85"/><line x1="350.45" y1="925.17" x2="236.55" y2="727.89"/></g>
<circle cx="360.8" cy="943.1" r="248.5" fill="none" stroke="#222" stroke-width="1"/>
<line x1="63.2" y1="693.6" x2="63.2" y2="1192.6" stroke="#000" stroke-width="2.1"/>
<line x1="52.4" y1="694.6" x2="63.2" y2="694.6" stroke="#000" stroke-width="1.9"/>
<text x="47" y="703.7" font-size="25" font-weight="bold" text-anchor="end" fill="#000">60</text>
<line x1="57.2" y1="715.31" x2="63.2" y2="715.31" stroke="#000" stroke-width="1.9"/>
<line x1="52.4" y1="736.02" x2="63.2" y2="736.02" stroke="#000" stroke-width="1.9"/>
<text x="47" y="745.12" font-size="25" font-weight="bold" text-anchor="end" fill="#000">50</text>
<line x1="57.2" y1="756.73" x2="63.2" y2="756.73" stroke="#000" stroke-width="1.9"/>
<line x1="52.4" y1="777.43" x2="63.2" y2="777.43" stroke="#000" stroke-width="1.9"/>
<text x="47" y="786.53" font-size="25" font-weight="bold" text-anchor="end" fill="#000">40</text>
<line x1="57.2" y1="798.14" x2="63.2" y2="798.14" stroke="#000" stroke-width="1.9"/>
<line x1="52.4" y1="818.85" x2="63.2" y2="818.85" stroke="#000" stroke-width="1.9"/>
<text x="47" y="827.95" font-size="25" font-weight="bold" text-anchor="end" fill="#000">30</text>
<line x1="57.2" y1="839.56" x2="63.2" y2="839.56" stroke="#000" stroke-width="1.9"/>
<line x1="52.4" y1="860.27" x2="63.2" y2="860.27" stroke="#000" stroke-width="1.9"/>
<text x="47" y="869.37" font-size="25" font-weight="bold" text-anchor="end" fill="#000">20</text>
<line x1="57.2" y1="880.98" x2="63.2" y2="880.98" stroke="#000" stroke-width="1.9"/>
<line x1="52.4" y1="901.68" x2="63.2" y2="901.68" stroke="#000" stroke-width="1.9"/>
<text x="47" y="910.78" font-size="25" font-weight="bold" text-anchor="end" fill="#000">10</text>
<line x1="57.2" y1="922.39" x2="63.2" y2="922.39" stroke="#000" stroke-width="1.9"/>
<line x1="52.4" y1="943.1" x2="63.2" y2="943.1" stroke="#000" stroke-width="1.9"/>
<text x="47" y="952.2" font-size="25" font-weight="bold" text-anchor="end" fill="#000">0</text>
<line x1="57.2" y1="963.81" x2="63.2" y2="963.81" stroke="#000" stroke-width="1.9"/>
<line x1="52.4" y1="984.52" x2="63.2" y2="984.52" stroke="#000" stroke-width="1.9"/>
<text x="47" y="993.62" font-size="25" font-weight="bold" text-anchor="end" fill="#000">10</text>
<line x1="57.2" y1="1005.23" x2="63.2" y2="1005.23" stroke="#000" stroke-width="1.9"/>
<line x1="52.4" y1="1025.93" x2="63.2" y2="1025.93" stroke="#000" stroke-width="1.9"/>
<text x="47" y="1035.03" font-size="25" font-weight="bold" text-anchor="end" fill="#000">20</text>
<line x1="57.2" y1="1046.64" x2="63.2" y2="1046.64" stroke="#000" stroke-width="1.9"/>
<line x1="52.4" y1="1067.35" x2="63.2" y2="1067.35" stroke="#000" stroke-width="1.9"/>
<text x="47" y="1076.45" font-size="25" font-weight="bold" text-anchor="end" fill="#000">30</text>
<line x1="57.2" y1="1088.06" x2="63.2" y2="1088.06" stroke="#000" stroke-width="1.9"/>
<line x1="52.4" y1="1108.77" x2="63.2" y2="1108.77" stroke="#000" stroke-width="1.9"/>
<text x="47" y="1117.87" font-size="25" font-weight="bold" text-anchor="end" fill="#000">40</text>
<line x1="57.2" y1="1129.47" x2="63.2" y2="1129.47" stroke="#000" stroke-width="1.9"/>
<line x1="52.4" y1="1150.18" x2="63.2" y2="1150.18" stroke="#000" stroke-width="1.9"/>
<text x="47" y="1159.28" font-size="25" font-weight="bold" text-anchor="end" fill="#000">50</text>
<line x1="57.2" y1="1170.89" x2="63.2" y2="1170.89" stroke="#000" stroke-width="1.9"/>
<line x1="52.4" y1="1191.6" x2="63.2" y2="1191.6" stroke="#000" stroke-width="1.9"/>
<text x="47" y="1200.7" font-size="25" font-weight="bold" text-anchor="end" fill="#000">60</text>
<text x="360.8" y="678.2" font-size="25" font-weight="bold" text-anchor="middle" fill="#000">0</text>
<text x="503.9" y="713.7" font-size="25" font-weight="bold" text-anchor="middle" fill="#000">30</text>
<text x="598.6" y="808.4" font-size="25" font-weight="bold" text-anchor="middle" fill="#000">60</text>
<text x="632.6" y="951.7" font-size="25" font-weight="bold" text-anchor="middle" fill="#000">90</text>
<text x="605.7" y="1096" font-size="25" font-weight="bold" text-anchor="middle" fill="#000">120</text>
<text x="511.5" y="1190.8" font-size="25" font-weight="bold" text-anchor="middle" fill="#000">150</text>
<text x="360.8" y="1226.2" font-size="25" font-weight="bold" text-anchor="middle" fill="#000">180</text>
<text x="210.2" y="1190.8" font-size="25" font-weight="bold" text-anchor="middle" fill="#000">210</text>
<text x="115.5" y="1096" font-size="25" font-weight="bold" text-anchor="middle" fill="#000">240</text>
<text x="81" y="951.7" font-size="25" font-weight="bold" text-anchor="middle" fill="#000">270</text>
<text x="115.5" y="808.4" font-size="25" font-weight="bold" text-anchor="middle" fill="#000">300</text>
<text x="210.2" y="713.7" font-size="25" font-weight="bold" text-anchor="middle" fill="#000">330</text>
<g shape-rendering="crispEdges">
<rect x="681.9" y="965.66" width="46" height="16.44" fill="#ffffff"/>
<rect x="681.9" y="949.52" width="46" height="16.44" fill="#0000ff"/>
<rect x="681.9" y="933.38" width="46" height="16.44" fill="#0055ff"/>
<rect x="681.9" y="917.24" width="46" height="16.44" fill="#00aaff"/>
<rect x="681.9" y="901.09" width="46" height="16.44" fill="#00ffff"/>
<rect x="681.9" y="884.95" width="46" height="16.44" fill="#00ffc0"/>
<rect x="681.9" y="868.81" width="46" height="16.44" fill="#00f080"/>
<rect x="681.9" y="852.67" width="46" height="16.44" fill="#00f040"/>
<rect x="681.9" y="836.53" width="46" height="16.44" fill="#00f000"/>
<rect x="681.9" y="820.39" width="46" height="16.44" fill="#55f000"/>
<rect x="681.9" y="804.25" width="46" height="16.44" fill="#aaff00"/>
<rect x="681.9" y="788.11" width="46" height="16.44" fill="#ffff00"/>
<rect x="681.9" y="771.96" width="46" height="16.44" fill="#ffc000"/>
<rect x="681.9" y="755.82" width="46" height="16.44" fill="#ff8000"/>
<rect x="681.9" y="739.68" width="46" height="16.44" fill="#ff4500"/>
<rect x="681.9" y="723.54" width="46" height="16.44" fill="#ff0000"/>
<rect x="681.9" y="707.4" width="46" height="16.44" fill="#ff0000"/>
</g>
<rect x="681.9" y="707.4" width="46" height="274.4" fill="none" stroke="#000" stroke-width="1.5"/>
<line x1="727.9" y1="723.7" x2="737.5" y2="723.7" stroke="#000" stroke-width="1.8"/>
<text x="746.1" y="732.3" font-size="25" font-weight="normal" text-anchor="start" fill="#000">5000</text>
<line x1="727.9" y1="965.4" x2="737.5" y2="965.4" stroke="#000" stroke-width="1.8"/>
<text x="746.1" y="974" font-size="25" font-weight="normal" text-anchor="start" fill="#000">10</text>
<text x="762.5" y="660.8" font-size="32.1" font-weight="bold" text-anchor="end" fill="#000">Rutile (211)</text>
<text x="2.5" y="658.8" font-size="37.6" font-weight="bold" text-anchor="start" fill="#000">(c)</text>
<g fill="none" stroke="#c0c0c0" stroke-width="1.1" stroke-dasharray="2.52 2.52"><circle cx="1223.6" cy="954.8" r="21.71"/><circle cx="1223.6" cy="954.8" r="65.12"/><circle cx="1223.6" cy="954.8" r="108.54"/><circle cx="1223.6" cy="954.8" r="151.96"/><circle cx="1223.6" cy="954.8" r="195.38"/><circle cx="1223.6" cy="954.8" r="238.79"/><line x1="1229.22" y1="933.83" x2="1291.02" y2="703.18"/><line x1="1238.95" y1="939.45" x2="1407.8" y2="770.6"/><line x1="1244.57" y1="949.18" x2="1475.22" y2="887.38"/><line x1="1244.57" y1="960.42" x2="1475.22" y2="1022.22"/><line x1="1238.95" y1="970.15" x2="1407.8" y2="1139"/><line x1="1229.22" y1="975.77" x2="1291.02" y2="1206.42"/><line x1="1217.98" y1="975.77" x2="1156.18" y2="1206.42"/><line x1="1208.25" y1="970.15" x2="1039.4" y2="1139"/><line x1="1202.63" y1="960.42" x2="971.98" y2="1022.22"/><line x1="1202.63" y1="949.18" x2="971.98" y2="887.38"/><line x1="1208.25" y1="939.45" x2="1039.4" y2="770.6"/><line x1="1217.98" y1="933.83" x2="1156.18" y2="703.18"/></g>
<path d="M1274.4,1209.0 1268.8,1209.3 1265.8,1210.6 1273.1,1209.6ZM1174.4,1208.0 1179.4,1209.6 1188.1,1211.0 1193.4,1212.6 1199.8,1213.3 1221.8,1214.3 1224.4,1212.6 1217.1,1211.6 1210.1,1211.6 1209.8,1211.3 1204.8,1211.3 1197.1,1210.3 1193.4,1210.3 1179.1,1208.0ZM1137.1,1199.3 1149.4,1203.3 1146.4,1200.6 1142.4,1199.0 1138.4,1198.6ZM1352.8,1179.6 1350.1,1179.6 1345.8,1181.3 1343.1,1183.0 1340.8,1185.3 1340.1,1186.6 1350.4,1181.3ZM1073.8,1166.6 1083.4,1173.3 1086.1,1174.6 1085.1,1172.6 1081.8,1169.6 1077.1,1167.3ZM1404.8,1140.6 1403.1,1141.0 1399.4,1143.3 1396.8,1146.0 1395.4,1149.0 1397.8,1147.3ZM1029.4,1126.6 1031.1,1129.0 1035.1,1133.0 1033.8,1130.6ZM1425.8,1117.3 1423.4,1118.3 1421.8,1120.0 1419.4,1125.0ZM1296.8,1084.6 1293.8,1085.0 1291.8,1084.3 1290.4,1083.0 1287.8,1083.0 1286.1,1083.6 1283.1,1086.0 1283.1,1087.0 1285.1,1087.0 1286.4,1088.0 1285.1,1089.6 1283.1,1089.6 1282.1,1088.6 1282.1,1087.6 1280.8,1087.3 1276.4,1087.6 1272.8,1089.0 1269.1,1091.0 1266.4,1094.0 1263.1,1095.3 1259.4,1096.0 1256.1,1098.6 1254.1,1099.6 1246.4,1101.3 1239.4,1101.3 1236.1,1103.6 1237.4,1105.0 1247.1,1105.3 1252.8,1103.6 1258.4,1101.3 1266.4,1100.0 1271.8,1097.3 1281.1,1094.3 1285.8,1091.3 1287.1,1091.0 1289.8,1091.3 1291.4,1090.6 1292.8,1089.3 1293.8,1087.3ZM1285.1,1072.6 1282.1,1073.0 1280.8,1073.6 1279.8,1075.0 1279.8,1076.6 1281.1,1078.0 1283.1,1078.0 1284.4,1077.3 1285.8,1076.0 1285.8,1073.6ZM1126.4,1066.6 1128.4,1070.3 1130.8,1072.6 1139.4,1078.0 1142.4,1082.3 1144.8,1084.0 1148.4,1085.3 1152.4,1087.6 1160.4,1089.3 1167.4,1092.6 1173.8,1094.6 1179.4,1098.3 1183.1,1098.6 1185.4,1098.0 1185.1,1095.3 1182.8,1092.6 1168.8,1088.6 1162.4,1084.3 1156.8,1082.3 1150.8,1082.0 1143.4,1076.6 1135.8,1072.6 1129.4,1067.3ZM987.1,1061.3 993.4,1074.6 993.4,1071.6 992.4,1068.6 990.4,1064.6ZM1461.1,1059.0 1458.4,1061.0 1456.1,1065.0 1454.8,1069.0 1454.8,1072.6 1459.4,1063.3ZM1340.1,1051.6 1338.4,1051.3 1337.4,1051.6 1336.1,1053.0 1335.4,1055.3 1336.4,1057.3 1339.1,1057.3 1341.1,1055.6 1341.4,1053.6ZM1111.1,1049.6 1111.8,1051.6 1112.8,1052.6 1113.8,1052.6 1112.4,1050.6ZM1169.1,1042.0 1168.1,1043.0 1168.1,1043.6 1168.8,1044.3 1169.8,1044.3ZM1155.4,1031.6 1155.1,1032.3 1156.1,1032.6 1156.4,1031.6ZM1291.4,1031.0 1287.4,1033.0 1285.8,1033.3 1284.1,1035.6 1282.1,1037.0 1280.8,1037.0 1280.1,1036.3 1279.8,1034.6 1279.1,1034.3 1278.8,1037.0 1279.8,1038.6 1279.8,1040.3 1281.1,1041.0 1282.4,1041.0 1285.1,1039.3 1286.4,1040.0 1288.4,1039.3 1289.8,1037.6 1289.1,1036.6 1291.4,1034.3 1291.1,1034.6 1290.8,1034.3 1291.4,1032.6ZM1233.1,1028.0 1232.1,1028.0 1230.8,1029.0 1230.1,1030.3 1230.4,1031.3 1231.8,1031.6 1234.8,1030.3 1234.4,1029.3ZM1303.4,1026.0 1302.4,1025.6 1301.8,1026.0 1301.1,1027.3 1302.4,1027.3ZM1241.4,1024.6 1240.1,1024.0 1238.4,1025.0 1235.8,1024.3 1235.1,1026.0 1236.4,1027.0 1238.8,1026.0 1240.8,1026.3 1241.4,1025.6ZM1202.1,1023.3 1203.1,1025.0 1204.1,1024.6 1203.1,1023.3ZM1264.8,1022.6 1264.4,1023.3 1264.8,1024.3 1265.8,1024.3 1266.1,1024.0 1265.8,1022.6ZM1244.1,1020.0 1242.8,1020.3 1242.8,1021.6 1241.8,1023.3 1242.1,1024.3 1243.1,1024.0 1244.8,1022.0 1244.8,1020.6ZM1140.8,1019.6 1141.8,1021.0 1143.1,1021.3 1142.8,1020.0 1141.4,1019.3ZM1233.1,1019.6 1231.8,1018.3 1229.8,1018.3 1228.1,1020.0 1226.4,1020.3 1226.4,1021.0 1227.1,1021.6 1228.4,1021.6 1229.4,1021.0 1232.1,1020.6ZM1237.4,1017.6 1237.1,1018.6 1238.1,1018.6 1238.4,1018.0ZM1194.4,1018.0 1193.8,1019.0 1193.8,1020.3 1195.1,1023.3 1196.4,1024.6 1197.8,1025.3 1199.1,1025.3 1199.4,1024.6 1197.8,1018.6 1195.8,1017.6ZM1222.8,1015.0 1224.1,1015.3 1225.4,1014.6 1223.8,1014.0ZM1231.4,1014.3 1232.1,1015.0 1233.8,1015.0 1234.4,1014.0 1232.8,1013.6ZM1210.4,1012.0 1209.8,1012.3 1209.8,1013.6 1210.1,1014.3 1211.1,1014.3 1211.4,1012.3ZM1242.1,1012.0 1241.8,1011.6 1240.8,1011.6 1240.1,1012.3 1238.8,1012.0 1238.1,1013.0 1239.8,1013.3ZM1477.1,1009.6 1474.8,1012.3 1473.4,1015.3 1473.1,1020.0 1474.1,1022.3ZM1360.4,1008.3 1359.1,1010.3 1358.8,1012.6 1360.4,1010.0ZM1231.8,1002.6 1231.1,1003.0 1231.4,1004.6ZM1427.1,997.0 1426.1,997.6 1425.4,999.3 1425.1,1002.3 1426.1,1002.3 1427.1,999.3ZM967.8,996.6 969.4,1007.6 970.1,1008.6 970.8,1006.3 970.4,1003.3 969.4,999.6ZM1324.4,983.0 1323.4,983.3 1323.1,984.3 1323.4,985.6 1324.8,984.3ZM1121.1,978.0 1120.8,982.6 1121.1,983.6 1121.8,983.6 1123.4,981.3 1123.4,979.6 1121.8,978.0ZM1482.1,977.3 1480.8,979.0 1479.8,983.0 1479.8,987.0 1480.4,990.0 1480.8,990.0ZM964.8,971.6 965.1,978.6 966.1,986.0 967.1,983.6 967.1,977.0 966.4,974.3ZM1327.8,963.0 1327.1,964.3 1327.4,967.6 1328.8,965.6ZM1117.8,963.0 1117.8,964.6 1119.8,966.0 1120.1,964.0 1119.4,963.0ZM1482.8,945.0 1480.8,949.0 1480.8,954.0 1481.8,958.0 1483.1,959.6ZM1326.8,935.0 1326.1,935.3 1325.8,936.6 1325.4,936.0 1323.8,936.3 1324.1,938.3 1324.8,938.3 1325.4,937.0 1326.8,936.3 1327.1,935.6ZM1122.1,929.6 1121.4,931.6 1119.8,933.3 1119.8,935.3 1120.4,936.3 1121.8,935.3ZM1125.4,919.0 1123.8,921.0 1124.1,923.0ZM1322.8,918.3 1322.1,918.6 1322.1,921.0 1322.8,922.6 1324.1,924.0 1325.8,922.6 1326.1,921.6 1325.1,919.6ZM1361.8,905.3 1361.4,906.6 1363.4,908.6 1363.1,906.6ZM1477.1,900.3 1476.8,905.3 1477.4,909.3 1479.8,914.0 1478.4,905.3ZM1231.4,899.0 1231.4,900.6 1232.1,901.3 1232.8,899.6 1232.4,899.0ZM1203.8,899.0 1204.1,900.6 1205.4,902.0 1206.8,902.0 1208.4,903.3 1209.8,903.3 1210.4,902.6 1210.1,901.0 1208.8,899.3 1208.1,899.3 1207.1,900.3 1206.1,900.3ZM1311.1,897.6 1310.8,898.0 1311.1,899.6 1313.4,902.3 1314.1,905.0 1316.1,907.3 1317.4,913.3 1319.8,914.6 1319.4,911.6 1317.4,907.0 1315.4,904.6 1313.4,899.6ZM1254.1,896.6 1254.1,897.6 1254.8,898.3 1255.1,897.0ZM1216.8,895.3 1216.4,895.0 1213.1,895.3 1212.4,896.0 1212.8,896.6 1213.4,896.6 1214.4,895.6ZM1138.1,894.3 1136.8,894.3 1134.8,895.3 1133.4,897.0 1133.4,898.0 1135.4,899.6 1138.4,898.0 1138.8,897.0 1138.1,895.6ZM1420.8,889.3 1420.8,891.0 1422.8,894.6 1422.8,892.3 1421.4,889.6ZM1249.4,887.6 1249.8,888.6 1250.4,889.0 1252.4,889.0 1253.8,890.0 1254.8,890.0 1252.4,888.0ZM1095.1,885.6 1093.8,886.3 1093.8,887.3 1095.1,886.3ZM1144.8,885.3 1143.1,885.6 1140.1,889.6 1140.8,891.0 1141.4,890.3 1143.4,890.3 1145.1,889.0 1145.4,887.6ZM1197.8,881.3 1196.8,881.0 1193.8,883.0 1193.8,884.0 1195.1,884.0ZM1290.1,873.0 1290.4,875.6 1292.1,877.6 1296.4,880.3 1298.4,880.6 1297.4,878.6 1293.4,874.3ZM1176.4,861.6 1175.4,861.6 1173.4,864.0 1175.8,862.6ZM1270.8,860.3 1271.1,861.3 1272.8,863.0 1277.1,864.6 1278.1,866.6 1279.4,867.0 1280.4,868.0 1283.8,869.6 1286.8,870.3 1285.1,868.0 1280.4,864.3 1276.8,863.0 1273.1,860.6ZM1332.4,856.0 1335.1,860.0 1336.8,861.0 1335.1,858.0ZM1192.4,855.6 1190.1,855.3 1183.8,856.0 1182.1,857.0 1180.8,860.0 1183.8,859.6 1187.1,857.6 1190.8,857.0ZM1324.8,853.0 1325.1,855.0 1327.4,856.6 1330.4,855.3 1329.8,853.3 1328.1,851.6 1326.1,851.3ZM1457.1,842.0 1457.1,844.6 1458.4,849.3 1460.1,852.0 1462.4,853.3ZM990.4,841.3 987.8,846.3 985.4,852.3 989.4,846.6 990.4,843.3ZM1132.1,841.0 1130.1,841.3 1128.1,842.6 1127.1,844.0 1127.4,844.3 1130.1,844.0 1132.1,842.0ZM1166.1,819.6 1164.8,819.6 1162.4,821.0 1159.8,821.3 1158.8,822.6 1158.8,824.0 1160.8,825.3 1162.8,824.6 1164.1,823.0 1164.1,822.3 1163.1,821.3ZM1272.4,815.6 1275.4,817.0 1278.8,819.3 1288.4,824.0 1297.1,827.0 1301.8,831.6 1306.4,834.6 1308.8,837.0 1314.4,840.3 1316.8,840.6 1308.1,833.0 1299.4,827.3 1295.8,823.0 1286.8,820.3 1280.1,817.3ZM1203.4,813.3 1207.8,813.6 1208.4,812.6 1204.8,812.0ZM1007.4,811.3 999.8,823.6 1003.4,820.3 1005.4,817.3 1007.1,814.0ZM1433.1,801.6 1433.8,804.6 1436.8,809.3 1440.4,812.6ZM1031.1,781.0 1023.1,790.3 1025.4,789.3 1028.1,787.0 1030.1,784.3ZM1059.4,754.0 1052.1,760.3 1055.4,759.0 1057.1,757.6 1058.8,755.6ZM1385.4,752.3 1385.8,754.3 1386.8,756.3 1389.1,758.6 1391.4,760.3 1394.4,761.6 1396.8,761.6 1386.4,752.6ZM1188.4,750.3 1186.1,749.3 1183.8,749.0 1179.1,749.3 1175.8,750.6 1175.1,751.6 1175.1,752.6 1177.4,753.3 1182.1,753.3 1186.1,752.0ZM1089.4,733.0 1088.8,733.0 1080.1,738.6 1084.4,737.0 1087.4,735.0ZM1243.8,719.3 1227.4,719.0 1225.4,719.6 1223.8,721.3 1223.4,720.0 1222.1,721.6 1221.8,723.3 1220.8,724.0 1211.1,723.3 1206.1,724.3 1204.4,725.6 1206.1,727.0 1208.1,727.3 1208.4,727.6 1208.1,728.3 1211.8,728.3 1212.8,729.0 1211.8,730.6 1203.4,733.3 1202.4,734.3 1200.8,737.6 1201.8,738.6 1206.4,739.6 1208.8,741.3 1207.8,742.6 1206.1,743.3 1200.8,743.3 1195.8,744.6 1195.4,746.0 1197.1,747.0 1206.1,746.6 1207.1,747.3 1207.1,748.6 1203.1,751.6 1203.4,753.0 1201.4,756.6 1199.8,758.3 1196.1,759.6 1192.8,761.3 1191.8,762.3 1191.8,763.3 1189.4,766.0 1189.4,767.0 1193.8,769.3 1194.1,770.0 1193.4,771.0 1193.8,772.3 1196.8,772.6 1198.8,773.6 1199.8,774.6 1201.1,777.3 1203.4,778.0 1209.8,778.6 1211.8,780.3 1211.1,781.6 1208.4,782.6 1206.4,784.6 1206.8,785.6 1208.8,787.6 1210.4,792.0 1214.1,795.0 1213.1,798.3 1216.8,804.0 1216.8,806.3 1215.1,809.0 1216.1,810.6 1216.1,812.0 1211.4,816.6 1208.4,818.3 1205.8,821.0 1203.4,826.6 1203.1,829.0 1200.1,832.0 1199.8,833.3 1201.1,834.6 1200.8,835.6 1197.8,838.0 1193.4,840.0 1194.8,842.6 1191.1,847.3 1190.4,850.0 1190.8,851.0 1191.8,851.6 1193.1,851.6 1195.4,849.6 1196.4,849.6 1198.4,851.0 1197.4,852.3 1195.4,852.6 1194.8,853.6 1197.4,855.3 1197.1,857.0 1196.1,858.0 1192.8,858.3 1190.4,861.3 1190.4,862.3 1191.1,863.3 1193.8,863.6 1191.8,864.6 1191.1,864.0 1189.4,864.3 1185.1,866.3 1182.8,869.0 1180.4,870.3 1178.1,871.0 1174.8,874.0 1170.1,877.0 1154.1,892.3 1147.8,899.3 1144.4,904.6 1141.4,910.6 1139.1,913.6 1138.1,918.6 1133.8,927.3 1133.1,933.3 1131.4,940.0 1131.1,945.6 1129.8,954.6 1130.1,961.6 1132.1,969.3 1132.1,976.0 1139.1,996.6 1144.4,1006.0 1148.4,1010.0 1153.4,1017.0 1157.4,1020.3 1160.1,1023.6 1166.8,1029.6 1169.1,1032.3 1171.1,1035.6 1171.4,1037.3 1172.8,1038.6 1172.4,1039.0 1170.8,1038.6 1168.8,1039.6 1174.4,1044.0 1176.8,1044.3 1183.4,1047.6 1185.4,1046.6 1186.4,1046.6 1188.8,1048.6 1189.1,1049.6 1187.8,1051.3 1185.4,1052.0 1181.8,1052.0 1181.1,1052.6 1180.8,1054.0 1181.4,1056.6 1183.1,1059.0 1185.8,1061.6 1187.1,1062.3 1188.4,1064.0 1188.4,1065.0 1187.8,1065.6 1184.8,1066.3 1183.8,1067.0 1182.4,1068.6 1181.8,1070.6 1184.8,1075.6 1186.1,1077.0 1192.1,1080.0 1194.1,1082.0 1194.4,1084.0 1193.4,1087.0 1192.8,1086.6 1186.4,1086.6 1184.1,1087.3 1183.4,1088.0 1183.4,1089.3 1183.8,1090.0 1185.4,1090.6 1188.8,1090.3 1193.1,1088.3 1193.1,1087.3 1193.8,1087.0 1194.4,1087.6 1194.4,1088.6 1195.4,1090.6 1194.8,1095.6 1197.4,1097.0 1198.8,1098.3 1198.8,1101.0 1196.8,1103.0 1192.4,1105.0 1191.4,1106.3 1192.1,1107.6 1195.8,1111.3 1195.8,1112.3 1194.4,1113.3 1189.1,1114.0 1187.4,1115.3 1187.4,1117.0 1188.8,1119.0 1188.8,1120.0 1187.8,1121.0 1186.4,1121.6 1183.1,1121.6 1179.1,1121.0 1178.1,1121.6 1178.8,1123.0 1182.4,1124.0 1184.1,1124.0 1187.1,1125.3 1188.1,1126.3 1188.1,1127.0 1183.8,1131.3 1182.1,1134.6 1179.8,1135.6 1177.1,1138.3 1171.4,1139.6 1170.8,1140.3 1172.4,1141.6 1179.1,1143.6 1180.4,1145.0 1180.8,1146.0 1179.8,1147.3 1173.8,1147.6 1171.8,1149.0 1172.1,1150.3 1175.1,1153.3 1174.4,1155.6 1173.8,1156.3 1172.4,1155.6 1164.8,1154.0 1157.4,1150.3 1151.8,1148.3 1147.1,1147.3 1144.4,1147.3 1144.4,1148.0 1147.4,1151.0 1152.8,1154.3 1155.4,1155.3 1164.8,1155.6 1169.8,1157.0 1173.8,1157.3 1176.1,1160.0 1179.1,1162.0 1179.4,1163.6 1178.1,1164.6 1181.1,1165.6 1186.4,1168.3 1187.4,1169.6 1187.1,1170.6 1185.4,1172.0 1183.4,1172.3 1183.1,1173.0 1189.1,1175.6 1191.4,1177.6 1191.8,1178.6 1189.8,1181.3 1190.1,1182.3 1192.1,1183.6 1195.1,1184.6 1200.1,1188.0 1205.1,1189.3 1207.1,1189.3 1207.8,1190.0 1208.4,1193.3 1208.1,1196.6 1208.4,1200.3 1207.8,1201.6 1207.8,1203.3 1209.1,1204.3 1210.4,1204.3 1211.8,1203.0 1211.1,1199.6 1211.8,1198.0 1211.8,1191.3 1212.8,1189.3 1215.8,1188.6 1217.4,1187.6 1219.4,1187.6 1223.4,1186.6 1226.1,1184.6 1230.4,1183.0 1237.1,1182.6 1237.4,1182.3 1243.4,1182.3 1247.1,1181.6 1248.1,1181.0 1248.1,1180.3 1238.8,1177.6 1236.1,1176.3 1236.8,1175.0 1241.4,1173.0 1241.8,1172.3 1239.1,1170.6 1236.4,1170.0 1235.1,1168.6 1235.8,1166.3 1240.8,1162.0 1242.4,1162.3 1253.1,1162.0 1260.4,1160.3 1269.8,1160.0 1274.8,1158.6 1284.8,1153.6 1282.1,1153.0 1278.8,1153.0 1269.1,1155.3 1262.1,1158.3 1250.4,1158.6 1246.8,1159.6 1241.8,1162.0 1241.1,1161.6 1244.8,1157.6 1245.4,1155.6 1248.1,1153.0 1248.1,1152.3 1245.4,1150.0 1245.4,1149.0 1246.4,1147.3 1242.8,1145.3 1242.8,1144.6 1245.8,1141.6 1246.1,1138.0 1242.4,1135.6 1243.4,1134.6 1243.4,1134.0 1237.4,1133.0 1235.8,1132.3 1233.1,1130.3 1232.8,1128.6 1236.1,1126.6 1236.8,1125.3 1235.1,1124.3 1232.4,1124.0 1231.1,1122.6 1232.8,1120.0 1232.8,1117.6 1233.4,1116.3 1232.1,1114.0 1230.1,1112.6 1227.8,1110.0 1227.8,1108.3 1229.4,1106.3 1233.4,1106.0 1234.8,1105.3 1232.8,1103.6 1232.8,1102.3 1234.8,1100.3 1235.1,1097.3 1236.8,1095.3 1236.8,1094.3 1235.8,1094.0 1231.8,1090.3 1231.4,1085.6 1233.1,1083.6 1237.1,1082.0 1238.8,1080.3 1239.1,1077.6 1241.1,1075.6 1243.1,1076.6 1245.1,1077.0 1247.4,1076.3 1248.4,1075.0 1248.4,1074.3 1244.4,1073.6 1243.4,1073.0 1245.8,1068.6 1245.4,1066.3 1243.8,1063.6 1244.1,1062.3 1243.8,1059.0 1245.4,1057.3 1247.8,1057.3 1251.4,1055.6 1254.1,1055.3 1255.8,1054.3 1264.1,1053.6 1267.1,1051.0 1271.4,1049.3 1272.8,1047.6 1272.4,1044.0 1268.1,1043.6 1266.1,1042.6 1264.4,1042.6 1260.4,1047.0 1251.1,1051.6 1250.4,1051.3 1249.4,1052.6 1247.1,1051.3 1246.4,1050.0 1249.8,1049.0 1255.8,1045.0 1258.4,1042.3 1259.8,1041.6 1262.1,1041.6 1264.4,1039.3 1268.4,1037.6 1274.8,1032.6 1278.4,1030.6 1280.4,1028.6 1285.1,1025.6 1299.1,1010.6 1302.1,1006.6 1306.1,1000.3 1307.4,996.0 1310.1,991.0 1311.8,985.3 1312.8,984.0 1314.1,980.3 1315.8,972.6 1316.1,963.6 1317.1,959.0 1317.1,954.3 1316.8,954.0 1317.1,949.3 1316.4,946.0 1316.4,940.3 1315.1,936.6 1315.4,931.3 1313.8,928.0 1311.4,919.3 1309.4,916.3 1307.8,912.6 1304.1,907.6 1302.1,903.6 1299.1,900.0 1298.4,898.3 1293.8,892.0 1289.1,886.6 1281.8,880.6 1274.1,875.6 1270.1,871.3 1268.1,870.0 1266.1,867.3 1266.4,866.0 1266.1,864.3 1263.8,861.6 1258.8,859.0 1256.8,859.0 1255.4,858.0 1258.4,854.6 1258.1,853.6 1256.4,852.0 1252.8,849.3 1252.4,848.3 1253.4,845.3 1254.8,844.3 1256.4,844.3 1261.8,847.3 1263.8,847.6 1265.4,847.3 1265.8,845.6 1263.4,842.6 1262.4,840.0 1259.1,839.0 1256.8,837.3 1256.1,836.3 1256.1,833.0 1254.1,830.6 1254.1,829.3 1255.4,827.6 1255.4,826.3 1252.4,823.0 1253.4,822.0 1256.4,821.0 1258.4,819.0 1256.1,816.6 1251.4,814.6 1247.1,811.6 1246.8,811.0 1247.1,808.6 1245.8,805.6 1246.1,803.0 1247.1,801.3 1251.4,800.0 1253.4,798.3 1253.8,795.6 1253.1,794.3 1253.1,793.0 1255.1,791.0 1255.1,789.6 1253.4,788.0 1252.8,786.6 1252.8,785.0 1254.1,784.0 1255.4,784.3 1261.4,783.3 1263.8,781.6 1263.4,779.0 1264.4,778.0 1267.1,777.3 1270.1,777.3 1271.1,776.6 1270.1,771.0 1271.4,769.6 1271.4,769.0 1265.1,764.6 1265.4,763.0 1268.4,761.6 1268.4,761.0 1264.4,757.0 1264.1,753.6 1265.1,752.6 1266.8,752.3 1274.8,755.6 1282.4,757.3 1285.4,759.3 1289.8,761.0 1296.1,762.3 1303.4,765.0 1309.8,766.0 1304.4,761.6 1298.4,759.0 1293.1,757.3 1285.1,755.6 1281.4,753.3 1276.8,751.6 1273.1,751.0 1269.4,751.0 1267.8,748.3 1263.4,744.3 1261.4,741.6 1261.4,740.6 1264.1,738.6 1256.8,735.3 1253.1,734.3 1248.8,730.0 1250.4,729.6 1256.8,731.0 1263.4,731.3 1251.8,728.0 1246.1,728.0 1242.8,726.0 1243.1,725.3 1249.1,724.0 1257.8,723.6 1258.8,722.6 1256.4,721.6 1250.8,720.3ZM1218.1,1028.6 1217.8,1030.0 1215.8,1032.0 1212.8,1031.0 1214.8,1028.3 1217.4,1028.0ZM1222.1,889.6 1222.4,892.0 1221.4,892.6 1219.8,890.3ZM1219.4,888.3 1220.4,887.3 1222.8,887.6 1220.1,888.6ZM1237.4,884.0 1238.8,884.0 1240.8,886.0 1240.4,887.6 1238.1,890.0 1236.8,890.0 1235.8,888.0 1236.1,885.6ZM1237.8,878.3 1236.8,880.0 1235.1,880.0 1234.1,879.3 1237.1,878.0ZM1217.4,876.3 1217.8,876.6 1217.4,877.0 1219.1,878.0 1219.1,879.0 1215.4,881.6 1213.4,881.0 1213.1,879.0 1216.1,877.3 1214.8,877.0ZM1230.4,874.0 1232.4,873.0 1235.1,873.0 1235.4,874.0 1237.8,876.0 1237.8,877.6 1237.4,878.0 1236.4,877.0 1232.8,876.3ZM1211.4,872.0 1211.8,871.6 1213.8,872.0 1213.4,872.3ZM1175.8,881.6 1179.8,880.0 1185.8,876.3 1192.8,873.6 1200.8,872.0 1203.1,871.0 1210.1,871.3 1210.4,871.6 1208.8,872.3 1208.8,873.3 1211.8,874.3 1212.8,875.3 1212.8,876.6 1211.8,877.6 1209.4,877.6 1207.1,878.6 1207.8,879.3 1210.8,879.0 1211.8,881.0 1210.1,883.6 1208.4,884.0 1208.1,884.6 1208.8,885.0 1205.4,888.0 1204.4,888.3 1202.1,888.0 1200.8,891.0 1202.8,891.6 1205.4,889.3 1209.8,889.6 1211.1,890.6 1212.8,890.6 1214.1,891.6 1215.8,891.6 1217.1,893.0 1217.4,894.0 1219.4,895.3 1221.4,897.6 1223.1,897.6 1223.4,897.0 1223.8,897.3 1224.4,895.0 1225.8,894.0 1226.8,894.0 1227.1,895.3 1228.1,896.0 1228.4,895.3 1230.4,894.6 1232.8,892.0 1235.1,892.0 1240.1,894.0 1241.1,893.6 1243.8,894.0 1245.1,895.6 1245.4,899.0 1247.1,900.0 1248.8,900.3 1252.8,895.6 1250.4,894.3 1247.1,894.0 1246.8,891.3 1245.4,889.3 1247.8,886.6 1247.8,884.3 1246.4,880.3 1244.4,881.3 1241.8,881.0 1240.8,880.0 1241.1,877.3 1239.1,875.6 1239.1,874.6 1241.4,872.6 1243.1,872.6 1244.1,873.3 1245.4,872.6 1247.4,872.6 1254.1,874.0 1260.8,876.3 1270.4,881.3 1277.4,887.0 1283.1,890.6 1292.1,900.6 1293.4,903.0 1296.8,907.0 1298.8,911.0 1301.1,914.0 1305.4,924.6 1306.1,929.6 1307.4,932.6 1308.1,936.6 1310.8,945.6 1311.4,950.6 1311.4,955.6 1310.4,960.0 1310.4,970.3 1309.8,974.0 1308.4,976.6 1307.4,981.3 1304.1,987.3 1302.8,991.6 1298.1,1000.3 1294.8,1005.0 1292.4,1010.0 1289.4,1012.3 1285.1,1017.3 1275.8,1024.0 1272.1,1028.0 1266.1,1032.0 1257.4,1034.6 1254.4,1031.6 1254.4,1030.0 1255.4,1028.0 1254.8,1026.6 1254.1,1026.6 1253.1,1028.0 1252.4,1027.6 1253.1,1027.0 1250.4,1027.6 1249.8,1028.3 1250.1,1028.6 1249.8,1031.0 1248.8,1032.0 1245.8,1032.3 1245.1,1033.0 1245.4,1033.6 1248.8,1033.6 1249.1,1033.3 1250.8,1033.6 1253.4,1035.6 1252.1,1036.6 1249.1,1037.6 1243.1,1039.0 1239.1,1039.0 1234.4,1040.0 1229.4,1038.6 1226.8,1038.6 1221.4,1036.6 1223.4,1036.0 1224.1,1035.3 1224.8,1032.3 1224.4,1030.6 1223.1,1029.6 1222.4,1028.3 1223.1,1023.0 1222.4,1021.0 1223.1,1020.3 1222.1,1019.6 1220.1,1019.3 1218.1,1020.0 1217.4,1019.3 1217.1,1016.6 1217.8,1014.3 1216.4,1014.0 1211.8,1017.3 1206.4,1017.6 1204.8,1018.6 1204.8,1021.3 1205.4,1023.0 1206.4,1024.0 1209.8,1024.3 1210.4,1026.6 1210.4,1029.3 1209.1,1030.6 1205.1,1031.3 1200.4,1026.6 1199.8,1029.3 1198.4,1032.0 1198.4,1032.6 1199.1,1032.6 1199.8,1032.0 1204.4,1031.3 1205.4,1032.0 1206.1,1034.3 1209.4,1035.0 1210.4,1034.0 1211.1,1032.3 1211.8,1032.0 1212.4,1033.0 1214.8,1033.6 1213.8,1035.6 1212.1,1036.3 1205.4,1036.3 1202.4,1037.0 1199.1,1036.0 1195.1,1035.6 1192.8,1034.6 1188.1,1033.6 1182.8,1031.3 1176.4,1027.3 1173.4,1026.0 1164.8,1020.0 1159.8,1015.3 1152.8,1005.3 1150.4,1000.0 1147.1,996.6 1141.4,986.6 1140.1,981.3 1138.1,976.6 1137.1,973.0 1136.4,961.0 1137.1,959.0 1136.8,950.0 1137.8,945.0 1137.4,939.0 1138.1,936.6 1138.1,932.0 1138.8,930.3 1141.1,928.0 1142.1,926.0 1142.8,922.6 1145.1,918.6 1145.8,916.0 1147.4,913.3 1148.1,910.6 1151.1,905.3 1155.1,900.3 1159.1,896.3 1160.8,893.3 1162.1,892.0 1172.1,885.0ZM1202.4,764.3 1203.8,764.0 1205.4,765.3 1206.8,767.3 1206.1,769.0 1202.8,769.3 1201.4,768.3 1201.1,767.6 1201.4,765.6ZM1129.8,713.0 1120.8,716.6 1126.4,715.0ZM1254.1,697.3 1257.1,699.3 1260.1,700.0 1264.4,700.0 1266.4,699.3 1268.1,700.6 1271.8,702.0 1277.1,702.3 1279.8,701.6 1269.4,699.3 1256.4,697.3ZM1225.1,695.3 1229.8,697.0 1236.8,697.0 1239.1,696.0 1242.1,697.3 1246.1,698.0 1248.8,698.0 1252.1,697.0 1238.4,695.6Z" fill="#0055ff" fill-rule="evenodd"/>
<path d="M1139.1,1200.0 1147.8,1203.0 1142.4,1200.0ZM1209.4,1187.3 1208.8,1188.3 1209.4,1189.3 1210.4,1189.3 1211.1,1188.3 1210.8,1187.6ZM1351.4,1180.6 1348.8,1181.0 1344.8,1183.0 1341.8,1185.6ZM1075.4,1167.6 1084.8,1174.0 1081.8,1170.6ZM1147.1,1148.3 1148.1,1150.0 1153.4,1153.0 1156.1,1153.6 1159.8,1153.0 1153.4,1150.0ZM1402.8,1142.3 1399.1,1145.0 1397.1,1147.6ZM1193.8,1107.0 1195.4,1107.3 1194.4,1106.6ZM1177.8,1093.6 1177.8,1095.6 1180.1,1097.0 1183.1,1097.3 1183.1,1096.0 1181.4,1094.0 1179.8,1093.3ZM1185.1,1088.3 1186.1,1089.6 1188.1,1089.0 1187.8,1088.0ZM1143.1,1079.0 1144.8,1081.0 1148.4,1082.3 1154.1,1086.3 1159.1,1088.0 1161.8,1087.0 1161.1,1085.6 1158.1,1084.3 1152.8,1084.3 1150.8,1083.6ZM1282.1,1075.0 1281.8,1075.6 1282.8,1076.0 1282.8,1075.0ZM1186.1,1073.6 1187.4,1076.0 1189.8,1076.0 1189.8,1074.6 1188.4,1073.6ZM1129.4,1069.0 1131.4,1071.3 1133.4,1072.3ZM987.8,1062.6 992.8,1073.0 991.8,1069.0ZM1460.4,1060.3 1457.1,1064.6 1455.4,1071.0ZM1251.1,1054.0 1253.1,1054.6 1252.1,1053.6ZM1340.1,1052.6 1338.4,1052.6 1337.1,1054.0 1336.8,1056.3 1338.1,1056.3 1339.8,1055.0ZM1260.1,1049.6 1258.1,1049.6 1253.1,1052.0 1253.8,1053.0 1257.4,1052.6ZM1271.1,1046.3 1270.1,1045.0 1266.4,1045.3 1264.4,1047.6 1266.4,1049.0 1268.4,1049.0 1270.1,1048.3 1271.1,1047.3ZM1235.8,1025.6 1237.1,1026.0 1237.4,1025.3ZM1239.4,1025.0 1240.1,1026.0 1240.8,1025.6 1240.4,1024.6ZM1228.1,1020.6 1230.8,1020.0 1229.1,1020.0ZM1194.8,1019.6 1195.8,1022.3 1197.4,1023.3 1196.8,1020.3 1195.4,1019.3ZM1206.4,1019.6 1206.4,1021.6 1207.1,1022.6 1211.1,1022.0 1215.1,1026.6 1218.1,1026.3 1221.1,1027.0 1219.8,1026.0 1221.4,1024.0 1221.4,1022.3 1217.4,1022.0 1214.8,1018.3 1207.1,1019.0ZM1476.8,1011.0 1474.8,1015.0 1474.4,1020.0ZM968.1,999.0 969.1,1005.3 969.1,1002.6ZM1481.8,979.3 1480.8,983.3 1480.8,988.0ZM964.8,973.3 966.1,984.3 966.4,978.3 965.8,975.0ZM1482.8,946.6 1481.4,951.6 1482.1,956.3 1483.1,958.0ZM1477.8,902.3 1477.8,906.3 1479.4,911.6ZM1137.4,896.6 1136.4,896.6 1136.1,897.6 1136.4,898.0ZM1246.4,896.0 1246.4,898.3 1248.4,899.3 1250.1,896.3 1249.4,895.6ZM1221.4,894.3 1221.1,895.6 1222.4,897.0 1222.8,894.3ZM1217.4,890.3 1218.4,893.6 1219.8,894.0 1219.4,892.0ZM1220.1,889.3 1223.1,889.3 1222.4,888.6ZM1242.4,887.3 1239.1,890.6 1239.8,892.3 1241.4,892.3 1242.4,891.6ZM1212.8,883.6 1207.8,886.6 1207.1,888.3 1209.8,889.3 1212.4,889.3 1213.1,887.6 1212.4,886.0ZM1239.1,881.3 1240.1,883.6 1241.4,884.6 1242.8,884.6 1244.8,883.0 1246.1,883.6 1246.1,883.0ZM1208.8,878.3 1210.1,878.6 1211.1,878.0ZM1229.8,875.3 1227.8,876.3 1226.8,878.6 1222.1,880.0 1220.4,883.0 1221.8,884.6 1225.8,884.6 1226.4,885.3 1226.4,888.0 1227.1,889.0 1226.8,891.3 1229.1,893.6 1230.1,893.3 1232.4,890.3 1234.4,889.6 1232.8,887.6 1232.8,886.3 1233.8,884.0 1236.4,882.0 1232.4,879.3 1232.8,878.3 1234.8,878.6 1236.1,877.6 1232.1,877.0ZM1218.1,875.0 1220.1,877.0 1221.8,877.0 1223.1,875.6 1222.8,874.3 1221.4,873.6 1219.8,873.6ZM1257.4,862.3 1257.4,863.6 1258.4,864.3 1262.4,865.0 1263.8,864.3 1262.8,862.6 1259.8,861.3 1258.4,861.3ZM1458.1,844.0 1459.4,848.3 1461.4,851.3ZM989.4,843.0 986.4,849.6 989.1,845.0ZM1006.4,813.0 1000.4,822.3 1004.8,817.0ZM1434.4,803.6 1436.1,807.0 1439.1,810.3ZM1029.4,783.0 1024.4,788.6 1027.8,785.6ZM1196.8,765.6 1195.1,764.6 1192.1,766.3 1193.8,767.3 1196.1,767.0ZM1200.8,761.0 1199.8,760.3 1198.1,760.3 1195.4,762.0 1196.1,763.0 1198.4,763.0ZM1287.4,757.6 1289.4,759.6 1305.1,764.0 1303.8,762.6 1299.1,760.3 1291.1,758.0ZM1386.8,753.3 1387.4,755.3 1389.8,758.0 1393.4,760.3 1395.4,760.6ZM1270.1,752.6 1275.1,754.6 1280.8,755.3 1275.4,752.6ZM1179.4,752.0 1183.1,751.3 1180.4,751.3ZM1229.4,725.3 1221.8,726.0 1218.8,727.3 1221.1,730.0 1224.8,731.3 1224.8,732.3 1223.1,735.0 1221.8,735.3 1221.4,734.6 1217.1,733.0 1212.1,733.0 1208.1,734.0 1205.4,736.3 1205.8,737.6 1211.1,739.0 1214.4,740.3 1214.8,741.0 1211.4,744.6 1210.8,747.6 1206.8,756.0 1206.4,761.0 1209.1,768.0 1208.8,770.3 1208.1,771.0 1201.4,771.0 1199.8,772.3 1202.1,776.3 1205.4,777.3 1211.8,777.3 1214.8,780.3 1215.4,782.0 1215.1,782.6 1209.8,783.3 1208.4,784.3 1208.4,785.6 1212.8,790.6 1217.4,793.6 1217.4,799.3 1218.1,802.0 1217.4,811.6 1216.1,815.6 1213.1,820.0 1209.8,819.6 1208.1,821.0 1208.4,823.6 1206.8,827.0 1207.8,829.3 1206.4,831.0 1207.1,835.0 1206.4,836.6 1204.1,839.3 1205.4,841.0 1205.1,842.6 1203.8,843.6 1202.1,843.6 1200.1,842.6 1199.4,841.6 1200.1,839.6 1198.8,839.3 1197.4,840.0 1198.1,842.0 1194.4,845.6 1194.8,846.6 1198.8,848.6 1201.1,848.6 1203.4,847.3 1204.4,851.0 1205.8,853.0 1205.8,854.3 1204.1,855.3 1201.1,855.6 1200.1,856.6 1198.4,862.3 1196.8,864.6 1192.4,867.0 1187.4,867.3 1165.4,884.0 1162.8,886.6 1161.4,889.0 1156.4,893.3 1149.8,901.0 1144.8,908.3 1143.1,912.6 1140.8,916.0 1139.4,920.6 1137.1,925.0 1136.4,930.3 1133.1,941.0 1131.8,954.6 1132.4,963.3 1134.4,970.6 1134.8,978.3 1139.4,991.6 1143.4,1000.3 1154.8,1015.3 1159.4,1018.6 1162.1,1021.3 1164.4,1025.0 1170.1,1028.6 1172.4,1031.0 1175.4,1036.6 1175.4,1038.3 1178.4,1043.3 1180.1,1044.3 1183.1,1044.0 1183.8,1043.3 1183.4,1040.0 1186.1,1039.6 1188.1,1040.6 1190.8,1043.6 1191.1,1051.3 1187.1,1053.6 1187.1,1056.6 1185.8,1056.6 1183.4,1055.0 1183.1,1056.0 1185.1,1059.3 1190.1,1063.0 1190.8,1064.3 1190.8,1068.0 1193.8,1072.0 1194.1,1075.6 1196.4,1081.0 1198.4,1088.6 1198.8,1092.0 1198.1,1094.0 1199.8,1096.0 1199.8,1100.6 1198.4,1106.3 1197.1,1107.6 1195.8,1108.0 1197.4,1110.3 1197.1,1114.0 1196.1,1115.0 1191.8,1114.6 1190.4,1116.0 1190.8,1119.0 1191.4,1119.6 1191.4,1121.6 1190.8,1122.6 1192.4,1125.3 1191.4,1127.3 1187.4,1131.6 1185.1,1138.6 1183.4,1141.6 1182.4,1142.3 1183.1,1147.6 1181.8,1149.3 1175.8,1149.3 1175.4,1150.0 1181.8,1151.6 1183.1,1152.6 1184.1,1155.6 1183.8,1158.3 1183.1,1158.6 1185.4,1160.3 1189.1,1166.6 1191.8,1169.0 1193.1,1171.3 1198.1,1175.3 1202.4,1180.6 1202.8,1182.0 1208.4,1182.6 1213.4,1182.0 1217.1,1180.6 1219.4,1180.6 1220.8,1182.0 1220.4,1183.3 1219.8,1183.6 1220.8,1184.0 1228.8,1182.3 1243.8,1181.0 1240.1,1179.0 1234.4,1178.0 1231.1,1176.0 1232.4,1174.0 1235.8,1173.3 1237.4,1172.3 1226.8,1172.0 1227.4,1170.0 1234.1,1162.6 1234.8,1159.3 1236.1,1157.3 1244.1,1153.0 1243.8,1152.0 1239.4,1149.6 1237.1,1147.0 1236.8,1145.0 1239.1,1142.3 1235.8,1141.3 1233.4,1137.0 1232.8,1133.6 1230.4,1129.0 1231.4,1126.3 1228.8,1124.3 1228.1,1122.6 1228.8,1118.6 1227.1,1117.0 1227.4,1112.0 1226.8,1110.3 1227.4,1104.6 1231.8,1100.6 1231.8,1099.3 1230.4,1097.6 1230.8,1096.6 1232.8,1095.3 1232.8,1094.3 1229.1,1091.6 1230.1,1086.0 1232.8,1082.3 1236.4,1080.3 1235.8,1077.6 1236.8,1073.0 1239.1,1069.6 1242.1,1067.0 1242.1,1065.3 1240.1,1062.6 1240.1,1061.0 1241.1,1058.6 1246.8,1055.0 1246.4,1053.3 1241.4,1052.0 1240.8,1050.3 1243.4,1047.6 1249.4,1046.3 1260.4,1038.0 1266.4,1036.0 1269.4,1034.3 1273.8,1030.3 1276.4,1029.0 1279.4,1026.3 1283.4,1024.3 1303.4,1001.0 1308.4,989.3 1309.4,985.3 1312.8,979.0 1313.1,973.6 1314.1,970.0 1315.1,951.6 1312.8,931.3 1309.1,920.0 1306.1,915.3 1304.1,910.6 1296.4,899.3 1285.8,886.6 1280.8,882.3 1272.4,877.3 1269.8,873.3 1266.1,870.3 1263.4,869.0 1260.1,868.6 1257.8,866.3 1256.8,864.3 1251.8,860.0 1251.8,858.0 1255.1,854.3 1253.8,852.6 1251.8,851.6 1249.8,849.0 1251.4,843.0 1252.1,842.3 1256.1,842.6 1261.8,846.0 1263.8,846.0 1263.8,845.0 1261.1,842.0 1256.4,839.3 1253.4,836.3 1253.1,833.3 1250.8,830.0 1250.8,828.3 1251.8,826.6 1248.8,824.6 1248.8,823.6 1250.4,821.6 1255.4,820.3 1256.8,818.6 1254.4,816.6 1249.8,814.3 1245.4,813.3 1244.4,812.3 1245.4,800.6 1246.8,799.6 1250.1,799.3 1252.1,797.3 1252.1,795.6 1250.8,793.6 1250.8,792.6 1252.8,790.6 1252.8,789.6 1251.4,788.3 1248.8,787.3 1248.1,785.6 1251.8,781.6 1261.4,781.6 1262.1,781.0 1261.8,778.6 1262.4,777.6 1268.8,776.3 1269.1,774.3 1266.8,770.6 1266.4,768.6 1262.4,767.3 1260.8,765.0 1261.8,759.6 1259.8,750.0 1262.4,748.3 1261.4,746.3 1254.8,741.0 1252.1,735.3 1245.1,729.3 1241.1,727.6 1231.8,726.3ZM1177.1,878.3 1194.8,871.3 1197.1,872.0 1203.1,870.0 1220.8,871.3 1226.4,873.0 1234.8,871.6 1236.8,872.0 1237.4,873.3 1238.4,873.3 1240.1,872.0 1249.8,872.3 1255.8,874.0 1256.8,873.3 1259.1,873.3 1265.4,877.6 1272.1,879.6 1276.4,883.6 1284.8,889.3 1290.8,895.6 1298.8,905.6 1301.1,911.0 1303.4,914.0 1305.8,919.0 1307.4,924.0 1308.4,929.6 1311.1,936.6 1313.1,944.3 1313.1,951.0 1313.8,955.3 1312.8,960.0 1313.1,965.3 1312.1,968.6 1311.8,973.0 1308.4,984.0 1305.8,989.0 1305.1,992.3 1301.8,997.3 1294.8,1010.6 1285.8,1020.0 1281.8,1022.3 1277.1,1027.3 1273.1,1030.3 1262.1,1035.6 1260.1,1036.0 1257.4,1035.0 1250.1,1038.0 1237.1,1040.6 1232.8,1040.6 1221.4,1038.0 1219.4,1036.6 1222.4,1035.0 1222.8,1033.3 1222.1,1032.3 1222.4,1031.6 1222.1,1031.3 1221.4,1032.0 1220.1,1030.6 1216.8,1033.0 1213.4,1036.6 1208.4,1037.6 1201.8,1038.0 1185.8,1033.6 1177.1,1028.3 1174.1,1028.6 1172.1,1028.0 1166.1,1023.3 1161.4,1020.6 1158.8,1017.6 1154.1,1010.3 1150.1,1006.0 1139.8,987.3 1136.8,977.0 1134.8,972.3 1134.4,950.0 1135.4,945.6 1136.1,931.3 1139.4,925.0 1140.1,921.6 1142.8,917.3 1143.4,913.6 1145.4,911.6 1147.4,907.0 1154.1,897.6 1161.1,889.3 1165.8,887.0 1169.8,883.3 1172.4,882.0ZM1229.8,721.0 1230.1,722.3 1235.4,723.0 1249.8,722.3 1247.8,721.0 1242.8,720.3 1233.8,720.3ZM1267.8,699.3 1271.8,701.0 1277.8,701.0ZM1256.8,697.6 1261.1,699.0 1264.8,698.6ZM1241.1,696.0 1246.4,697.0 1249.4,696.6ZM1227.1,695.3 1231.1,696.3 1237.4,696.0Z" fill="#00aaff" fill-rule="evenodd"/>
<path d="M1229.1,1180.6 1235.4,1180.3 1234.1,1179.6 1230.1,1179.6ZM1177.8,1038.3 1177.8,1040.3 1179.1,1042.0 1181.1,1042.0 1180.4,1039.3 1179.1,1038.0ZM1175.1,1030.6 1174.8,1031.3 1175.4,1033.0 1179.4,1037.0 1184.4,1037.0 1190.4,1039.3 1192.1,1041.3 1193.1,1046.3 1195.8,1050.3 1195.1,1053.3 1194.1,1054.3 1190.8,1054.3 1190.4,1055.6 1193.1,1058.0 1192.8,1065.0 1195.4,1072.3 1196.4,1078.3 1198.1,1082.3 1200.8,1095.6 1200.4,1101.6 1198.4,1109.3 1197.8,1116.0 1196.4,1118.3 1195.4,1123.6 1187.8,1134.3 1186.4,1139.3 1184.4,1143.6 1184.8,1152.0 1186.1,1156.6 1191.1,1165.6 1203.8,1178.6 1207.8,1180.3 1214.8,1180.0 1218.1,1178.6 1220.4,1176.6 1221.8,1173.6 1231.1,1163.3 1233.4,1157.6 1236.1,1153.6 1236.1,1152.3 1234.8,1150.0 1235.1,1147.0 1234.4,1142.6 1232.8,1139.6 1228.8,1126.6 1227.4,1124.6 1226.1,1118.3 1226.1,1106.0 1227.8,1100.6 1227.4,1095.0 1228.1,1088.6 1230.1,1083.6 1232.8,1080.0 1235.4,1070.6 1238.1,1066.0 1236.4,1062.0 1236.8,1060.0 1240.8,1056.3 1243.4,1055.0 1238.1,1055.0 1236.4,1054.3 1235.8,1053.0 1237.8,1050.3 1237.8,1048.6 1243.1,1044.6 1246.8,1044.6 1251.1,1041.6 1256.1,1039.3 1255.1,1038.3 1253.8,1038.3 1250.1,1040.6 1246.4,1040.6 1243.4,1041.6 1238.1,1041.6 1235.8,1042.3 1230.8,1040.6 1222.8,1039.3 1217.4,1036.3 1215.4,1036.3 1209.4,1038.6 1202.4,1039.0 1195.8,1037.3 1190.8,1035.3 1186.8,1036.3 1177.8,1030.6ZM1262.8,873.0 1264.4,874.6 1267.8,875.6 1265.4,872.6 1264.1,872.3ZM1190.4,870.3 1187.8,870.0 1183.8,872.3 1182.1,874.3 1189.4,871.6ZM1246.8,816.0 1247.1,817.6 1250.1,819.6 1253.4,819.6 1254.4,819.0 1253.1,817.0 1249.8,815.3ZM1202.8,773.0 1203.1,775.0 1204.1,776.0 1208.1,775.3 1208.1,774.3 1206.4,773.0ZM1238.4,729.0 1233.4,728.6 1230.1,729.6 1223.8,736.6 1219.4,738.0 1217.8,741.6 1213.4,745.6 1209.1,756.0 1208.4,760.6 1210.4,768.3 1210.8,773.6 1214.8,778.3 1217.1,782.3 1216.1,785.0 1211.1,784.6 1210.4,785.6 1212.1,788.0 1217.1,788.0 1218.1,789.6 1219.1,800.0 1218.8,808.6 1217.1,815.6 1211.1,826.3 1207.1,840.3 1206.8,845.3 1208.4,852.0 1208.1,856.0 1202.8,857.6 1201.8,858.6 1201.4,865.3 1196.1,867.3 1194.4,869.0 1199.1,869.6 1201.4,867.6 1203.8,867.3 1206.8,869.6 1214.8,869.3 1222.8,870.3 1227.4,872.0 1233.4,870.6 1249.4,871.6 1251.1,872.3 1256.1,871.0 1258.4,871.3 1257.4,868.3 1248.4,859.0 1250.8,855.3 1250.8,854.0 1248.8,852.3 1248.4,849.3 1249.8,843.3 1249.8,837.6 1249.1,836.3 1249.1,832.3 1246.1,824.3 1244.8,819.3 1244.8,816.0 1243.4,813.3 1244.1,801.3 1245.4,796.6 1244.8,794.3 1245.1,789.3 1245.8,786.6 1247.8,784.0 1251.8,780.0 1255.1,777.6 1259.1,780.3 1259.4,779.3 1258.1,778.3 1258.8,777.6 1265.8,776.0 1267.1,775.0 1267.1,774.0 1264.4,771.0 1259.1,771.0 1258.1,769.6 1258.4,766.3 1259.8,762.3 1259.8,759.6 1258.8,753.0 1257.8,751.3 1257.8,746.6 1251.4,740.3 1251.4,738.0 1250.8,736.6 1248.1,734.0Z" fill="#00ffff" fill-rule="evenodd"/>
<path d="M1217.4,1037.0 1215.1,1037.0 1210.8,1039.6 1203.8,1039.6 1202.1,1040.6 1197.4,1040.6 1196.1,1040.0 1193.8,1040.3 1194.4,1041.3 1196.8,1042.3 1199.4,1045.6 1197.8,1052.3 1195.8,1057.3 1195.1,1066.3 1200.8,1088.3 1201.8,1099.0 1199.4,1109.6 1199.1,1115.6 1197.1,1123.0 1189.4,1134.0 1186.1,1145.3 1186.8,1147.0 1186.8,1152.0 1187.8,1155.6 1192.1,1163.6 1198.8,1171.0 1202.4,1173.0 1205.4,1175.6 1208.8,1177.0 1213.8,1176.6 1219.8,1172.3 1228.8,1163.3 1233.4,1153.0 1232.8,1151.0 1232.8,1143.6 1229.8,1133.3 1226.1,1124.3 1224.8,1118.0 1224.8,1115.0 1225.4,1111.6 1225.4,1104.0 1226.4,1100.6 1226.1,1095.6 1226.8,1094.0 1227.1,1088.0 1232.1,1077.3 1235.4,1066.6 1234.1,1061.0 1234.1,1057.3 1231.4,1052.0 1231.1,1049.3 1232.8,1047.0 1237.4,1044.3 1233.1,1043.6 1229.8,1041.6 1221.8,1040.0ZM1261.1,773.6 1261.1,774.6 1262.1,775.3 1264.4,774.3 1263.8,773.0 1262.1,773.0ZM1235.8,733.6 1233.4,734.3 1228.4,737.3 1224.1,738.6 1217.4,744.0 1215.1,746.6 1212.4,752.0 1211.1,756.3 1210.4,762.6 1211.8,767.6 1212.1,772.0 1218.4,782.6 1218.4,786.6 1219.8,793.3 1219.8,808.6 1217.8,817.0 1212.4,827.0 1211.1,830.6 1209.8,838.0 1208.8,840.3 1208.4,843.6 1210.1,850.3 1210.4,856.3 1209.1,858.0 1205.1,859.6 1208.1,860.6 1209.1,862.0 1206.1,866.0 1209.1,868.0 1212.8,867.6 1225.4,870.6 1229.1,870.6 1233.8,869.3 1236.1,869.3 1238.4,870.3 1247.4,871.0 1248.4,870.0 1254.1,869.6 1254.1,869.0 1252.1,867.0 1248.8,865.6 1246.8,863.3 1244.8,863.0 1243.4,862.0 1243.4,860.3 1246.4,855.3 1246.1,853.3 1248.1,841.0 1247.4,833.6 1244.1,822.3 1242.4,814.0 1244.1,797.3 1243.8,790.0 1245.1,785.6 1251.8,778.3 1255.8,771.6 1258.1,762.0 1257.1,754.0 1254.4,746.0 1246.8,739.0 1245.8,737.0 1243.8,735.3 1239.1,733.6Z" fill="#00ffc0" fill-rule="evenodd"/>
<path d="M1217.1,1038.0 1215.1,1038.0 1216.1,1039.0 1215.8,1039.3 1205.8,1040.3 1201.8,1042.6 1201.8,1047.3 1197.8,1057.3 1197.1,1066.3 1198.4,1072.0 1198.4,1075.3 1202.4,1091.3 1202.4,1100.6 1200.4,1109.6 1200.1,1117.0 1197.8,1124.6 1190.4,1135.3 1188.1,1144.0 1189.4,1154.6 1193.4,1162.3 1201.1,1170.3 1209.1,1174.6 1212.8,1174.3 1219.1,1170.3 1227.1,1162.3 1231.1,1153.3 1230.8,1142.6 1228.8,1134.6 1225.1,1125.3 1223.4,1117.6 1224.4,1111.3 1224.1,1109.0 1225.1,1101.3 1225.4,1091.0 1226.1,1087.6 1231.1,1075.6 1233.4,1065.3 1232.4,1062.6 1232.1,1058.6 1229.1,1051.3 1229.1,1047.0 1229.8,1045.0 1226.1,1042.0 1218.1,1040.0 1217.8,1039.3 1218.4,1038.6ZM1238.8,736.3 1235.8,736.3 1223.4,741.6 1217.1,747.3 1213.8,753.6 1212.1,760.0 1213.1,770.3 1219.1,781.0 1220.8,793.3 1220.4,810.3 1218.8,817.0 1214.4,825.6 1212.1,832.0 1210.4,840.3 1210.4,844.3 1213.1,858.6 1212.8,865.0 1216.8,868.0 1226.1,870.3 1235.4,868.6 1238.1,869.0 1240.1,868.0 1244.4,868.6 1245.4,867.0 1244.4,865.6 1242.1,864.6 1240.8,862.6 1241.4,859.3 1243.1,856.6 1245.4,849.0 1246.4,841.3 1246.4,837.6 1245.1,829.3 1242.8,822.0 1241.1,813.3 1242.8,800.3 1242.4,790.6 1243.8,785.6 1251.4,776.3 1254.1,771.0 1256.1,763.6 1255.8,757.6 1253.1,748.0 1246.8,741.3Z" fill="#00f080" fill-rule="evenodd"/>
<path d="M1216.4,1040.3 1208.4,1040.6 1205.4,1042.3 1204.1,1044.0 1203.8,1048.3 1198.8,1057.6 1198.1,1067.6 1199.1,1076.0 1202.8,1091.0 1202.8,1100.6 1200.8,1110.3 1200.4,1117.0 1198.4,1124.3 1190.8,1135.6 1188.8,1144.6 1189.8,1153.3 1193.8,1161.6 1201.4,1169.6 1209.1,1174.0 1211.8,1174.0 1218.8,1169.6 1226.8,1161.6 1230.1,1154.0 1230.4,1148.3 1230.1,1142.6 1228.8,1136.6 1224.8,1125.6 1223.1,1117.6 1224.1,1111.3 1224.1,1102.3 1224.8,1100.6 1225.4,1088.6 1230.4,1076.0 1232.4,1065.3 1230.8,1058.0 1226.8,1050.3 1226.8,1045.0 1223.8,1042.0ZM1238.8,737.0 1235.8,737.0 1225.4,741.3 1220.1,745.3 1217.4,748.0 1214.4,754.0 1212.8,760.3 1213.8,771.0 1220.1,782.6 1221.1,792.6 1221.1,808.6 1219.1,817.3 1215.1,825.3 1212.4,832.6 1211.1,843.6 1212.8,853.0 1215.4,859.3 1215.8,864.6 1219.1,868.0 1225.4,869.6 1234.8,868.3 1239.1,865.6 1238.4,864.6 1238.4,861.3 1244.4,849.6 1245.8,842.3 1245.8,837.6 1245.1,836.0 1244.8,830.0 1242.4,822.6 1240.8,813.6 1242.4,800.3 1242.1,790.3 1243.8,785.0 1251.1,775.6 1253.4,771.0 1255.4,763.6 1255.1,757.6 1252.4,748.3 1246.1,741.6Z" fill="#00f040" fill-rule="evenodd"/>
<path d="M1215.8,1040.6 1209.8,1041.0 1206.8,1043.3 1199.1,1058.6 1198.8,1069.0 1199.4,1075.3 1202.8,1088.0 1203.4,1099.0 1201.4,1109.0 1200.8,1117.3 1199.1,1123.6 1191.1,1136.3 1189.4,1144.3 1190.4,1153.3 1194.1,1161.0 1201.8,1169.0 1209.4,1173.3 1211.4,1173.3 1218.4,1169.0 1226.1,1161.3 1229.4,1154.0 1229.8,1148.3 1229.4,1142.3 1228.4,1139.6 1227.8,1134.6 1224.4,1126.3 1222.8,1117.3 1225.1,1088.0 1230.1,1075.0 1231.8,1065.3 1230.4,1059.0 1226.4,1051.6 1224.4,1045.3 1222.8,1042.6 1221.4,1041.6ZM1238.4,737.6 1236.1,737.6 1225.8,742.0 1220.4,746.0 1218.1,748.3 1216.1,752.0 1213.4,760.6 1214.1,770.3 1220.4,782.3 1221.4,792.0 1221.4,809.0 1219.4,817.6 1215.8,825.0 1212.8,833.3 1211.8,844.0 1213.1,851.6 1218.1,865.0 1219.8,867.6 1225.1,869.3 1228.8,869.3 1232.8,868.3 1236.1,865.6 1237.4,861.0 1240.8,856.3 1244.1,848.3 1245.1,842.6 1244.8,833.3 1240.4,814.0 1242.1,800.3 1241.8,790.0 1243.4,784.6 1250.4,776.0 1252.8,771.3 1254.8,764.0 1254.4,757.6 1251.8,748.6 1245.8,742.3Z" fill="#00f000" fill-rule="evenodd"/>
<path d="M1214.1,1040.6 1209.8,1041.6 1207.4,1043.6 1199.8,1058.3 1199.4,1070.6 1200.1,1072.0 1200.1,1076.0 1203.1,1087.6 1203.8,1099.0 1201.8,1109.0 1201.1,1117.6 1199.4,1124.0 1191.8,1136.3 1190.1,1144.0 1191.1,1153.3 1194.8,1160.6 1202.1,1168.3 1209.4,1172.6 1211.4,1172.6 1217.8,1168.6 1225.4,1161.0 1228.8,1153.6 1229.1,1148.3 1228.1,1138.6 1226.4,1132.3 1223.8,1126.0 1222.4,1117.0 1224.8,1088.0 1229.4,1075.6 1231.1,1068.0 1231.1,1065.0 1229.4,1058.0 1225.8,1052.0 1223.8,1046.0 1222.1,1043.0 1220.1,1041.6ZM1238.4,738.3 1236.1,738.3 1226.8,742.3 1220.8,746.6 1218.8,748.6 1215.8,754.3 1214.1,760.3 1214.8,770.6 1220.8,782.3 1221.8,791.0 1221.8,809.0 1219.8,817.6 1217.8,821.3 1213.4,832.6 1212.4,844.3 1213.8,852.0 1219.1,865.3 1221.1,868.0 1225.8,869.3 1231.4,868.3 1235.4,865.3 1237.1,860.0 1240.1,856.0 1243.4,848.6 1244.8,838.0 1244.1,836.3 1243.8,830.0 1242.4,826.3 1240.1,814.3 1241.8,800.0 1241.1,791.0 1242.8,785.0 1251.1,773.6 1254.1,764.3 1253.8,757.6 1251.1,749.0 1245.4,743.0Z" fill="#55f000" fill-rule="evenodd"/>
<path d="M1214.8,1041.0 1211.4,1041.6 1208.1,1044.0 1205.8,1049.0 1202.8,1053.3 1200.4,1058.6 1200.4,1075.3 1201.1,1076.3 1203.4,1087.3 1204.4,1096.6 1202.1,1109.3 1201.4,1118.0 1199.8,1124.3 1192.1,1136.6 1190.8,1143.3 1191.8,1153.3 1195.1,1160.0 1202.8,1168.0 1209.8,1172.0 1211.8,1171.6 1217.4,1168.0 1225.1,1160.3 1228.1,1153.6 1228.4,1144.0 1227.1,1136.3 1223.4,1126.0 1222.1,1116.6 1224.4,1087.6 1229.1,1075.0 1230.4,1065.3 1229.1,1059.0 1226.4,1055.0 1222.1,1044.3 1219.8,1042.0ZM1238.1,739.0 1236.4,739.0 1226.8,743.0 1221.4,747.0 1219.1,749.3 1216.1,755.3 1214.4,762.0 1215.1,770.0 1221.1,782.0 1222.1,789.3 1222.1,809.3 1220.1,818.0 1216.4,825.6 1213.8,833.6 1213.1,844.0 1214.4,852.0 1220.4,866.3 1221.4,867.6 1225.8,869.0 1231.1,868.0 1234.8,865.0 1236.1,860.6 1239.4,856.0 1242.8,848.6 1244.1,841.0 1243.8,833.3 1239.4,813.3 1240.8,807.3 1241.4,800.0 1240.8,790.6 1242.4,784.6 1248.8,776.6 1252.1,770.3 1253.8,762.6 1252.8,756.0 1250.8,749.6 1244.8,743.3Z" fill="#aaff00" fill-rule="evenodd"/>
<path d="M1215.1,1041.3 1213.8,1041.3 1209.1,1043.6 1206.8,1048.6 1203.1,1054.0 1200.8,1059.3 1200.4,1067.6 1201.1,1075.6 1203.8,1087.0 1204.8,1097.0 1202.4,1109.3 1202.1,1117.6 1201.4,1118.3 1200.1,1124.6 1192.8,1136.6 1191.4,1143.0 1192.4,1153.0 1195.8,1159.6 1203.1,1167.3 1210.1,1171.3 1217.1,1167.3 1224.4,1160.0 1227.4,1153.3 1227.8,1143.0 1226.1,1134.6 1223.1,1126.3 1221.4,1117.0 1222.8,1108.0 1223.4,1090.6 1228.4,1075.3 1230.1,1066.0 1228.4,1059.0 1225.8,1055.0 1220.8,1043.3ZM1237.8,739.6 1227.1,743.6 1219.8,749.6 1216.8,755.3 1215.1,762.0 1215.8,770.3 1221.1,780.3 1221.8,786.0 1222.4,786.6 1222.4,809.3 1220.8,817.6 1216.8,825.6 1214.4,833.0 1213.4,843.3 1214.4,846.3 1215.1,852.0 1219.4,863.0 1222.4,867.6 1225.4,868.6 1229.4,868.3 1234.1,864.6 1235.4,860.6 1239.1,855.3 1242.4,848.0 1243.4,841.0 1243.1,832.6 1239.1,814.0 1241.1,800.0 1240.4,790.3 1242.1,784.3 1248.4,776.3 1251.4,770.3 1253.1,763.3 1252.1,756.0 1250.1,750.0 1244.4,744.0Z" fill="#ffff00" fill-rule="evenodd"/>
<path d="M1215.1,1041.6 1213.8,1041.6 1209.4,1044.0 1207.1,1048.6 1203.8,1053.3 1201.1,1059.0 1200.8,1070.6 1204.1,1087.3 1204.8,1097.3 1202.4,1109.6 1202.1,1117.6 1200.4,1124.3 1192.8,1137.0 1191.8,1142.6 1192.8,1153.0 1196.1,1159.6 1203.1,1167.0 1210.1,1171.0 1217.1,1167.0 1224.1,1160.0 1227.1,1153.3 1227.4,1142.6 1226.4,1136.6 1225.8,1136.0 1222.8,1126.3 1221.4,1117.0 1222.8,1107.6 1223.8,1087.6 1228.1,1075.3 1229.8,1065.6 1228.4,1059.3 1225.8,1055.3 1220.4,1043.6ZM1237.8,740.0 1227.1,744.0 1220.1,749.6 1217.1,755.3 1215.4,761.6 1216.1,770.3 1221.8,782.0 1222.4,786.6 1222.4,809.6 1220.8,817.6 1217.1,825.6 1214.8,833.0 1213.8,843.6 1215.1,851.6 1217.8,857.0 1219.1,861.3 1221.8,866.6 1225.8,868.6 1229.4,868.0 1233.8,864.3 1236.1,858.6 1238.8,855.3 1242.1,848.3 1243.4,837.6 1242.8,836.3 1242.4,829.6 1240.4,822.3 1239.1,814.0 1241.1,799.6 1240.4,790.0 1242.1,784.3 1249.8,773.3 1251.8,768.6 1252.8,763.6 1251.8,756.0 1249.8,750.0 1244.4,744.3Z" fill="#ffc000" fill-rule="evenodd"/>
<path d="M1215.1,1042.0 1213.8,1042.0 1209.8,1044.0 1207.4,1048.6 1204.1,1053.3 1201.4,1059.0 1201.4,1075.3 1204.1,1087.0 1205.1,1097.3 1202.8,1109.6 1202.4,1118.0 1201.4,1119.6 1200.1,1125.6 1193.1,1137.0 1192.1,1142.6 1193.1,1153.0 1196.4,1159.6 1203.1,1166.6 1210.1,1170.6 1217.1,1166.6 1223.8,1160.0 1226.8,1153.3 1227.1,1142.6 1226.1,1136.6 1222.8,1126.6 1221.1,1116.6 1222.4,1107.6 1223.1,1090.6 1228.1,1075.0 1229.4,1065.6 1228.1,1059.3 1225.4,1055.3 1220.1,1043.6ZM1237.8,740.3 1227.1,744.3 1220.4,749.6 1217.4,755.3 1215.8,761.6 1216.1,770.0 1221.4,780.3 1222.8,786.3 1222.8,809.6 1221.1,818.0 1217.1,826.0 1214.8,833.3 1214.1,843.6 1215.4,851.6 1218.1,857.0 1219.4,861.3 1222.1,866.6 1225.4,868.3 1229.1,868.0 1233.4,864.3 1235.8,858.6 1238.4,855.3 1241.8,848.3 1243.1,840.6 1242.8,833.0 1238.8,814.3 1240.8,799.6 1240.1,790.0 1241.4,784.6 1249.8,773.0 1251.1,770.0 1252.4,763.6 1251.4,756.0 1249.4,750.0 1244.4,744.6Z" fill="#ff8000" fill-rule="evenodd"/>
<path d="M1214.8,1042.3 1210.1,1044.3 1207.8,1049.0 1204.4,1053.6 1201.8,1059.3 1201.8,1075.3 1204.4,1087.0 1205.1,1097.3 1202.8,1109.6 1202.4,1118.0 1200.8,1124.6 1193.4,1137.0 1192.4,1143.0 1193.4,1152.6 1196.8,1159.3 1203.4,1166.3 1210.4,1170.3 1216.8,1166.3 1223.4,1159.6 1226.4,1153.0 1226.8,1143.0 1225.8,1136.6 1222.4,1126.6 1221.1,1116.6 1222.4,1107.6 1223.4,1087.3 1227.8,1075.0 1229.1,1066.0 1227.8,1059.6 1225.1,1055.6 1219.8,1044.0ZM1237.4,740.6 1226.1,745.3 1220.8,750.0 1217.8,755.6 1216.1,762.0 1216.4,770.0 1221.8,780.3 1222.8,786.3 1222.8,809.6 1221.1,818.0 1217.4,826.0 1215.1,833.3 1214.4,843.3 1215.8,851.3 1218.4,856.6 1219.8,861.0 1222.4,866.3 1226.1,868.3 1228.8,867.6 1233.1,864.0 1235.4,858.3 1238.1,855.0 1241.4,848.0 1242.8,840.3 1242.4,833.0 1238.8,814.3 1240.8,799.6 1240.1,790.0 1241.8,784.0 1249.4,773.0 1250.8,770.0 1252.1,763.3 1251.1,756.3 1249.1,750.3 1244.1,745.0Z" fill="#ff4500" fill-rule="evenodd"/>
<path d="M1214.8,1042.3 1210.1,1044.3 1207.8,1049.0 1204.4,1053.6 1201.8,1059.3 1201.8,1063.0 1201.4,1063.3 1201.8,1075.3 1204.4,1087.0 1205.1,1097.3 1203.8,1106.0 1202.8,1109.6 1202.4,1118.0 1200.8,1124.6 1193.4,1137.0 1192.4,1143.0 1193.4,1152.6 1196.8,1159.3 1203.4,1166.3 1210.4,1170.3 1216.8,1166.3 1223.4,1159.6 1226.4,1153.0 1226.4,1148.3 1226.8,1148.0 1226.8,1143.0 1225.8,1136.6 1222.4,1126.6 1221.1,1116.6 1222.4,1107.6 1222.4,1101.0 1222.8,1100.6 1222.8,1094.3 1223.1,1094.0 1223.4,1087.3 1227.8,1075.0 1229.1,1066.0 1227.8,1059.6 1225.1,1055.6 1219.8,1044.0ZM1237.4,740.6 1226.1,745.3 1220.8,750.0 1217.8,755.6 1216.1,762.0 1216.4,770.0 1221.8,780.3 1222.8,786.3 1222.8,809.6 1221.1,818.0 1217.4,826.0 1215.1,833.3 1214.4,843.3 1215.8,851.3 1218.4,856.6 1219.8,861.0 1222.4,866.3 1226.1,868.3 1228.8,867.6 1233.1,864.0 1235.4,858.3 1238.1,855.0 1241.4,848.0 1242.8,840.3 1242.4,833.0 1238.8,814.3 1240.1,807.0 1240.4,800.0 1240.8,799.6 1240.1,790.0 1241.8,784.0 1247.8,776.0 1250.8,770.0 1252.1,763.3 1251.1,756.3 1249.1,750.3 1244.1,745.0Z" fill="#ff0000" fill-rule="evenodd"/>
<ellipse cx="1237.9" cy="758.6" rx="6.3" ry="2.7" fill="#ffffff" transform="rotate(-8 1237.9 758.6)"/>
<ellipse cx="1226.9" cy="874" rx="1.6" ry="3.8" fill="#e02000" transform="rotate(-35 1226.9 874)"/>
<ellipse cx="1216.2" cy="1034.2" rx="1.5" ry="2.6" fill="#e02000" transform="rotate(-25 1216.2 1034.2)"/>
<ellipse cx="1220.1" cy="1032" rx="1.3" ry="1.6" fill="#ffffff" transform="rotate(30 1220.1 1032)"/>
<polygon points="1008.8,934.3 1012.3,934.3 1010.4,939.1 1010.4,943.6 1013.6,947.4 1011.7,947.7 1009.1,944.2 1008.2,939.1" fill="#20c0a0"/>
<polygon points="1009.6,937.6 1011.4,936.2 1010.6,943 1009.4,942" fill="#80e040"/>
<polygon points="1012.3,935 1016.4,934.3 1018.7,939.1 1019.3,942.3 1018.3,947.7 1015.5,948 1012.9,944.8 1010.4,943.6 1010.1,939.1 1011.7,936.6" fill="#ff0000"/>
<polygon points="1430.2,967.2 1432.7,969.1 1430.5,971.7" fill="#3030b0"/>
<polygon points="1424.1,962.3 1427.6,962.1 1430.2,967.2 1430.5,972.3 1429.5,975.8 1427,975.8 1423.8,969.1" fill="#ff0000"/>
<circle cx="1223.6" cy="954.8" r="58" fill="#c3c3c3"/>
<g fill="none" stroke="#6a6a6a" stroke-width="1.05"><circle cx="1223.6" cy="954.8" r="43.42"/><circle cx="1223.6" cy="954.8" r="86.83"/><circle cx="1223.6" cy="954.8" r="130.25"/><circle cx="1223.6" cy="954.8" r="173.67"/><circle cx="1223.6" cy="954.8" r="217.08"/><line x1="1223.6" y1="933.09" x2="1223.6" y2="694.3"/><line x1="1234.45" y1="936" x2="1353.85" y2="729.2"/><line x1="1242.4" y1="943.95" x2="1449.2" y2="824.55"/><line x1="1245.31" y1="954.8" x2="1484.1" y2="954.8"/><line x1="1242.4" y1="965.65" x2="1449.2" y2="1085.05"/><line x1="1234.45" y1="973.6" x2="1353.85" y2="1180.4"/><line x1="1223.6" y1="976.51" x2="1223.6" y2="1215.3"/><line x1="1212.75" y1="973.6" x2="1093.35" y2="1180.4"/><line x1="1204.8" y1="965.65" x2="998" y2="1085.05"/><line x1="1201.89" y1="954.8" x2="963.1" y2="954.8"/><line x1="1204.8" y1="943.95" x2="998" y2="824.55"/><line x1="1212.75" y1="936" x2="1093.35" y2="729.2"/></g>
<circle cx="1223.6" cy="954.8" r="260.5" fill="none" stroke="#222" stroke-width="1.05"/>
<line x1="910.6" y1="693.25" x2="910.6" y2="1216.35" stroke="#000" stroke-width="2.205"/>
<line x1="899.26" y1="694.3" x2="910.6" y2="694.3" stroke="#000" stroke-width="1.9949999999999999"/>
<text x="893.59" y="703.85" font-size="26.25" font-weight="bold" text-anchor="end" fill="#000">60</text>
<line x1="904.3" y1="716.01" x2="910.6" y2="716.01" stroke="#000" stroke-width="1.9949999999999999"/>
<line x1="899.26" y1="737.72" x2="910.6" y2="737.72" stroke="#000" stroke-width="1.9949999999999999"/>
<text x="893.59" y="747.27" font-size="26.25" font-weight="bold" text-anchor="end" fill="#000">50</text>
<line x1="904.3" y1="759.42" x2="910.6" y2="759.42" stroke="#000" stroke-width="1.9949999999999999"/>
<line x1="899.26" y1="781.13" x2="910.6" y2="781.13" stroke="#000" stroke-width="1.9949999999999999"/>
<text x="893.59" y="790.69" font-size="26.25" font-weight="bold" text-anchor="end" fill="#000">40</text>
<line x1="904.3" y1="802.84" x2="910.6" y2="802.84" stroke="#000" stroke-width="1.9949999999999999"/>
<line x1="899.26" y1="824.55" x2="910.6" y2="824.55" stroke="#000" stroke-width="1.9949999999999999"/>
<text x="893.59" y="834.1" font-size="26.25" font-weight="bold" text-anchor="end" fill="#000">30</text>
<line x1="904.3" y1="846.26" x2="910.6" y2="846.26" stroke="#000" stroke-width="1.9949999999999999"/>
<line x1="899.26" y1="867.97" x2="910.6" y2="867.97" stroke="#000" stroke-width="1.9949999999999999"/>
<text x="893.59" y="877.52" font-size="26.25" font-weight="bold" text-anchor="end" fill="#000">20</text>
<line x1="904.3" y1="889.67" x2="910.6" y2="889.67" stroke="#000" stroke-width="1.9949999999999999"/>
<line x1="899.26" y1="911.38" x2="910.6" y2="911.38" stroke="#000" stroke-width="1.9949999999999999"/>
<text x="893.59" y="920.94" font-size="26.25" font-weight="bold" text-anchor="end" fill="#000">10</text>
<line x1="904.3" y1="933.09" x2="910.6" y2="933.09" stroke="#000" stroke-width="1.9949999999999999"/>
<line x1="899.26" y1="954.8" x2="910.6" y2="954.8" stroke="#000" stroke-width="1.9949999999999999"/>
<text x="893.59" y="964.35" font-size="26.25" font-weight="bold" text-anchor="end" fill="#000">0</text>
<line x1="904.3" y1="976.51" x2="910.6" y2="976.51" stroke="#000" stroke-width="1.9949999999999999"/>
<line x1="899.26" y1="998.22" x2="910.6" y2="998.22" stroke="#000" stroke-width="1.9949999999999999"/>
<text x="893.59" y="1007.77" font-size="26.25" font-weight="bold" text-anchor="end" fill="#000">10</text>
<line x1="904.3" y1="1019.92" x2="910.6" y2="1019.92" stroke="#000" stroke-width="1.9949999999999999"/>
<line x1="899.26" y1="1041.63" x2="910.6" y2="1041.63" stroke="#000" stroke-width="1.9949999999999999"/>
<text x="893.59" y="1051.19" font-size="26.25" font-weight="bold" text-anchor="end" fill="#000">20</text>
<line x1="904.3" y1="1063.34" x2="910.6" y2="1063.34" stroke="#000" stroke-width="1.9949999999999999"/>
<line x1="899.26" y1="1085.05" x2="910.6" y2="1085.05" stroke="#000" stroke-width="1.9949999999999999"/>
<text x="893.59" y="1094.61" font-size="26.25" font-weight="bold" text-anchor="end" fill="#000">30</text>
<line x1="904.3" y1="1106.76" x2="910.6" y2="1106.76" stroke="#000" stroke-width="1.9949999999999999"/>
<line x1="899.26" y1="1128.47" x2="910.6" y2="1128.47" stroke="#000" stroke-width="1.9949999999999999"/>
<text x="893.59" y="1138.02" font-size="26.25" font-weight="bold" text-anchor="end" fill="#000">40</text>
<line x1="904.3" y1="1150.17" x2="910.6" y2="1150.17" stroke="#000" stroke-width="1.9949999999999999"/>
<line x1="899.26" y1="1171.88" x2="910.6" y2="1171.88" stroke="#000" stroke-width="1.9949999999999999"/>
<text x="893.59" y="1181.44" font-size="26.25" font-weight="bold" text-anchor="end" fill="#000">50</text>
<line x1="904.3" y1="1193.59" x2="910.6" y2="1193.59" stroke="#000" stroke-width="1.9949999999999999"/>
<line x1="899.26" y1="1215.3" x2="910.6" y2="1215.3" stroke="#000" stroke-width="1.9949999999999999"/>
<text x="893.59" y="1224.86" font-size="26.25" font-weight="bold" text-anchor="end" fill="#000">60</text>
<text x="1223.6" y="676.65" font-size="26.25" font-weight="bold" text-anchor="middle" fill="#000">0</text>
<text x="1373.86" y="713.93" font-size="26.25" font-weight="bold" text-anchor="middle" fill="#000">30</text>
<text x="1473.29" y="813.37" font-size="26.25" font-weight="bold" text-anchor="middle" fill="#000">60</text>
<text x="1508.99" y="963.83" font-size="26.25" font-weight="bold" text-anchor="middle" fill="#000">90</text>
<text x="1480.74" y="1115.35" font-size="26.25" font-weight="bold" text-anchor="middle" fill="#000">120</text>
<text x="1381.83" y="1214.88" font-size="26.25" font-weight="bold" text-anchor="middle" fill="#000">150</text>
<text x="1223.6" y="1252.06" font-size="26.25" font-weight="bold" text-anchor="middle" fill="#000">180</text>
<text x="1065.47" y="1214.88" font-size="26.25" font-weight="bold" text-anchor="middle" fill="#000">210</text>
<text x="966.03" y="1115.35" font-size="26.25" font-weight="bold" text-anchor="middle" fill="#000">240</text>
<text x="929.81" y="963.83" font-size="26.25" font-weight="bold" text-anchor="middle" fill="#000">270</text>
<text x="966.03" y="813.37" font-size="26.25" font-weight="bold" text-anchor="middle" fill="#000">300</text>
<text x="1065.47" y="713.93" font-size="26.25" font-weight="bold" text-anchor="middle" fill="#000">330</text>
<g shape-rendering="crispEdges">
<rect x="1550.6" y="997.42" width="48.4" height="17.18" fill="#ffffff"/>
<rect x="1550.6" y="980.54" width="48.4" height="17.18" fill="#ffffff"/>
<rect x="1550.6" y="963.65" width="48.4" height="17.18" fill="#0055ff"/>
<rect x="1550.6" y="946.77" width="48.4" height="17.18" fill="#00aaff"/>
<rect x="1550.6" y="929.89" width="48.4" height="17.18" fill="#00ffff"/>
<rect x="1550.6" y="913.01" width="48.4" height="17.18" fill="#00ffc0"/>
<rect x="1550.6" y="896.12" width="48.4" height="17.18" fill="#00f080"/>
<rect x="1550.6" y="879.24" width="48.4" height="17.18" fill="#00f040"/>
<rect x="1550.6" y="862.36" width="48.4" height="17.18" fill="#00f000"/>
<rect x="1550.6" y="845.48" width="48.4" height="17.18" fill="#55f000"/>
<rect x="1550.6" y="828.59" width="48.4" height="17.18" fill="#aaff00"/>
<rect x="1550.6" y="811.71" width="48.4" height="17.18" fill="#ffff00"/>
<rect x="1550.6" y="794.83" width="48.4" height="17.18" fill="#ffc000"/>
<rect x="1550.6" y="777.95" width="48.4" height="17.18" fill="#ff8000"/>
<rect x="1550.6" y="761.06" width="48.4" height="17.18" fill="#ff4500"/>
<rect x="1550.6" y="744.18" width="48.4" height="17.18" fill="#ff0000"/>
<rect x="1550.6" y="727.3" width="48.4" height="17.18" fill="#ff0000"/>
</g>
<rect x="1550.6" y="727.3" width="48.4" height="287" fill="none" stroke="#000" stroke-width="1.58"/>
<line x1="1599" y1="743.6" x2="1609.08" y2="743.6" stroke="#000" stroke-width="1.8900000000000001"/>
<text x="1618.11" y="752.63" font-size="26.25" font-weight="normal" text-anchor="start" fill="#000">50</text>
<line x1="1599" y1="998" x2="1609.08" y2="998" stroke="#000" stroke-width="1.8900000000000001"/>
<text x="1618.11" y="1007.03" font-size="26.25" font-weight="normal" text-anchor="start" fill="#000">1</text>
<text x="1618" y="658.2" font-size="34" font-weight="bold" text-anchor="end" fill="#000">LTO (112)</text>
<text x="837" y="665" font-size="39.5" font-weight="bold" text-anchor="start" fill="#000">(d)</text>
</svg>
</body></html>
